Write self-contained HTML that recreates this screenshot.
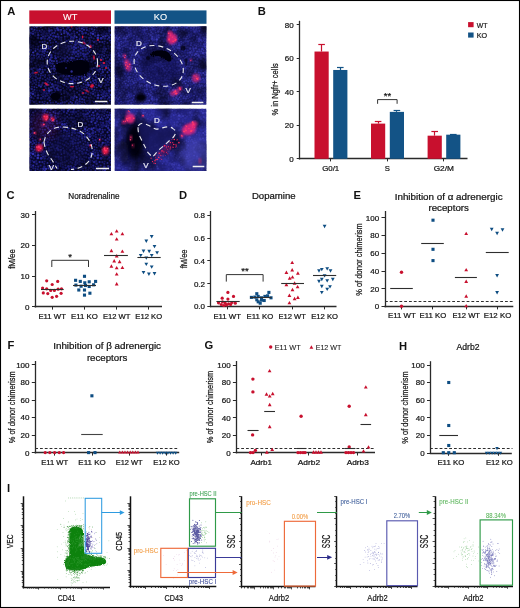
<!DOCTYPE html>
<html><head><meta charset="utf-8"><style>
html,body{margin:0;padding:0;background:#fff;}
body{width:520px;height:608px;overflow:hidden;font-family:"Liberation Sans", sans-serif;}
svg{display:block;will-change:transform;}
</style></head><body>
<svg width="520" height="608" viewBox="0 0 520 608" font-family='"Liberation Sans", sans-serif'>
<defs><pattern id="pA" width="60" height="60" patternUnits="userSpaceOnUse">
<circle cx="8.1" cy="50.8" r="1.23" fill="#3232b6" opacity="0.66"/>
<circle cx="45.7" cy="28.3" r="1.04" fill="#2a2aa6" opacity="0.66"/>
<circle cx="1.7" cy="50.1" r="1.07" fill="#222296" opacity="0.88"/>
<circle cx="16.0" cy="48.1" r="1.15" fill="#222296" opacity="0.96"/>
<circle cx="1.8" cy="1.5" r="1.12" fill="#1e1e86" opacity="0.88"/>
<circle cx="58.1" cy="43.6" r="1.11" fill="#1e1e86" opacity="0.98"/>
<circle cx="33.2" cy="20.7" r="1.19" fill="#1e1e86" opacity="0.98"/>
<circle cx="55.6" cy="25.0" r="1.31" fill="#222296" opacity="0.69"/>
<circle cx="-0.4" cy="51.6" r="0.91" fill="#3232b6" opacity="0.96"/>
<circle cx="59.6" cy="51.6" r="0.91" fill="#3232b6" opacity="0.96"/>
<circle cx="58.4" cy="30.0" r="1.33" fill="#2828a0" opacity="0.94"/>
<circle cx="40.2" cy="18.2" r="1.14" fill="#1e1e86" opacity="0.94"/>
<circle cx="30.3" cy="35.3" r="0.87" fill="#2a2aa6" opacity="0.90"/>
<circle cx="24.3" cy="39.9" r="1.03" fill="#3232b6" opacity="0.65"/>
<circle cx="39.8" cy="6.5" r="0.93" fill="#1e1e86" opacity="0.76"/>
<circle cx="18.5" cy="50.9" r="1.16" fill="#2828a0" opacity="0.77"/>
<circle cx="10.2" cy="30.1" r="1.34" fill="#2a2aa6" opacity="0.83"/>
<circle cx="51.6" cy="13.9" r="1.11" fill="#2828a0" opacity="0.75"/>
<circle cx="54.6" cy="39.6" r="1.15" fill="#222296" opacity="0.77"/>
<circle cx="51.4" cy="57.3" r="1.32" fill="#2828a0" opacity="0.93"/>
<circle cx="25.6" cy="3.4" r="1.29" fill="#2828a0" opacity="0.83"/>
<circle cx="48.8" cy="24.9" r="0.85" fill="#2828a0" opacity="0.86"/>
<circle cx="36.7" cy="27.5" r="0.86" fill="#2a2aa6" opacity="0.86"/>
<circle cx="33.0" cy="10.8" r="0.90" fill="#2828a0" opacity="0.92"/>
<circle cx="49.0" cy="15.3" r="1.27" fill="#222296" opacity="0.65"/>
<circle cx="45.3" cy="15.0" r="0.90" fill="#2828a0" opacity="0.69"/>
<circle cx="17.4" cy="10.0" r="0.98" fill="#2a2aa6" opacity="0.87"/>
<circle cx="42.2" cy="29.8" r="0.91" fill="#3232b6" opacity="0.77"/>
<circle cx="25.3" cy="11.3" r="0.90" fill="#2828a0" opacity="0.99"/>
<circle cx="57.9" cy="25.9" r="1.34" fill="#2a2aa6" opacity="0.63"/>
<circle cx="8.8" cy="43.1" r="0.93" fill="#2828a0" opacity="0.88"/>
<circle cx="32.7" cy="13.2" r="1.34" fill="#2828a0" opacity="0.79"/>
<circle cx="31.4" cy="1.8" r="1.19" fill="#3232b6" opacity="0.87"/>
<circle cx="25.6" cy="44.2" r="0.91" fill="#2a2aa6" opacity="0.95"/>
<circle cx="18.6" cy="56.4" r="1.22" fill="#1e1e86" opacity="0.83"/>
<circle cx="7.8" cy="33.6" r="1.28" fill="#2828a0" opacity="0.93"/>
<circle cx="57.7" cy="34.2" r="0.94" fill="#2828a0" opacity="0.81"/>
<circle cx="22.7" cy="20.8" r="0.95" fill="#1e1e86" opacity="0.84"/>
<circle cx="29.5" cy="56.3" r="1.05" fill="#2828a0" opacity="0.81"/>
<circle cx="54.0" cy="1.1" r="0.95" fill="#3232b6" opacity="0.93"/>
<circle cx="33.8" cy="8.1" r="1.06" fill="#3232b6" opacity="0.88"/>
<circle cx="20.6" cy="52.9" r="1.19" fill="#1e1e86" opacity="0.91"/>
<circle cx="2.4" cy="8.0" r="0.93" fill="#2828a0" opacity="0.70"/>
<circle cx="45.5" cy="36.0" r="1.27" fill="#3232b6" opacity="0.75"/>
<circle cx="6.8" cy="14.1" r="1.32" fill="#1e1e86" opacity="0.67"/>
<circle cx="2.3" cy="4.4" r="1.28" fill="#2a2aa6" opacity="0.93"/>
<circle cx="20.5" cy="36.9" r="1.24" fill="#1e1e86" opacity="0.65"/>
<circle cx="33.0" cy="34.0" r="1.33" fill="#3232b6" opacity="0.96"/>
<circle cx="33.9" cy="55.5" r="1.08" fill="#3232b6" opacity="0.66"/>
<circle cx="2.7" cy="17.7" r="1.16" fill="#222296" opacity="0.65"/>
<circle cx="6.9" cy="53.1" r="0.87" fill="#2a2aa6" opacity="0.92"/>
<circle cx="27.1" cy="40.9" r="0.93" fill="#222296" opacity="0.79"/>
<circle cx="57.9" cy="48.4" r="1.12" fill="#3232b6" opacity="0.83"/>
<circle cx="42.7" cy="18.9" r="0.95" fill="#3232b6" opacity="0.64"/>
<circle cx="0.6" cy="59.0" r="1.00" fill="#2828a0" opacity="0.74"/>
<circle cx="60.6" cy="59.0" r="1.00" fill="#2828a0" opacity="0.74"/>
<circle cx="23.5" cy="23.9" r="0.88" fill="#3232b6" opacity="0.99"/>
<circle cx="58.2" cy="6.7" r="0.96" fill="#2828a0" opacity="0.92"/>
<circle cx="53.5" cy="52.1" r="1.08" fill="#3232b6" opacity="0.72"/>
<circle cx="32.5" cy="18.4" r="0.97" fill="#222296" opacity="0.93"/>
<circle cx="5.4" cy="45.2" r="0.90" fill="#2828a0" opacity="0.86"/>
<circle cx="18.4" cy="19.6" r="1.01" fill="#2828a0" opacity="0.96"/>
<circle cx="35.8" cy="14.7" r="0.86" fill="#2a2aa6" opacity="0.77"/>
<circle cx="16.1" cy="52.1" r="1.21" fill="#222296" opacity="0.86"/>
<circle cx="29.6" cy="51.8" r="0.93" fill="#2828a0" opacity="0.92"/>
<circle cx="19.7" cy="30.6" r="1.18" fill="#2a2aa6" opacity="0.91"/>
<circle cx="19.2" cy="6.4" r="1.11" fill="#2828a0" opacity="0.73"/>
<circle cx="53.6" cy="8.5" r="1.31" fill="#222296" opacity="0.92"/>
<circle cx="49.3" cy="37.4" r="1.19" fill="#2828a0" opacity="0.94"/>
<circle cx="44.8" cy="41.4" r="0.94" fill="#1e1e86" opacity="0.82"/>
<circle cx="40.9" cy="26.8" r="1.07" fill="#3232b6" opacity="0.83"/>
<circle cx="51.1" cy="27.2" r="1.05" fill="#3232b6" opacity="0.69"/>
<circle cx="29.1" cy="47.6" r="1.32" fill="#2828a0" opacity="0.63"/>
<circle cx="41.5" cy="34.8" r="1.15" fill="#2a2aa6" opacity="0.72"/>
<circle cx="24.1" cy="36.7" r="0.97" fill="#222296" opacity="0.69"/>
<circle cx="55.2" cy="55.8" r="1.17" fill="#2a2aa6" opacity="0.71"/>
<circle cx="29.7" cy="28.7" r="0.96" fill="#1e1e86" opacity="0.75"/>
<circle cx="36.7" cy="43.7" r="1.18" fill="#2a2aa6" opacity="0.64"/>
<circle cx="4.3" cy="30.7" r="1.29" fill="#2a2aa6" opacity="0.81"/>
<circle cx="47.5" cy="12.2" r="1.00" fill="#3232b6" opacity="0.94"/>
<circle cx="22.3" cy="42.1" r="1.22" fill="#2828a0" opacity="0.65"/>
<circle cx="7.4" cy="36.4" r="1.11" fill="#1e1e86" opacity="0.69"/>
<circle cx="15.0" cy="13.1" r="1.13" fill="#222296" opacity="0.81"/>
<circle cx="23.0" cy="50.7" r="1.12" fill="#222296" opacity="0.82"/>
<circle cx="5.0" cy="58.5" r="1.33" fill="#2828a0" opacity="0.94"/>
<circle cx="39.6" cy="42.0" r="1.07" fill="#2a2aa6" opacity="0.99"/>
<circle cx="22.9" cy="48.2" r="1.07" fill="#2a2aa6" opacity="0.97"/>
<circle cx="26.3" cy="37.3" r="1.09" fill="#2a2aa6" opacity="0.67"/>
<circle cx="36.0" cy="24.5" r="0.91" fill="#3232b6" opacity="0.73"/>
<circle cx="22.7" cy="33.6" r="1.33" fill="#2828a0" opacity="0.79"/>
<circle cx="1.3" cy="37.7" r="1.15" fill="#3232b6" opacity="0.70"/>
<circle cx="17.1" cy="32.5" r="0.99" fill="#2828a0" opacity="0.91"/>
<circle cx="10.1" cy="21.4" r="1.06" fill="#222296" opacity="0.91"/>
<circle cx="34.2" cy="23.0" r="0.99" fill="#222296" opacity="0.96"/>
<circle cx="1.4" cy="34.2" r="0.86" fill="#3232b6" opacity="0.99"/>
<circle cx="45.7" cy="58.4" r="0.92" fill="#2828a0" opacity="0.76"/>
<circle cx="40.6" cy="45.5" r="1.01" fill="#222296" opacity="0.79"/>
<circle cx="27.0" cy="18.3" r="1.05" fill="#2828a0" opacity="0.81"/>
<circle cx="38.9" cy="22.7" r="0.95" fill="#222296" opacity="1.00"/>
<circle cx="44.3" cy="43.7" r="0.95" fill="#1e1e86" opacity="0.85"/>
<circle cx="42.7" cy="-0.7" r="1.20" fill="#1e1e86" opacity="0.86"/>
<circle cx="42.7" cy="59.3" r="1.20" fill="#1e1e86" opacity="0.86"/>
<circle cx="0.2" cy="23.3" r="1.06" fill="#1e1e86" opacity="0.75"/>
<circle cx="60.2" cy="23.3" r="1.06" fill="#1e1e86" opacity="0.75"/>
<circle cx="37.3" cy="58.5" r="1.20" fill="#222296" opacity="0.81"/>
<circle cx="44.7" cy="38.4" r="1.17" fill="#222296" opacity="0.77"/>
<circle cx="37.8" cy="38.0" r="1.32" fill="#3232b6" opacity="0.94"/>
<circle cx="46.0" cy="48.9" r="1.15" fill="#3232b6" opacity="0.97"/>
<circle cx="27.7" cy="15.6" r="0.93" fill="#2828a0" opacity="0.64"/>
<circle cx="30.6" cy="44.7" r="1.06" fill="#3232b6" opacity="0.65"/>
<circle cx="42.6" cy="9.7" r="0.90" fill="#3232b6" opacity="0.85"/>
<circle cx="12.5" cy="12.5" r="1.29" fill="#3232b6" opacity="0.65"/>
<circle cx="42.0" cy="54.6" r="1.18" fill="#1e1e86" opacity="0.81"/>
<circle cx="47.4" cy="52.0" r="1.01" fill="#2a2aa6" opacity="0.72"/>
<circle cx="39.7" cy="51.1" r="1.28" fill="#1e1e86" opacity="0.74"/>
<circle cx="37.6" cy="9.9" r="1.34" fill="#1e1e86" opacity="0.84"/>
<circle cx="56.0" cy="8.9" r="1.32" fill="#1e1e86" opacity="0.82"/>
<circle cx="8.3" cy="8.3" r="1.21" fill="#3232b6" opacity="0.74"/>
<circle cx="24.0" cy="7.0" r="0.95" fill="#3232b6" opacity="0.65"/>
<circle cx="13.7" cy="19.3" r="1.31" fill="#2a2aa6" opacity="0.64"/>
<circle cx="48.6" cy="1.4" r="1.23" fill="#222296" opacity="0.81"/>
<circle cx="53.2" cy="26.5" r="1.18" fill="#3232b6" opacity="0.66"/>
<circle cx="24.0" cy="29.7" r="1.04" fill="#2a2aa6" opacity="0.99"/>
<circle cx="14.1" cy="17.0" r="1.12" fill="#1e1e86" opacity="0.70"/>
<circle cx="-0.3" cy="2.8" r="1.25" fill="#1e1e86" opacity="0.74"/>
<circle cx="59.7" cy="2.8" r="1.25" fill="#1e1e86" opacity="0.74"/>
<circle cx="52.8" cy="45.5" r="0.93" fill="#222296" opacity="0.63"/>
<circle cx="8.7" cy="39.9" r="0.88" fill="#1e1e86" opacity="0.72"/>
<circle cx="4.8" cy="39.1" r="1.00" fill="#222296" opacity="0.63"/>
<circle cx="7.0" cy="5.5" r="0.86" fill="#2a2aa6" opacity="0.90"/>
<circle cx="38.5" cy="14.6" r="0.88" fill="#2828a0" opacity="0.69"/>
<circle cx="54.3" cy="32.8" r="1.12" fill="#2828a0" opacity="0.78"/>
<circle cx="58.6" cy="9.1" r="1.31" fill="#1e1e86" opacity="0.94"/>
<circle cx="48.8" cy="28.2" r="1.04" fill="#3232b6" opacity="0.64"/>
<circle cx="31.9" cy="26.6" r="0.91" fill="#1e1e86" opacity="0.91"/>
<circle cx="3.5" cy="15.7" r="1.22" fill="#3232b6" opacity="0.92"/>
<circle cx="18.2" cy="25.5" r="0.97" fill="#2828a0" opacity="0.70"/>
<circle cx="55.4" cy="30.6" r="1.05" fill="#2828a0" opacity="0.80"/>
<circle cx="50.6" cy="34.9" r="1.11" fill="#222296" opacity="0.96"/>
<circle cx="49.9" cy="17.5" r="0.93" fill="#3232b6" opacity="0.77"/>
<circle cx="19.1" cy="16.4" r="1.22" fill="#2828a0" opacity="0.81"/>
<circle cx="31.6" cy="8.9" r="1.31" fill="#3232b6" opacity="0.92"/>
<circle cx="34.4" cy="27.1" r="0.99" fill="#1e1e86" opacity="0.97"/>
<circle cx="55.7" cy="58.2" r="1.26" fill="#222296" opacity="0.97"/>
<circle cx="48.1" cy="8.1" r="1.11" fill="#2828a0" opacity="0.94"/>
<circle cx="22.2" cy="18.4" r="1.15" fill="#3232b6" opacity="0.82"/>
<circle cx="54.4" cy="11.1" r="1.06" fill="#2828a0" opacity="0.64"/>
<circle cx="15.9" cy="6.4" r="0.98" fill="#2828a0" opacity="0.82"/>
<circle cx="4.7" cy="4.4" r="1.28" fill="#2a2aa6" opacity="0.81"/>
<circle cx="53.9" cy="14.1" r="1.08" fill="#3232b6" opacity="0.83"/>
<circle cx="43.5" cy="48.8" r="1.35" fill="#3232b6" opacity="0.77"/>
<circle cx="0.5" cy="31.9" r="1.04" fill="#1e1e86" opacity="0.65"/>
<circle cx="60.5" cy="31.9" r="1.04" fill="#1e1e86" opacity="0.65"/>
<circle cx="37.0" cy="30.6" r="1.14" fill="#1e1e86" opacity="0.64"/>
<circle cx="11.4" cy="18.0" r="1.20" fill="#222296" opacity="0.83"/>
<circle cx="49.3" cy="30.7" r="1.35" fill="#3232b6" opacity="0.99"/>
<circle cx="33.1" cy="31.5" r="1.12" fill="#2828a0" opacity="0.78"/>
<circle cx="37.8" cy="18.5" r="1.00" fill="#2828a0" opacity="0.79"/>
<circle cx="8.4" cy="46.4" r="1.34" fill="#3232b6" opacity="0.86"/>
<circle cx="24.1" cy="56.2" r="1.30" fill="#222296" opacity="0.96"/>
<circle cx="55.5" cy="50.8" r="1.04" fill="#1e1e86" opacity="0.72"/>
<circle cx="29.0" cy="8.7" r="0.92" fill="#2a2aa6" opacity="0.93"/>
<circle cx="3.9" cy="12.4" r="0.92" fill="#222296" opacity="0.66"/>
<circle cx="11.2" cy="0.2" r="1.06" fill="#222296" opacity="0.83"/>
<circle cx="11.2" cy="60.2" r="1.06" fill="#222296" opacity="0.83"/>
<circle cx="16.7" cy="28.8" r="1.25" fill="#222296" opacity="0.92"/>
<circle cx="51.2" cy="6.3" r="1.04" fill="#2a2aa6" opacity="0.68"/>
<circle cx="15.5" cy="44.6" r="1.32" fill="#2828a0" opacity="0.73"/>
<circle cx="45.6" cy="20.2" r="1.09" fill="#222296" opacity="0.91"/>
<circle cx="53.1" cy="42.5" r="0.88" fill="#1e1e86" opacity="0.73"/>
<circle cx="54.3" cy="6.0" r="1.10" fill="#3232b6" opacity="0.89"/>
<circle cx="11.7" cy="33.7" r="1.15" fill="#222296" opacity="0.82"/>
<circle cx="24.8" cy="16.8" r="1.20" fill="#3232b6" opacity="0.81"/>
<circle cx="14.5" cy="10.6" r="1.23" fill="#2828a0" opacity="0.88"/>
<circle cx="19.6" cy="41.4" r="1.17" fill="#2a2aa6" opacity="0.74"/>
<circle cx="29.6" cy="19.8" r="0.91" fill="#2a2aa6" opacity="0.89"/>
<circle cx="13.5" cy="38.1" r="1.26" fill="#222296" opacity="0.83"/>
<circle cx="41.1" cy="13.6" r="0.95" fill="#2828a0" opacity="0.87"/>
<circle cx="4.7" cy="55.5" r="1.04" fill="#2a2aa6" opacity="0.66"/>
<circle cx="19.7" cy="0.5" r="1.29" fill="#222296" opacity="0.75"/>
<circle cx="19.7" cy="60.5" r="1.29" fill="#222296" opacity="0.75"/>
<circle cx="52.2" cy="24.3" r="1.19" fill="#2828a0" opacity="0.90"/>
<circle cx="28.5" cy="25.1" r="1.32" fill="#3232b6" opacity="0.96"/>
<circle cx="38.0" cy="32.9" r="0.88" fill="#2828a0" opacity="0.66"/>
<circle cx="14.4" cy="53.8" r="0.99" fill="#222296" opacity="0.72"/>
<circle cx="6.2" cy="22.4" r="1.18" fill="#2828a0" opacity="0.76"/>
<circle cx="33.3" cy="48.3" r="1.10" fill="#2828a0" opacity="0.63"/>
<circle cx="9.3" cy="54.8" r="0.92" fill="#2a2aa6" opacity="0.80"/>
<circle cx="48.1" cy="46.0" r="1.03" fill="#3232b6" opacity="0.68"/>
<circle cx="26.4" cy="7.1" r="1.15" fill="#3232b6" opacity="0.73"/>
<circle cx="41.2" cy="38.3" r="1.33" fill="#2828a0" opacity="0.98"/>
<circle cx="3.2" cy="28.2" r="0.87" fill="#222296" opacity="0.93"/>
<circle cx="34.1" cy="58.1" r="1.03" fill="#1e1e86" opacity="0.93"/>
<circle cx="14.4" cy="33.7" r="1.03" fill="#2a2aa6" opacity="0.66"/>
<circle cx="2.4" cy="42.2" r="1.06" fill="#3232b6" opacity="0.72"/>
<circle cx="37.5" cy="53.9" r="1.31" fill="#2828a0" opacity="0.79"/>
<circle cx="1.3" cy="53.8" r="1.04" fill="#2a2aa6" opacity="0.77"/>
<circle cx="58.5" cy="19.7" r="0.97" fill="#1e1e86" opacity="0.90"/>
<circle cx="22.2" cy="39.1" r="1.18" fill="#2a2aa6" opacity="0.78"/>
<circle cx="7.5" cy="0.7" r="1.06" fill="#222296" opacity="0.87"/>
<circle cx="7.5" cy="60.7" r="1.06" fill="#222296" opacity="0.87"/>
<circle cx="48.9" cy="55.1" r="0.93" fill="#2828a0" opacity="0.93"/>
<circle cx="56.8" cy="1.1" r="1.05" fill="#2a2aa6" opacity="0.82"/>
<circle cx="23.4" cy="0.3" r="1.25" fill="#1e1e86" opacity="0.96"/>
<circle cx="23.4" cy="60.3" r="1.25" fill="#1e1e86" opacity="0.96"/>
<circle cx="39.7" cy="20.5" r="0.97" fill="#2828a0" opacity="0.98"/>
<circle cx="25.6" cy="47.7" r="1.32" fill="#2a2aa6" opacity="0.89"/>
<circle cx="33.6" cy="38.5" r="1.09" fill="#2828a0" opacity="0.71"/>
<circle cx="26.9" cy="30.1" r="1.06" fill="#2a2aa6" opacity="0.89"/>
<circle cx="29.7" cy="16.7" r="1.31" fill="#3232b6" opacity="0.84"/>
<circle cx="50.7" cy="46.8" r="1.16" fill="#3232b6" opacity="0.75"/>
<circle cx="11.8" cy="48.1" r="1.12" fill="#2a2aa6" opacity="0.83"/>
<circle cx="8.4" cy="27.6" r="1.21" fill="#222296" opacity="0.86"/>
<circle cx="32.3" cy="4.5" r="0.97" fill="#1e1e86" opacity="0.67"/>
<circle cx="12.1" cy="43.1" r="1.05" fill="#2a2aa6" opacity="0.71"/>
<circle cx="15.3" cy="3.5" r="1.26" fill="#3232b6" opacity="0.68"/>
<circle cx="-0.9" cy="12.7" r="1.32" fill="#2828a0" opacity="0.67"/>
<circle cx="59.1" cy="12.7" r="1.32" fill="#2828a0" opacity="0.67"/>
<circle cx="43.0" cy="15.3" r="0.85" fill="#222296" opacity="0.93"/>
<circle cx="29.6" cy="40.2" r="1.27" fill="#2a2aa6" opacity="0.83"/>
<circle cx="40.7" cy="2.6" r="1.06" fill="#1e1e86" opacity="0.69"/>
<circle cx="21.6" cy="14.0" r="1.18" fill="#2828a0" opacity="0.99"/>
<circle cx="46.6" cy="3.9" r="1.30" fill="#1e1e86" opacity="0.64"/>
<circle cx="3.9" cy="52.0" r="1.13" fill="#222296" opacity="1.00"/>
<circle cx="35.4" cy="51.1" r="0.99" fill="#2828a0" opacity="0.92"/>
<circle cx="46.5" cy="24.9" r="1.35" fill="#222296" opacity="0.84"/>
<circle cx="20.2" cy="22.1" r="1.13" fill="#3232b6" opacity="0.84"/>
<circle cx="19.5" cy="12.8" r="1.30" fill="#2a2aa6" opacity="0.84"/>
<circle cx="25.3" cy="21.6" r="1.02" fill="#3232b6" opacity="0.85"/>
<circle cx="37.8" cy="49.2" r="0.98" fill="#1e1e86" opacity="0.83"/>
<circle cx="4.5" cy="10.2" r="1.32" fill="#3232b6" opacity="0.78"/>
<circle cx="42.4" cy="42.1" r="1.16" fill="#2828a0" opacity="0.78"/>
<circle cx="0.6" cy="45.9" r="0.89" fill="#2a2aa6" opacity="0.63"/>
<circle cx="60.6" cy="45.9" r="0.89" fill="#2a2aa6" opacity="0.63"/>
<circle cx="39.2" cy="11.7" r="0.94" fill="#2828a0" opacity="0.73"/>
<circle cx="28.4" cy="1.4" r="0.86" fill="#222296" opacity="0.87"/>
<circle cx="50.8" cy="49.6" r="1.14" fill="#3232b6" opacity="0.65"/>
<circle cx="49.9" cy="40.5" r="1.11" fill="#2828a0" opacity="0.91"/>
<circle cx="15.3" cy="0.9" r="1.23" fill="#1e1e86" opacity="0.79"/>
<circle cx="15.3" cy="60.9" r="1.23" fill="#1e1e86" opacity="0.79"/>
<circle cx="12.5" cy="28.6" r="1.02" fill="#2a2aa6" opacity="0.77"/>
<circle cx="0.9" cy="20.3" r="1.14" fill="#222296" opacity="0.70"/>
<circle cx="60.9" cy="20.3" r="1.14" fill="#222296" opacity="0.70"/>
<circle cx="4.9" cy="7.2" r="1.34" fill="#222296" opacity="0.67"/>
<circle cx="11.0" cy="46.0" r="1.10" fill="#2828a0" opacity="0.86"/>
<circle cx="42.8" cy="22.8" r="1.16" fill="#3232b6" opacity="0.90"/>
<circle cx="33.2" cy="52.5" r="1.11" fill="#3232b6" opacity="0.98"/>
<circle cx="25.8" cy="50.5" r="1.23" fill="#1e1e86" opacity="0.66"/>
<circle cx="13.1" cy="40.3" r="1.06" fill="#222296" opacity="0.65"/>
<circle cx="1.0" cy="11.1" r="1.17" fill="#2a2aa6" opacity="0.70"/>
<circle cx="61.0" cy="11.1" r="1.17" fill="#2a2aa6" opacity="0.70"/>
<circle cx="5.9" cy="47.7" r="1.29" fill="#2a2aa6" opacity="0.64"/>
<circle cx="11.1" cy="3.4" r="0.88" fill="#222296" opacity="0.65"/>
<circle cx="21.4" cy="45.9" r="1.31" fill="#2828a0" opacity="0.77"/>
<circle cx="10.7" cy="38.9" r="0.97" fill="#1e1e86" opacity="0.96"/>
<circle cx="55.8" cy="45.3" r="1.04" fill="#1e1e86" opacity="0.76"/>
<circle cx="30.7" cy="22.2" r="1.00" fill="#3232b6" opacity="0.84"/>
<circle cx="4.8" cy="36.7" r="0.97" fill="#3232b6" opacity="0.69"/>
<circle cx="25.7" cy="33.0" r="1.29" fill="#222296" opacity="0.94"/>
<circle cx="7.2" cy="56.9" r="0.87" fill="#3232b6" opacity="0.96"/>
<circle cx="53.4" cy="36.0" r="1.28" fill="#1e1e86" opacity="0.95"/>
<circle cx="11.0" cy="51.9" r="0.95" fill="#222296" opacity="0.73"/>
<circle cx="46.4" cy="1.3" r="1.09" fill="#2a2aa6" opacity="0.64"/>
<circle cx="40.2" cy="59.1" r="0.86" fill="#3232b6" opacity="0.96"/>
<circle cx="16.9" cy="15.4" r="0.94" fill="#2a2aa6" opacity="0.75"/>
<circle cx="23.8" cy="27.0" r="1.27" fill="#2a2aa6" opacity="0.63"/>
<circle cx="38.4" cy="4.7" r="0.89" fill="#2828a0" opacity="0.81"/>
<circle cx="34.2" cy="42.0" r="1.31" fill="#2a2aa6" opacity="0.83"/>
<circle cx="35.3" cy="3.1" r="1.21" fill="#3232b6" opacity="0.79"/>
<circle cx="52.6" cy="3.6" r="1.18" fill="#2828a0" opacity="0.70"/>
<circle cx="40.9" cy="48.8" r="1.02" fill="#1e1e86" opacity="0.76"/>
<circle cx="50.1" cy="3.2" r="1.21" fill="#222296" opacity="0.82"/>
<circle cx="8.2" cy="23.8" r="1.09" fill="#2828a0" opacity="0.94"/>
<circle cx="46.5" cy="33.4" r="1.25" fill="#222296" opacity="0.99"/>
<circle cx="21.0" cy="8.2" r="0.95" fill="#2a2aa6" opacity="0.96"/>
<circle cx="27.2" cy="-0.6" r="1.13" fill="#3232b6" opacity="0.77"/>
<circle cx="27.2" cy="59.4" r="1.13" fill="#3232b6" opacity="0.77"/>
<circle cx="7.4" cy="19.1" r="1.35" fill="#1e1e86" opacity="0.98"/>
<circle cx="23.3" cy="54.1" r="1.33" fill="#2828a0" opacity="0.92"/>
<circle cx="14.0" cy="49.4" r="1.01" fill="#2a2aa6" opacity="0.89"/>
<circle cx="48.5" cy="5.6" r="1.05" fill="#2a2aa6" opacity="0.66"/>
<circle cx="52.0" cy="19.9" r="1.07" fill="#2828a0" opacity="0.82"/>
<circle cx="1.3" cy="40.2" r="1.08" fill="#2828a0" opacity="0.79"/>
<circle cx="55.2" cy="21.8" r="0.88" fill="#222296" opacity="0.94"/>
<circle cx="36.2" cy="5.8" r="1.12" fill="#1e1e86" opacity="0.86"/>
<circle cx="22.2" cy="5.8" r="0.90" fill="#2a2aa6" opacity="0.66"/>
<circle cx="16.6" cy="37.2" r="1.07" fill="#3232b6" opacity="0.97"/>
<circle cx="44.7" cy="26.3" r="1.00" fill="#2828a0" opacity="0.69"/>
<circle cx="58.4" cy="53.6" r="1.26" fill="#3232b6" opacity="0.94"/>
<circle cx="28.2" cy="34.2" r="1.01" fill="#3232b6" opacity="0.67"/>
<circle cx="0.7" cy="16.0" r="1.33" fill="#222296" opacity="0.83"/>
<circle cx="60.7" cy="16.0" r="1.33" fill="#222296" opacity="0.83"/>
<circle cx="6.7" cy="41.1" r="1.15" fill="#2828a0" opacity="0.97"/>
<circle cx="18.3" cy="47.1" r="0.93" fill="#2a2aa6" opacity="0.71"/>
<circle cx="55.8" cy="36.7" r="1.09" fill="#3232b6" opacity="0.92"/>
<circle cx="53.9" cy="47.9" r="1.19" fill="#1e1e86" opacity="0.87"/>
<circle cx="29.8" cy="42.4" r="1.32" fill="#2828a0" opacity="0.78"/>
<circle cx="20.9" cy="2.5" r="0.89" fill="#222296" opacity="0.84"/>
<circle cx="13.8" cy="58.3" r="1.28" fill="#222296" opacity="0.72"/>
<circle cx="12.2" cy="9.9" r="1.13" fill="#2828a0" opacity="0.65"/>
<circle cx="-1.0" cy="39.1" r="1.02" fill="#222296" opacity="0.65"/>
<circle cx="59.0" cy="39.1" r="1.02" fill="#222296" opacity="0.65"/>
<circle cx="13.9" cy="31.4" r="1.21" fill="#2828a0" opacity="0.79"/>
<circle cx="19.2" cy="34.6" r="1.11" fill="#3232b6" opacity="0.69"/>
<circle cx="13.1" cy="23.8" r="1.29" fill="#2828a0" opacity="0.80"/>
<circle cx="44.4" cy="53.2" r="0.96" fill="#2a2aa6" opacity="0.80"/>
<circle cx="4.5" cy="25.2" r="1.14" fill="#222296" opacity="0.99"/>
<circle cx="38.9" cy="56.9" r="0.97" fill="#3232b6" opacity="0.81"/>
<circle cx="38.2" cy="46.6" r="1.08" fill="#1e1e86" opacity="0.87"/>
<circle cx="29.3" cy="5.0" r="1.19" fill="#222296" opacity="0.63"/>
<circle cx="50.7" cy="42.8" r="0.86" fill="#2828a0" opacity="0.70"/>
<circle cx="9.2" cy="10.8" r="0.89" fill="#222296" opacity="0.69"/>
<circle cx="45.0" cy="9.7" r="1.07" fill="#2828a0" opacity="0.81"/>
<circle cx="44.9" cy="17.1" r="1.02" fill="#1e1e86" opacity="0.95"/>
<circle cx="10.4" cy="5.7" r="1.12" fill="#1e1e86" opacity="0.92"/>
<circle cx="28.3" cy="44.5" r="0.95" fill="#2828a0" opacity="0.79"/>
<circle cx="43.5" cy="33.7" r="1.34" fill="#1e1e86" opacity="0.89"/>
<circle cx="46.6" cy="55.1" r="1.13" fill="#1e1e86" opacity="0.98"/>
<circle cx="3.4" cy="20.7" r="1.18" fill="#222296" opacity="0.88"/>
<circle cx="39.0" cy="25.4" r="1.22" fill="#2828a0" opacity="1.00"/>
<circle cx="49.4" cy="10.0" r="1.14" fill="#3232b6" opacity="0.84"/>
<circle cx="58.5" cy="36.8" r="1.26" fill="#2a2aa6" opacity="0.82"/>
<circle cx="15.3" cy="23.0" r="1.26" fill="#2a2aa6" opacity="0.74"/>
<circle cx="49.3" cy="19.7" r="1.16" fill="#2828a0" opacity="0.70"/>
<circle cx="6.7" cy="3.2" r="1.00" fill="#2828a0" opacity="0.74"/>
<circle cx="31.0" cy="50.0" r="0.90" fill="#222296" opacity="0.78"/>
<circle cx="11.4" cy="57.7" r="1.32" fill="#3232b6" opacity="0.84"/>
<circle cx="6.4" cy="31.9" r="0.88" fill="#2828a0" opacity="0.91"/>
<circle cx="34.5" cy="29.8" r="0.98" fill="#3232b6" opacity="0.72"/>
<circle cx="47.7" cy="57.3" r="1.16" fill="#3232b6" opacity="0.67"/>
<circle cx="21.3" cy="26.1" r="1.21" fill="#2828a0" opacity="0.65"/>
<circle cx="52.8" cy="16.9" r="1.19" fill="#2a2aa6" opacity="0.94"/>
<circle cx="17.3" cy="-0.7" r="0.87" fill="#2a2aa6" opacity="0.75"/>
<circle cx="17.3" cy="59.3" r="0.87" fill="#2a2aa6" opacity="0.75"/>
<circle cx="2.5" cy="24.0" r="0.85" fill="#2828a0" opacity="0.73"/>
<circle cx="6.3" cy="16.5" r="1.22" fill="#2a2aa6" opacity="0.68"/>
<circle cx="29.2" cy="11.6" r="1.07" fill="#1e1e86" opacity="0.73"/>
<circle cx="11.9" cy="15.0" r="0.92" fill="#3232b6" opacity="0.99"/>
<circle cx="33.4" cy="0.3" r="0.99" fill="#2a2aa6" opacity="0.64"/>
<circle cx="33.4" cy="60.3" r="0.99" fill="#2a2aa6" opacity="0.64"/>
<circle cx="11.4" cy="36.8" r="1.33" fill="#2828a0" opacity="0.72"/>
<circle cx="51.3" cy="55.0" r="1.34" fill="#3232b6" opacity="0.82"/>
<circle cx="1.0" cy="29.8" r="1.09" fill="#2828a0" opacity="0.95"/>
<circle cx="61.0" cy="29.8" r="1.09" fill="#2828a0" opacity="0.95"/>
<circle cx="47.6" cy="39.0" r="1.08" fill="#222296" opacity="0.78"/>
<circle cx="47.5" cy="42.9" r="0.92" fill="#3232b6" opacity="0.79"/>
<circle cx="0.4" cy="26.7" r="1.27" fill="#1e1e86" opacity="0.74"/>
<circle cx="60.4" cy="26.7" r="1.27" fill="#1e1e86" opacity="0.74"/>
<circle cx="56.3" cy="13.2" r="1.01" fill="#3232b6" opacity="0.70"/>
<circle cx="2.5" cy="57.6" r="1.20" fill="#2828a0" opacity="0.80"/>
<circle cx="55.6" cy="53.2" r="1.03" fill="#2828a0" opacity="0.99"/>
<circle cx="43.9" cy="5.6" r="1.29" fill="#1e1e86" opacity="0.76"/>
<circle cx="42.7" cy="51.4" r="1.23" fill="#3232b6" opacity="0.70"/>
<circle cx="27.7" cy="53.5" r="1.26" fill="#2828a0" opacity="0.78"/>
<circle cx="54.3" cy="19.2" r="0.93" fill="#3232b6" opacity="0.89"/>
<circle cx="16.9" cy="40.2" r="1.19" fill="#2828a0" opacity="0.64"/>
<circle cx="36.8" cy="1.4" r="1.12" fill="#1e1e86" opacity="0.93"/>
<circle cx="35.5" cy="19.9" r="1.18" fill="#2a2aa6" opacity="0.85"/>
<circle cx="42.8" cy="12.1" r="1.28" fill="#2a2aa6" opacity="0.79"/>
<circle cx="14.0" cy="47.1" r="1.33" fill="#2828a0" opacity="0.81"/>
<circle cx="26.5" cy="27.6" r="1.18" fill="#2828a0" opacity="0.87"/>
<circle cx="15.5" cy="42.1" r="0.99" fill="#2a2aa6" opacity="0.79"/>
<circle cx="41.7" cy="57.3" r="0.93" fill="#2a2aa6" opacity="0.75"/>
<circle cx="4.2" cy="33.2" r="1.14" fill="#3232b6" opacity="0.68"/>
<circle cx="19.3" cy="28.1" r="1.11" fill="#1e1e86" opacity="0.95"/>
<circle cx="33.2" cy="45.6" r="1.14" fill="#2a2aa6" opacity="0.97"/>
<circle cx="31.9" cy="58.6" r="1.30" fill="#1e1e86" opacity="0.93"/>
<circle cx="16.0" cy="56.2" r="0.86" fill="#2828a0" opacity="0.94"/>
<circle cx="58.3" cy="56.7" r="1.30" fill="#2828a0" opacity="0.64"/>
<circle cx="17.5" cy="43.2" r="1.15" fill="#1e1e86" opacity="0.75"/>
<circle cx="35.2" cy="35.8" r="1.31" fill="#2828a0" opacity="0.73"/>
<circle cx="9.0" cy="16.1" r="1.33" fill="#2a2aa6" opacity="0.96"/>
<circle cx="46.8" cy="30.7" r="1.12" fill="#1e1e86" opacity="0.63"/>
<circle cx="20.9" cy="48.9" r="1.13" fill="#2828a0" opacity="0.78"/>
<circle cx="45.1" cy="22.9" r="0.92" fill="#1e1e86" opacity="0.83"/>
<circle cx="50.1" cy="-0.5" r="1.15" fill="#3232b6" opacity="0.89"/>
<circle cx="50.1" cy="59.5" r="1.15" fill="#3232b6" opacity="0.89"/>
<circle cx="23.8" cy="46.1" r="1.19" fill="#2828a0" opacity="0.65"/>
<circle cx="38.2" cy="35.2" r="1.20" fill="#3232b6" opacity="0.95"/>
<circle cx="22.9" cy="10.9" r="0.98" fill="#2a2aa6" opacity="0.77"/>
<circle cx="16.0" cy="26.6" r="1.14" fill="#222296" opacity="0.90"/>
<circle cx="47.7" cy="22.1" r="1.28" fill="#1e1e86" opacity="0.87"/>
<circle cx="20.7" cy="55.3" r="1.06" fill="#222296" opacity="0.73"/>
<circle cx="31.7" cy="54.9" r="0.93" fill="#222296" opacity="0.94"/>
<circle cx="57.2" cy="3.5" r="1.11" fill="#3232b6" opacity="0.68"/>
<circle cx="39.6" cy="30.8" r="0.96" fill="#222296" opacity="0.85"/>
<circle cx="18.0" cy="54.1" r="1.16" fill="#2828a0" opacity="0.74"/>
<circle cx="31.3" cy="46.9" r="1.14" fill="#2828a0" opacity="0.66"/>
<circle cx="36.3" cy="40.9" r="1.04" fill="#1e1e86" opacity="0.68"/>
<circle cx="50.3" cy="22.7" r="0.87" fill="#2828a0" opacity="0.75"/>
<circle cx="44.4" cy="46.7" r="1.23" fill="#1e1e86" opacity="0.97"/>
<circle cx="46.2" cy="6.3" r="1.13" fill="#2a2aa6" opacity="0.98"/>
<circle cx="51.7" cy="38.4" r="0.97" fill="#222296" opacity="0.89"/>
<circle cx="8.9" cy="2.5" r="1.11" fill="#1e1e86" opacity="0.64"/>
<circle cx="32.4" cy="24.3" r="1.01" fill="#2a2aa6" opacity="0.72"/>
<circle cx="25.6" cy="54.5" r="1.07" fill="#2828a0" opacity="1.00"/>
<circle cx="13.3" cy="26.3" r="0.85" fill="#2a2aa6" opacity="0.83"/>
<circle cx="44.1" cy="55.9" r="0.92" fill="#3232b6" opacity="0.77"/>
<circle cx="27.5" cy="13.3" r="1.24" fill="#222296" opacity="0.90"/>
<circle cx="56.0" cy="41.9" r="0.93" fill="#2a2aa6" opacity="0.93"/>
<circle cx="51.0" cy="11.6" r="1.16" fill="#2a2aa6" opacity="0.64"/>
<circle cx="58.5" cy="17.5" r="1.15" fill="#3232b6" opacity="0.73"/>
<circle cx="9.1" cy="13.3" r="1.00" fill="#1e1e86" opacity="0.97"/>
<circle cx="56.7" cy="16.0" r="0.88" fill="#2828a0" opacity="0.63"/>
<circle cx="52.1" cy="33.1" r="0.87" fill="#2a2aa6" opacity="0.91"/>
<circle cx="17.6" cy="3.8" r="1.02" fill="#2828a0" opacity="0.77"/>
<circle cx="51.5" cy="30.2" r="1.22" fill="#3232b6" opacity="0.68"/>
<circle cx="51.8" cy="0.9" r="1.06" fill="#3232b6" opacity="0.74"/>
<circle cx="51.8" cy="60.9" r="1.06" fill="#3232b6" opacity="0.74"/>
<circle cx="40.8" cy="15.8" r="0.93" fill="#1e1e86" opacity="0.91"/>
<circle cx="6.7" cy="29.3" r="0.94" fill="#222296" opacity="0.82"/>
<circle cx="58.1" cy="22.5" r="1.30" fill="#2828a0" opacity="0.62"/>
<circle cx="43.1" cy="2.9" r="1.08" fill="#222296" opacity="0.80"/>
<circle cx="12.9" cy="4.8" r="1.22" fill="#1e1e86" opacity="0.65"/>
<circle cx="10.0" cy="25.7" r="1.20" fill="#1e1e86" opacity="0.77"/>
<circle cx="27.8" cy="22.7" r="1.02" fill="#3232b6" opacity="0.96"/>
<circle cx="35.7" cy="46.5" r="0.86" fill="#1e1e86" opacity="0.79"/>
<circle cx="6.9" cy="11.3" r="1.14" fill="#222296" opacity="0.92"/>
<circle cx="58.1" cy="46.0" r="1.04" fill="#2828a0" opacity="0.88"/>
<circle cx="15.7" cy="20.2" r="0.88" fill="#2828a0" opacity="0.88"/>
<circle cx="33.9" cy="16.0" r="1.04" fill="#222296" opacity="0.63"/>
<circle cx="22.0" cy="31.5" r="1.03" fill="#222296" opacity="0.93"/>
<circle cx="4.0" cy="49.7" r="1.10" fill="#222296" opacity="0.66"/>
<circle cx="31.7" cy="15.7" r="0.97" fill="#1e1e86" opacity="0.70"/>
<circle cx="0.5" cy="6.9" r="1.04" fill="#3232b6" opacity="0.80"/>
<circle cx="60.5" cy="6.9" r="1.04" fill="#3232b6" opacity="0.80"/>
<circle cx="24.8" cy="19.2" r="1.02" fill="#2828a0" opacity="0.73"/>
<circle cx="12.7" cy="7.3" r="0.91" fill="#2828a0" opacity="0.74"/>
<circle cx="2.6" cy="44.5" r="0.98" fill="#2828a0" opacity="0.74"/>
<circle cx="3.0" cy="47.2" r="1.34" fill="#1e1e86" opacity="0.71"/>
<circle cx="39.9" cy="9.2" r="1.24" fill="#2a2aa6" opacity="0.99"/>
<circle cx="29.1" cy="37.9" r="1.17" fill="#2828a0" opacity="0.89"/>
<circle cx="4.3" cy="0.8" r="1.25" fill="#2a2aa6" opacity="0.62"/>
<circle cx="4.3" cy="60.8" r="1.25" fill="#2a2aa6" opacity="0.62"/>
<circle cx="0.6" cy="43.5" r="1.14" fill="#222296" opacity="0.98"/>
<circle cx="60.6" cy="43.5" r="1.14" fill="#222296" opacity="0.98"/>
<circle cx="24.7" cy="14.3" r="0.96" fill="#3232b6" opacity="0.68"/>
<circle cx="19.8" cy="10.1" r="0.90" fill="#1e1e86" opacity="0.67"/>
<circle cx="48.6" cy="48.3" r="1.15" fill="#2a2aa6" opacity="0.93"/>
<circle cx="26.5" cy="57.0" r="1.15" fill="#222296" opacity="0.79"/>
<circle cx="19.8" cy="44.4" r="1.26" fill="#222296" opacity="0.77"/>
<circle cx="9.3" cy="48.9" r="1.18" fill="#2828a0" opacity="0.89"/>
<circle cx="23.1" cy="3.3" r="0.96" fill="#1e1e86" opacity="0.89"/>
<circle cx="25.9" cy="25.0" r="1.14" fill="#2a2aa6" opacity="0.62"/>
<circle cx="54.4" cy="28.6" r="1.09" fill="#2828a0" opacity="0.66"/>
<circle cx="21.6" cy="58.9" r="1.03" fill="#2a2aa6" opacity="0.88"/>
<circle cx="45.0" cy="50.9" r="1.04" fill="#2828a0" opacity="0.94"/>
<circle cx="21.9" cy="28.6" r="1.14" fill="#3232b6" opacity="0.83"/>
<circle cx="12.2" cy="54.4" r="0.92" fill="#2828a0" opacity="0.82"/>
<circle cx="13.4" cy="51.9" r="1.31" fill="#2a2aa6" opacity="0.81"/>
<circle cx="39.7" cy="54.8" r="1.14" fill="#1e1e86" opacity="0.73"/>
<circle cx="31.3" cy="37.4" r="1.16" fill="#2a2aa6" opacity="0.88"/>
<circle cx="4.8" cy="42.3" r="1.20" fill="#2828a0" opacity="0.75"/>
<circle cx="49.0" cy="33.1" r="0.99" fill="#1e1e86" opacity="0.81"/>
<circle cx="19.7" cy="39.0" r="0.96" fill="#2a2aa6" opacity="0.84"/>
<circle cx="31.9" cy="28.9" r="0.98" fill="#2a2aa6" opacity="0.82"/>
<circle cx="12.4" cy="21.5" r="1.33" fill="#2a2aa6" opacity="0.98"/>
<circle cx="1.5" cy="13.5" r="0.87" fill="#1e1e86" opacity="0.75"/>
<circle cx="36.4" cy="55.9" r="0.85" fill="#222296" opacity="0.63"/>
<circle cx="30.8" cy="33.0" r="1.17" fill="#2828a0" opacity="0.81"/>
<circle cx="6.6" cy="26.3" r="0.89" fill="#3232b6" opacity="0.83"/>
<circle cx="56.5" cy="18.6" r="1.21" fill="#222296" opacity="0.69"/>
<circle cx="47.7" cy="35.6" r="1.01" fill="#2a2aa6" opacity="0.72"/>
<circle cx="18.1" cy="23.1" r="1.24" fill="#2a2aa6" opacity="0.81"/>
<circle cx="29.3" cy="58.6" r="0.97" fill="#1e1e86" opacity="0.63"/>
<circle cx="35.3" cy="12.0" r="0.95" fill="#2828a0" opacity="0.88"/>
<circle cx="21.9" cy="16.3" r="1.20" fill="#222296" opacity="0.65"/>
<circle cx="41.4" cy="32.1" r="1.21" fill="#222296" opacity="0.63"/>
<circle cx="35.3" cy="32.6" r="1.14" fill="#1e1e86" opacity="0.75"/>
<circle cx="43.1" cy="36.6" r="1.07" fill="#3232b6" opacity="0.85"/>
<circle cx="35.9" cy="17.0" r="1.09" fill="#222296" opacity="0.85"/>
<circle cx="29.6" cy="14.2" r="1.18" fill="#3232b6" opacity="0.76"/>
<circle cx="36.4" cy="22.0" r="1.07" fill="#222296" opacity="0.86"/>
<circle cx="5.0" cy="18.9" r="1.34" fill="#222296" opacity="0.91"/>
<circle cx="50.0" cy="52.8" r="1.07" fill="#222296" opacity="0.77"/>
<circle cx="9.7" cy="34.9" r="1.12" fill="#1e1e86" opacity="0.94"/>
<circle cx="17.3" cy="12.7" r="0.87" fill="#2828a0" opacity="0.63"/>
<circle cx="41.7" cy="24.7" r="1.29" fill="#3232b6" opacity="0.62"/>
<circle cx="27.3" cy="10.3" r="0.93" fill="#3232b6" opacity="0.88"/>
<circle cx="9.0" cy="58.5" r="1.14" fill="#2828a0" opacity="0.75"/>
<circle cx="28.2" cy="49.9" r="0.85" fill="#1e1e86" opacity="0.82"/>
<circle cx="57.1" cy="28.2" r="1.31" fill="#3232b6" opacity="0.80"/>
<circle cx="16.3" cy="18.0" r="0.99" fill="#2828a0" opacity="0.66"/>
<circle cx="13.1" cy="1.8" r="1.24" fill="#2828a0" opacity="0.95"/>
<circle cx="24.9" cy="9.0" r="1.29" fill="#3232b6" opacity="0.94"/>
<circle cx="51.4" cy="8.9" r="0.85" fill="#2828a0" opacity="0.74"/>
<circle cx="47.5" cy="18.5" r="0.93" fill="#2a2aa6" opacity="0.75"/>
<circle cx="24.6" cy="42.2" r="0.93" fill="#2a2aa6" opacity="0.95"/>
<circle cx="36.0" cy="8.2" r="1.31" fill="#1e1e86" opacity="0.63"/>
<circle cx="35.5" cy="48.8" r="0.93" fill="#222296" opacity="0.73"/>
<circle cx="10.7" cy="23.7" r="0.99" fill="#3232b6" opacity="0.71"/>
<circle cx="0.6" cy="56.2" r="0.93" fill="#1e1e86" opacity="0.85"/>
<circle cx="60.6" cy="56.2" r="0.93" fill="#1e1e86" opacity="0.85"/>
<circle cx="29.0" cy="30.9" r="0.94" fill="#1e1e86" opacity="0.70"/>
<circle cx="32.2" cy="40.8" r="0.85" fill="#222296" opacity="0.81"/>
<circle cx="42.2" cy="7.2" r="1.23" fill="#222296" opacity="0.71"/>
<circle cx="10.5" cy="41.7" r="0.98" fill="#3232b6" opacity="0.81"/>
<circle cx="44.4" cy="31.6" r="1.30" fill="#222296" opacity="0.95"/>
<circle cx="14.6" cy="36.0" r="1.15" fill="#3232b6" opacity="0.70"/>
<circle cx="24.7" cy="58.4" r="0.95" fill="#2a2aa6" opacity="0.68"/>
<circle cx="41.6" cy="5.0" r="1.31" fill="#222296" opacity="0.67"/>
</pattern><pattern id="pB" width="60" height="60" patternUnits="userSpaceOnUse">
<circle cx="57.4" cy="56.9" r="0.83" fill="#2e2ea2" opacity="0.74"/>
<circle cx="10.1" cy="48.5" r="1.23" fill="#3e3eba" opacity="0.84"/>
<circle cx="36.4" cy="34.9" r="0.88" fill="#28289a" opacity="0.86"/>
<circle cx="48.2" cy="51.6" r="1.05" fill="#3e3eba" opacity="0.82"/>
<circle cx="26.7" cy="16.1" r="0.82" fill="#2e2ea2" opacity="0.75"/>
<circle cx="55.9" cy="54.5" r="1.01" fill="#3232a8" opacity="0.67"/>
<circle cx="10.6" cy="13.8" r="0.89" fill="#3636b0" opacity="0.65"/>
<circle cx="30.6" cy="-0.1" r="1.14" fill="#3636b0" opacity="1.00"/>
<circle cx="30.6" cy="59.9" r="1.14" fill="#3636b0" opacity="1.00"/>
<circle cx="26.7" cy="24.9" r="1.06" fill="#3e3eba" opacity="0.92"/>
<circle cx="21.2" cy="-1.1" r="1.28" fill="#3636b0" opacity="0.98"/>
<circle cx="21.2" cy="58.9" r="1.28" fill="#3636b0" opacity="0.98"/>
<circle cx="24.0" cy="44.3" r="1.13" fill="#3636b0" opacity="0.80"/>
<circle cx="55.5" cy="30.1" r="1.22" fill="#3e3eba" opacity="0.86"/>
<circle cx="27.3" cy="54.2" r="0.98" fill="#3232a8" opacity="0.89"/>
<circle cx="29.2" cy="13.3" r="0.96" fill="#3636b0" opacity="0.95"/>
<circle cx="37.0" cy="46.4" r="1.04" fill="#3e3eba" opacity="0.98"/>
<circle cx="42.4" cy="30.3" r="1.06" fill="#3232a8" opacity="0.84"/>
<circle cx="18.7" cy="12.5" r="1.06" fill="#3232a8" opacity="0.95"/>
<circle cx="47.1" cy="20.5" r="0.80" fill="#3636b0" opacity="1.00"/>
<circle cx="6.4" cy="34.5" r="0.82" fill="#3232a8" opacity="0.69"/>
<circle cx="52.5" cy="6.4" r="1.06" fill="#3e3eba" opacity="0.70"/>
<circle cx="12.6" cy="52.8" r="1.01" fill="#2e2ea2" opacity="0.62"/>
<circle cx="21.6" cy="15.0" r="0.81" fill="#2e2ea2" opacity="0.98"/>
<circle cx="1.5" cy="43.8" r="0.81" fill="#3e3eba" opacity="0.65"/>
<circle cx="56.2" cy="44.1" r="1.06" fill="#2e2ea2" opacity="0.75"/>
<circle cx="2.6" cy="-0.6" r="0.88" fill="#2e2ea2" opacity="0.60"/>
<circle cx="2.6" cy="59.4" r="0.88" fill="#2e2ea2" opacity="0.60"/>
<circle cx="56.3" cy="37.7" r="1.17" fill="#3e3eba" opacity="0.73"/>
<circle cx="1.8" cy="26.9" r="1.18" fill="#2e2ea2" opacity="0.96"/>
<circle cx="45.3" cy="51.7" r="1.15" fill="#28289a" opacity="0.98"/>
<circle cx="5.6" cy="41.2" r="1.22" fill="#2e2ea2" opacity="0.78"/>
<circle cx="35.1" cy="23.6" r="1.06" fill="#3636b0" opacity="0.95"/>
<circle cx="58.2" cy="39.2" r="1.15" fill="#3636b0" opacity="0.87"/>
<circle cx="15.2" cy="7.9" r="0.89" fill="#28289a" opacity="0.85"/>
<circle cx="56.0" cy="-0.3" r="0.92" fill="#28289a" opacity="0.63"/>
<circle cx="56.0" cy="59.7" r="0.92" fill="#28289a" opacity="0.63"/>
<circle cx="4.8" cy="13.7" r="1.20" fill="#3232a8" opacity="0.88"/>
<circle cx="15.4" cy="25.4" r="1.06" fill="#2e2ea2" opacity="0.66"/>
<circle cx="23.1" cy="9.6" r="1.06" fill="#2e2ea2" opacity="0.70"/>
<circle cx="6.0" cy="10.9" r="0.92" fill="#3636b0" opacity="0.61"/>
<circle cx="40.2" cy="27.2" r="1.07" fill="#28289a" opacity="0.68"/>
<circle cx="54.4" cy="57.8" r="1.16" fill="#28289a" opacity="0.77"/>
<circle cx="1.3" cy="35.5" r="1.24" fill="#3232a8" opacity="0.83"/>
<circle cx="55.2" cy="39.8" r="1.04" fill="#2e2ea2" opacity="0.81"/>
<circle cx="17.4" cy="59.0" r="0.99" fill="#2e2ea2" opacity="0.95"/>
<circle cx="24.7" cy="6.3" r="0.90" fill="#2e2ea2" opacity="0.92"/>
<circle cx="3.6" cy="38.2" r="1.03" fill="#3232a8" opacity="0.85"/>
<circle cx="0.3" cy="1.4" r="0.95" fill="#2e2ea2" opacity="0.69"/>
<circle cx="60.3" cy="1.4" r="0.95" fill="#2e2ea2" opacity="0.69"/>
<circle cx="29.4" cy="6.9" r="0.99" fill="#28289a" opacity="0.66"/>
<circle cx="20.7" cy="53.3" r="0.93" fill="#2e2ea2" opacity="0.63"/>
<circle cx="51.0" cy="38.5" r="1.28" fill="#2e2ea2" opacity="0.61"/>
<circle cx="39.5" cy="46.6" r="1.16" fill="#28289a" opacity="0.72"/>
<circle cx="57.6" cy="8.5" r="0.99" fill="#28289a" opacity="0.81"/>
<circle cx="28.7" cy="57.3" r="1.20" fill="#28289a" opacity="0.93"/>
<circle cx="29.3" cy="15.6" r="1.01" fill="#2e2ea2" opacity="0.83"/>
<circle cx="49.1" cy="5.8" r="0.98" fill="#3232a8" opacity="0.66"/>
<circle cx="25.0" cy="4.0" r="0.84" fill="#2e2ea2" opacity="0.65"/>
<circle cx="40.2" cy="40.9" r="1.02" fill="#3232a8" opacity="0.71"/>
<circle cx="9.4" cy="-0.8" r="1.28" fill="#28289a" opacity="0.64"/>
<circle cx="9.4" cy="59.2" r="1.28" fill="#28289a" opacity="0.64"/>
<circle cx="31.0" cy="42.9" r="0.93" fill="#3636b0" opacity="0.78"/>
<circle cx="42.2" cy="24.2" r="1.30" fill="#3232a8" opacity="0.89"/>
<circle cx="28.0" cy="43.1" r="1.20" fill="#28289a" opacity="0.95"/>
<circle cx="10.8" cy="30.6" r="1.04" fill="#28289a" opacity="0.70"/>
<circle cx="38.9" cy="21.6" r="1.07" fill="#2e2ea2" opacity="0.90"/>
<circle cx="51.1" cy="13.5" r="1.11" fill="#28289a" opacity="0.93"/>
<circle cx="23.0" cy="52.9" r="1.26" fill="#3e3eba" opacity="0.79"/>
<circle cx="42.7" cy="53.0" r="1.13" fill="#2e2ea2" opacity="0.61"/>
<circle cx="36.4" cy="54.3" r="1.24" fill="#2e2ea2" opacity="0.76"/>
<circle cx="33.5" cy="48.1" r="0.94" fill="#3232a8" opacity="0.83"/>
<circle cx="29.4" cy="36.7" r="0.80" fill="#28289a" opacity="0.79"/>
<circle cx="30.8" cy="10.4" r="1.16" fill="#2e2ea2" opacity="0.74"/>
<circle cx="54.3" cy="32.0" r="1.13" fill="#2e2ea2" opacity="0.90"/>
<circle cx="29.1" cy="40.5" r="0.97" fill="#3e3eba" opacity="0.95"/>
<circle cx="27.6" cy="-0.8" r="1.11" fill="#3e3eba" opacity="0.67"/>
<circle cx="27.6" cy="59.2" r="1.11" fill="#3e3eba" opacity="0.67"/>
<circle cx="45.0" cy="47.1" r="1.00" fill="#3636b0" opacity="0.62"/>
<circle cx="40.5" cy="9.4" r="0.94" fill="#28289a" opacity="0.99"/>
<circle cx="22.0" cy="32.3" r="0.99" fill="#28289a" opacity="0.68"/>
<circle cx="8.0" cy="41.4" r="1.16" fill="#3e3eba" opacity="0.63"/>
<circle cx="49.5" cy="18.3" r="1.12" fill="#3e3eba" opacity="0.86"/>
<circle cx="23.6" cy="50.4" r="0.85" fill="#3636b0" opacity="0.76"/>
<circle cx="31.8" cy="51.1" r="1.20" fill="#2e2ea2" opacity="0.72"/>
<circle cx="14.0" cy="27.5" r="0.92" fill="#3e3eba" opacity="0.62"/>
<circle cx="12.8" cy="21.4" r="0.97" fill="#3e3eba" opacity="0.67"/>
<circle cx="53.7" cy="55.3" r="1.02" fill="#3636b0" opacity="0.97"/>
<circle cx="19.6" cy="6.0" r="0.92" fill="#3636b0" opacity="0.90"/>
<circle cx="50.8" cy="11.1" r="0.87" fill="#3636b0" opacity="0.69"/>
<circle cx="48.5" cy="38.0" r="1.00" fill="#3e3eba" opacity="0.71"/>
<circle cx="43.2" cy="35.7" r="1.09" fill="#3e3eba" opacity="0.90"/>
<circle cx="58.7" cy="17.5" r="1.11" fill="#2e2ea2" opacity="0.75"/>
<circle cx="57.5" cy="21.2" r="1.04" fill="#3636b0" opacity="0.73"/>
<circle cx="4.6" cy="52.7" r="1.17" fill="#28289a" opacity="0.60"/>
<circle cx="19.2" cy="49.5" r="1.10" fill="#3232a8" opacity="0.71"/>
<circle cx="38.3" cy="9.0" r="0.96" fill="#28289a" opacity="0.64"/>
<circle cx="8.5" cy="12.3" r="0.93" fill="#28289a" opacity="0.74"/>
<circle cx="42.4" cy="43.7" r="0.82" fill="#3e3eba" opacity="0.86"/>
<circle cx="36.7" cy="51.7" r="0.89" fill="#2e2ea2" opacity="0.77"/>
<circle cx="46.7" cy="8.0" r="1.06" fill="#2e2ea2" opacity="0.74"/>
<circle cx="46.1" cy="36.6" r="1.00" fill="#2e2ea2" opacity="0.76"/>
<circle cx="-0.7" cy="50.4" r="1.03" fill="#28289a" opacity="0.75"/>
<circle cx="59.3" cy="50.4" r="1.03" fill="#28289a" opacity="0.75"/>
<circle cx="27.1" cy="35.5" r="0.86" fill="#3232a8" opacity="0.97"/>
<circle cx="4.6" cy="18.3" r="1.20" fill="#2e2ea2" opacity="0.70"/>
<circle cx="40.1" cy="13.2" r="0.81" fill="#28289a" opacity="0.87"/>
<circle cx="5.5" cy="58.3" r="1.12" fill="#2e2ea2" opacity="0.94"/>
<circle cx="28.5" cy="3.9" r="0.87" fill="#2e2ea2" opacity="0.66"/>
<circle cx="12.0" cy="55.1" r="1.21" fill="#3232a8" opacity="0.74"/>
<circle cx="31.7" cy="14.3" r="0.99" fill="#2e2ea2" opacity="0.65"/>
<circle cx="7.0" cy="6.5" r="0.91" fill="#2e2ea2" opacity="0.85"/>
<circle cx="38.9" cy="23.6" r="1.27" fill="#3232a8" opacity="0.80"/>
<circle cx="55.0" cy="9.8" r="0.85" fill="#3636b0" opacity="0.85"/>
<circle cx="17.8" cy="25.9" r="1.01" fill="#28289a" opacity="0.73"/>
<circle cx="6.0" cy="16.3" r="1.06" fill="#28289a" opacity="0.99"/>
<circle cx="13.7" cy="42.2" r="1.15" fill="#2e2ea2" opacity="0.61"/>
<circle cx="33.1" cy="12.1" r="0.90" fill="#3232a8" opacity="0.62"/>
<circle cx="8.3" cy="1.4" r="0.93" fill="#28289a" opacity="0.82"/>
<circle cx="18.8" cy="41.3" r="1.30" fill="#3636b0" opacity="0.85"/>
<circle cx="54.0" cy="27.8" r="0.95" fill="#3636b0" opacity="0.66"/>
<circle cx="51.0" cy="31.1" r="0.83" fill="#28289a" opacity="0.87"/>
<circle cx="2.0" cy="17.8" r="1.23" fill="#3e3eba" opacity="0.98"/>
<circle cx="0.9" cy="25.1" r="0.93" fill="#28289a" opacity="0.84"/>
<circle cx="10.2" cy="52.5" r="1.24" fill="#3e3eba" opacity="0.75"/>
<circle cx="36.8" cy="36.9" r="1.09" fill="#28289a" opacity="0.68"/>
<circle cx="18.6" cy="10.2" r="1.10" fill="#28289a" opacity="0.69"/>
<circle cx="36.9" cy="39.5" r="1.24" fill="#3e3eba" opacity="0.95"/>
<circle cx="5.9" cy="47.3" r="0.81" fill="#3e3eba" opacity="0.62"/>
<circle cx="39.9" cy="49.4" r="0.84" fill="#28289a" opacity="0.93"/>
<circle cx="7.9" cy="9.0" r="1.10" fill="#28289a" opacity="0.89"/>
<circle cx="38.0" cy="26.8" r="0.94" fill="#2e2ea2" opacity="0.80"/>
<circle cx="48.0" cy="55.0" r="0.88" fill="#3e3eba" opacity="0.94"/>
<circle cx="20.1" cy="36.9" r="1.00" fill="#28289a" opacity="0.69"/>
<circle cx="12.8" cy="3.7" r="1.13" fill="#3636b0" opacity="0.98"/>
<circle cx="43.9" cy="49.5" r="0.86" fill="#28289a" opacity="0.76"/>
<circle cx="28.5" cy="22.8" r="0.91" fill="#3636b0" opacity="0.62"/>
<circle cx="31.5" cy="53.2" r="1.10" fill="#3232a8" opacity="0.87"/>
<circle cx="3.2" cy="42.4" r="1.00" fill="#3232a8" opacity="0.71"/>
<circle cx="21.9" cy="21.7" r="1.27" fill="#28289a" opacity="0.83"/>
<circle cx="13.3" cy="1.5" r="1.04" fill="#3636b0" opacity="0.86"/>
<circle cx="2.9" cy="8.7" r="0.95" fill="#2e2ea2" opacity="0.86"/>
<circle cx="32.5" cy="40.7" r="0.87" fill="#3636b0" opacity="0.61"/>
<circle cx="2.8" cy="33.4" r="1.18" fill="#2e2ea2" opacity="0.84"/>
<circle cx="21.8" cy="56.8" r="1.12" fill="#28289a" opacity="0.96"/>
<circle cx="1.5" cy="20.4" r="1.22" fill="#2e2ea2" opacity="0.74"/>
<circle cx="58.5" cy="32.1" r="0.83" fill="#2e2ea2" opacity="0.88"/>
<circle cx="30.4" cy="46.2" r="1.01" fill="#3636b0" opacity="0.92"/>
<circle cx="35.6" cy="58.0" r="1.21" fill="#3636b0" opacity="0.72"/>
<circle cx="54.3" cy="2.4" r="0.92" fill="#3636b0" opacity="0.76"/>
<circle cx="54.6" cy="6.7" r="1.10" fill="#2e2ea2" opacity="0.70"/>
<circle cx="33.0" cy="6.2" r="1.15" fill="#2e2ea2" opacity="0.80"/>
<circle cx="16.9" cy="39.1" r="0.83" fill="#3232a8" opacity="1.00"/>
<circle cx="55.3" cy="25.6" r="1.19" fill="#3636b0" opacity="0.77"/>
<circle cx="58.4" cy="34.3" r="1.06" fill="#28289a" opacity="0.98"/>
<circle cx="36.0" cy="49.3" r="1.23" fill="#28289a" opacity="0.66"/>
<circle cx="35.7" cy="7.7" r="0.98" fill="#2e2ea2" opacity="0.70"/>
<circle cx="11.2" cy="9.1" r="1.01" fill="#3e3eba" opacity="0.99"/>
<circle cx="28.2" cy="11.3" r="1.02" fill="#3636b0" opacity="0.74"/>
<circle cx="37.9" cy="1.9" r="1.00" fill="#2e2ea2" opacity="0.77"/>
<circle cx="15.7" cy="16.2" r="1.03" fill="#28289a" opacity="0.75"/>
<circle cx="50.8" cy="27.7" r="1.13" fill="#3232a8" opacity="0.94"/>
<circle cx="9.6" cy="17.3" r="1.27" fill="#3e3eba" opacity="0.77"/>
<circle cx="44.8" cy="39.2" r="1.28" fill="#2e2ea2" opacity="0.77"/>
<circle cx="27.7" cy="31.3" r="0.85" fill="#28289a" opacity="0.78"/>
<circle cx="44.3" cy="54.8" r="1.08" fill="#3636b0" opacity="0.66"/>
<circle cx="24.5" cy="29.9" r="1.29" fill="#3636b0" opacity="0.76"/>
<circle cx="54.7" cy="34.2" r="1.00" fill="#3e3eba" opacity="0.87"/>
<circle cx="6.9" cy="56.5" r="0.98" fill="#3232a8" opacity="0.73"/>
<circle cx="55.5" cy="47.0" r="1.06" fill="#28289a" opacity="0.76"/>
<circle cx="5.7" cy="1.1" r="0.82" fill="#28289a" opacity="0.66"/>
<circle cx="42.4" cy="0.6" r="1.00" fill="#3232a8" opacity="0.99"/>
<circle cx="42.4" cy="60.6" r="1.00" fill="#3232a8" opacity="0.99"/>
<circle cx="34.1" cy="43.6" r="1.03" fill="#3e3eba" opacity="0.63"/>
<circle cx="37.5" cy="12.6" r="1.03" fill="#28289a" opacity="0.95"/>
<circle cx="35.2" cy="30.6" r="0.88" fill="#28289a" opacity="0.91"/>
<circle cx="-0.4" cy="13.0" r="1.11" fill="#28289a" opacity="0.91"/>
<circle cx="59.6" cy="13.0" r="1.11" fill="#28289a" opacity="0.91"/>
<circle cx="11.8" cy="11.1" r="1.00" fill="#2e2ea2" opacity="0.60"/>
<circle cx="52.6" cy="18.3" r="1.09" fill="#28289a" opacity="0.75"/>
<circle cx="4.6" cy="27.8" r="0.87" fill="#28289a" opacity="0.96"/>
<circle cx="38.4" cy="16.0" r="1.24" fill="#3232a8" opacity="0.63"/>
<circle cx="48.5" cy="31.6" r="1.20" fill="#3e3eba" opacity="0.97"/>
<circle cx="32.8" cy="33.6" r="0.84" fill="#3636b0" opacity="0.67"/>
<circle cx="18.5" cy="55.5" r="1.23" fill="#3e3eba" opacity="0.78"/>
<circle cx="51.2" cy="21.1" r="0.95" fill="#2e2ea2" opacity="0.94"/>
<circle cx="9.3" cy="55.3" r="0.81" fill="#2e2ea2" opacity="0.71"/>
<circle cx="22.4" cy="4.3" r="1.21" fill="#3232a8" opacity="0.65"/>
<circle cx="7.9" cy="25.4" r="1.17" fill="#3e3eba" opacity="0.82"/>
<circle cx="38.3" cy="43.2" r="1.23" fill="#2e2ea2" opacity="0.65"/>
<circle cx="44.3" cy="-1.1" r="1.14" fill="#28289a" opacity="0.87"/>
<circle cx="44.3" cy="58.9" r="1.14" fill="#28289a" opacity="0.87"/>
<circle cx="17.8" cy="53.4" r="0.88" fill="#2e2ea2" opacity="0.60"/>
<circle cx="5.4" cy="8.6" r="1.25" fill="#3636b0" opacity="0.98"/>
<circle cx="46.6" cy="40.7" r="1.26" fill="#3636b0" opacity="0.64"/>
<circle cx="46.7" cy="13.8" r="0.97" fill="#2e2ea2" opacity="0.95"/>
<circle cx="58.2" cy="25.8" r="1.05" fill="#3232a8" opacity="0.74"/>
<circle cx="11.1" cy="57.4" r="1.13" fill="#2e2ea2" opacity="0.65"/>
<circle cx="46.0" cy="44.3" r="1.12" fill="#3232a8" opacity="0.82"/>
<circle cx="50.0" cy="43.2" r="0.89" fill="#3232a8" opacity="0.87"/>
<circle cx="7.8" cy="14.2" r="1.14" fill="#28289a" opacity="0.78"/>
<circle cx="18.8" cy="2.9" r="0.85" fill="#2e2ea2" opacity="0.83"/>
<circle cx="44.8" cy="15.5" r="1.08" fill="#3e3eba" opacity="0.77"/>
<circle cx="7.8" cy="43.7" r="1.27" fill="#28289a" opacity="0.66"/>
<circle cx="25.6" cy="0.4" r="1.01" fill="#2e2ea2" opacity="0.93"/>
<circle cx="25.6" cy="60.4" r="1.01" fill="#2e2ea2" opacity="0.93"/>
<circle cx="11.4" cy="0.1" r="1.20" fill="#28289a" opacity="0.93"/>
<circle cx="11.4" cy="60.1" r="1.20" fill="#28289a" opacity="0.93"/>
<circle cx="51.2" cy="48.6" r="1.08" fill="#3232a8" opacity="0.98"/>
<circle cx="18.6" cy="33.8" r="1.05" fill="#28289a" opacity="0.91"/>
<circle cx="-0.9" cy="10.4" r="1.20" fill="#3e3eba" opacity="0.92"/>
<circle cx="59.1" cy="10.4" r="1.20" fill="#3e3eba" opacity="0.92"/>
<circle cx="41.3" cy="32.4" r="1.08" fill="#3e3eba" opacity="0.97"/>
<circle cx="5.4" cy="50.3" r="1.05" fill="#28289a" opacity="0.81"/>
<circle cx="22.2" cy="6.4" r="0.91" fill="#3636b0" opacity="0.77"/>
<circle cx="58.3" cy="53.3" r="1.05" fill="#3636b0" opacity="0.95"/>
<circle cx="45.2" cy="5.5" r="0.99" fill="#3636b0" opacity="0.69"/>
<circle cx="47.2" cy="2.6" r="1.08" fill="#28289a" opacity="0.82"/>
<circle cx="24.0" cy="54.6" r="0.83" fill="#28289a" opacity="0.68"/>
<circle cx="19.4" cy="17.6" r="1.28" fill="#2e2ea2" opacity="0.79"/>
<circle cx="26.7" cy="40.5" r="1.24" fill="#2e2ea2" opacity="0.89"/>
<circle cx="0.7" cy="39.2" r="0.89" fill="#28289a" opacity="0.65"/>
<circle cx="60.7" cy="39.2" r="0.89" fill="#28289a" opacity="0.65"/>
<circle cx="41.7" cy="17.8" r="1.13" fill="#3636b0" opacity="0.91"/>
<circle cx="31.8" cy="57.5" r="1.21" fill="#3232a8" opacity="0.61"/>
<circle cx="1.7" cy="15.3" r="0.81" fill="#3232a8" opacity="0.61"/>
<circle cx="9.8" cy="37.1" r="1.02" fill="#2e2ea2" opacity="0.83"/>
<circle cx="2.8" cy="49.1" r="0.92" fill="#3636b0" opacity="0.85"/>
<circle cx="48.8" cy="10.2" r="0.86" fill="#3636b0" opacity="0.86"/>
<circle cx="7.9" cy="47.3" r="0.92" fill="#2e2ea2" opacity="0.74"/>
<circle cx="23.2" cy="0.2" r="0.91" fill="#3232a8" opacity="0.72"/>
<circle cx="23.2" cy="60.2" r="0.91" fill="#3232a8" opacity="0.72"/>
<circle cx="56.8" cy="18.7" r="1.13" fill="#3e3eba" opacity="0.99"/>
<circle cx="-0.3" cy="30.1" r="0.87" fill="#3232a8" opacity="0.74"/>
<circle cx="59.7" cy="30.1" r="0.87" fill="#3232a8" opacity="0.74"/>
<circle cx="38.7" cy="6.0" r="1.07" fill="#3232a8" opacity="0.69"/>
<circle cx="28.8" cy="9.1" r="0.90" fill="#3e3eba" opacity="0.81"/>
<circle cx="6.3" cy="20.5" r="1.02" fill="#3636b0" opacity="0.84"/>
<circle cx="28.3" cy="19.5" r="0.80" fill="#2e2ea2" opacity="0.60"/>
<circle cx="13.4" cy="14.5" r="0.84" fill="#2e2ea2" opacity="0.64"/>
<circle cx="44.6" cy="10.4" r="1.26" fill="#3636b0" opacity="0.93"/>
<circle cx="31.2" cy="32.2" r="0.93" fill="#3636b0" opacity="0.91"/>
<circle cx="18.1" cy="44.2" r="0.84" fill="#2e2ea2" opacity="0.97"/>
<circle cx="40.1" cy="54.3" r="1.20" fill="#28289a" opacity="0.79"/>
<circle cx="38.7" cy="35.2" r="1.22" fill="#3636b0" opacity="0.93"/>
<circle cx="51.1" cy="-0.4" r="0.94" fill="#3232a8" opacity="0.66"/>
<circle cx="51.1" cy="59.6" r="0.94" fill="#3232a8" opacity="0.66"/>
<circle cx="42.9" cy="3.6" r="0.82" fill="#28289a" opacity="0.89"/>
<circle cx="24.5" cy="38.6" r="1.23" fill="#2e2ea2" opacity="0.91"/>
<circle cx="48.7" cy="58.0" r="0.93" fill="#28289a" opacity="0.72"/>
<circle cx="-0.8" cy="45.3" r="1.24" fill="#3636b0" opacity="0.95"/>
<circle cx="59.2" cy="45.3" r="1.24" fill="#3636b0" opacity="0.95"/>
<circle cx="7.7" cy="52.8" r="1.09" fill="#2e2ea2" opacity="0.87"/>
<circle cx="8.2" cy="38.4" r="0.83" fill="#3636b0" opacity="0.61"/>
<circle cx="54.4" cy="42.8" r="1.07" fill="#3636b0" opacity="0.66"/>
<circle cx="25.1" cy="14.7" r="1.12" fill="#3e3eba" opacity="0.62"/>
<circle cx="13.5" cy="48.8" r="1.14" fill="#3232a8" opacity="0.90"/>
<circle cx="27.1" cy="45.6" r="0.81" fill="#3e3eba" opacity="0.76"/>
<circle cx="8.7" cy="32.7" r="0.86" fill="#3636b0" opacity="0.61"/>
<circle cx="20.4" cy="19.3" r="1.25" fill="#3636b0" opacity="0.95"/>
<circle cx="29.9" cy="54.7" r="0.94" fill="#3636b0" opacity="0.73"/>
<circle cx="15.3" cy="1.0" r="0.88" fill="#3e3eba" opacity="0.69"/>
<circle cx="56.9" cy="5.5" r="1.25" fill="#3e3eba" opacity="0.72"/>
<circle cx="20.6" cy="43.4" r="0.89" fill="#3636b0" opacity="0.70"/>
<circle cx="40.9" cy="4.8" r="1.01" fill="#28289a" opacity="0.85"/>
<circle cx="21.6" cy="25.3" r="1.17" fill="#3232a8" opacity="0.93"/>
<circle cx="16.1" cy="22.5" r="0.94" fill="#3e3eba" opacity="0.67"/>
<circle cx="11.9" cy="19.6" r="0.94" fill="#3636b0" opacity="0.90"/>
<circle cx="35.2" cy="1.3" r="0.85" fill="#28289a" opacity="0.86"/>
<circle cx="12.1" cy="24.4" r="0.82" fill="#28289a" opacity="0.93"/>
<circle cx="56.9" cy="41.4" r="1.12" fill="#28289a" opacity="0.76"/>
<circle cx="41.0" cy="51.8" r="1.29" fill="#28289a" opacity="0.61"/>
<circle cx="17.2" cy="31.9" r="1.13" fill="#2e2ea2" opacity="0.64"/>
<circle cx="53.0" cy="47.0" r="1.00" fill="#3636b0" opacity="0.84"/>
<circle cx="31.2" cy="17.1" r="0.87" fill="#3e3eba" opacity="0.75"/>
<circle cx="22.2" cy="48.9" r="1.22" fill="#3232a8" opacity="0.98"/>
<circle cx="35.0" cy="25.9" r="1.07" fill="#3e3eba" opacity="0.87"/>
<circle cx="46.6" cy="18.5" r="1.10" fill="#3636b0" opacity="0.85"/>
<circle cx="46.1" cy="0.4" r="1.07" fill="#2e2ea2" opacity="0.63"/>
<circle cx="46.1" cy="60.4" r="1.07" fill="#2e2ea2" opacity="0.63"/>
<circle cx="54.3" cy="22.8" r="1.17" fill="#3636b0" opacity="0.70"/>
<circle cx="5.7" cy="26.0" r="1.28" fill="#2e2ea2" opacity="0.68"/>
<circle cx="10.8" cy="45.3" r="1.05" fill="#3232a8" opacity="0.84"/>
<circle cx="5.4" cy="31.5" r="0.87" fill="#3232a8" opacity="0.70"/>
<circle cx="24.6" cy="26.0" r="0.87" fill="#3e3eba" opacity="0.86"/>
<circle cx="24.3" cy="22.4" r="1.15" fill="#28289a" opacity="0.97"/>
<circle cx="19.2" cy="15.1" r="1.13" fill="#3232a8" opacity="0.78"/>
<circle cx="47.2" cy="25.3" r="1.17" fill="#3232a8" opacity="0.85"/>
<circle cx="2.9" cy="4.5" r="1.07" fill="#28289a" opacity="0.67"/>
<circle cx="22.6" cy="46.2" r="0.81" fill="#28289a" opacity="0.84"/>
<circle cx="11.2" cy="33.7" r="1.19" fill="#2e2ea2" opacity="0.64"/>
<circle cx="32.0" cy="20.0" r="0.82" fill="#3e3eba" opacity="0.70"/>
<circle cx="32.9" cy="-0.7" r="0.92" fill="#28289a" opacity="0.62"/>
<circle cx="32.9" cy="59.3" r="0.92" fill="#28289a" opacity="0.62"/>
<circle cx="4.3" cy="36.2" r="1.06" fill="#3636b0" opacity="0.66"/>
<circle cx="37.0" cy="17.8" r="1.26" fill="#28289a" opacity="0.72"/>
<circle cx="29.7" cy="27.5" r="0.88" fill="#3232a8" opacity="0.62"/>
<circle cx="50.0" cy="24.0" r="0.93" fill="#3e3eba" opacity="0.67"/>
<circle cx="57.0" cy="27.4" r="0.84" fill="#3e3eba" opacity="0.97"/>
<circle cx="20.6" cy="28.6" r="0.81" fill="#3636b0" opacity="0.86"/>
<circle cx="35.0" cy="21.1" r="1.07" fill="#3636b0" opacity="0.71"/>
<circle cx="46.6" cy="49.4" r="0.86" fill="#28289a" opacity="0.95"/>
<circle cx="7.4" cy="30.9" r="1.21" fill="#28289a" opacity="0.73"/>
<circle cx="54.3" cy="49.2" r="1.16" fill="#3636b0" opacity="0.67"/>
<circle cx="33.4" cy="15.8" r="1.06" fill="#28289a" opacity="0.93"/>
<circle cx="38.3" cy="31.5" r="1.18" fill="#3e3eba" opacity="0.84"/>
<circle cx="57.6" cy="13.2" r="0.81" fill="#3e3eba" opacity="0.76"/>
<circle cx="20.0" cy="26.5" r="1.18" fill="#3e3eba" opacity="0.88"/>
<circle cx="35.7" cy="16.2" r="1.16" fill="#3232a8" opacity="0.76"/>
<circle cx="33.4" cy="53.9" r="1.20" fill="#3636b0" opacity="0.63"/>
<circle cx="46.6" cy="58.0" r="1.22" fill="#3e3eba" opacity="0.64"/>
<circle cx="53.3" cy="36.3" r="1.25" fill="#3232a8" opacity="0.76"/>
<circle cx="2.7" cy="1.6" r="1.09" fill="#3636b0" opacity="0.73"/>
<circle cx="17.1" cy="51.4" r="0.97" fill="#3e3eba" opacity="0.76"/>
<circle cx="43.4" cy="12.3" r="1.24" fill="#3232a8" opacity="0.66"/>
<circle cx="34.8" cy="9.6" r="1.24" fill="#28289a" opacity="0.96"/>
<circle cx="46.1" cy="23.3" r="1.12" fill="#2e2ea2" opacity="0.72"/>
<circle cx="15.9" cy="48.1" r="1.17" fill="#3e3eba" opacity="0.61"/>
<circle cx="25.6" cy="8.9" r="1.30" fill="#2e2ea2" opacity="0.86"/>
<circle cx="32.4" cy="3.7" r="1.19" fill="#2e2ea2" opacity="0.77"/>
<circle cx="46.2" cy="27.1" r="1.00" fill="#3636b0" opacity="0.87"/>
<circle cx="35.1" cy="4.3" r="1.27" fill="#3e3eba" opacity="0.77"/>
<circle cx="28.6" cy="33.8" r="0.94" fill="#3636b0" opacity="0.96"/>
<circle cx="12.2" cy="17.2" r="1.01" fill="#28289a" opacity="0.93"/>
<circle cx="47.4" cy="42.5" r="1.09" fill="#3232a8" opacity="0.62"/>
<circle cx="19.9" cy="22.2" r="1.01" fill="#28289a" opacity="0.93"/>
<circle cx="37.6" cy="59.0" r="0.88" fill="#28289a" opacity="0.85"/>
<circle cx="43.9" cy="33.8" r="1.25" fill="#2e2ea2" opacity="0.87"/>
<circle cx="42.2" cy="14.2" r="1.02" fill="#28289a" opacity="0.91"/>
<circle cx="-0.8" cy="23.4" r="0.90" fill="#2e2ea2" opacity="0.81"/>
<circle cx="59.2" cy="23.4" r="0.90" fill="#2e2ea2" opacity="0.81"/>
<circle cx="51.9" cy="53.7" r="0.93" fill="#3232a8" opacity="0.81"/>
<circle cx="10.5" cy="25.7" r="0.88" fill="#2e2ea2" opacity="0.69"/>
<circle cx="20.2" cy="8.4" r="1.20" fill="#2e2ea2" opacity="0.84"/>
<circle cx="18.5" cy="46.2" r="0.87" fill="#3232a8" opacity="0.64"/>
<circle cx="1.7" cy="53.8" r="0.93" fill="#3232a8" opacity="0.79"/>
<circle cx="-1.1" cy="42.9" r="1.27" fill="#28289a" opacity="0.92"/>
<circle cx="58.9" cy="42.9" r="1.27" fill="#28289a" opacity="0.92"/>
<circle cx="17.6" cy="8.3" r="1.10" fill="#3232a8" opacity="0.97"/>
<circle cx="31.8" cy="38.7" r="1.19" fill="#3636b0" opacity="0.96"/>
<circle cx="20.8" cy="39.9" r="1.18" fill="#2e2ea2" opacity="0.93"/>
<circle cx="25.4" cy="58.2" r="1.16" fill="#3636b0" opacity="0.66"/>
<circle cx="54.6" cy="16.1" r="1.22" fill="#3636b0" opacity="0.91"/>
<circle cx="31.9" cy="27.1" r="1.03" fill="#3636b0" opacity="0.90"/>
<circle cx="11.0" cy="28.1" r="1.25" fill="#28289a" opacity="0.90"/>
<circle cx="42.8" cy="46.9" r="1.16" fill="#3232a8" opacity="0.65"/>
<circle cx="15.2" cy="12.2" r="1.12" fill="#3232a8" opacity="0.79"/>
<circle cx="26.4" cy="51.1" r="1.03" fill="#28289a" opacity="0.96"/>
<circle cx="46.2" cy="31.1" r="0.92" fill="#28289a" opacity="0.71"/>
<circle cx="56.8" cy="11.2" r="1.18" fill="#2e2ea2" opacity="1.00"/>
<circle cx="34.8" cy="28.6" r="1.15" fill="#28289a" opacity="0.87"/>
<circle cx="2.5" cy="23.1" r="1.04" fill="#3e3eba" opacity="0.69"/>
<circle cx="-0.6" cy="37.2" r="0.80" fill="#3e3eba" opacity="0.99"/>
<circle cx="59.4" cy="37.2" r="0.80" fill="#3e3eba" opacity="0.99"/>
<circle cx="15.4" cy="4.7" r="1.13" fill="#2e2ea2" opacity="0.67"/>
<circle cx="1.3" cy="7.1" r="1.13" fill="#3636b0" opacity="0.78"/>
<circle cx="51.1" cy="35.6" r="1.14" fill="#2e2ea2" opacity="0.98"/>
<circle cx="52.5" cy="40.2" r="1.00" fill="#3636b0" opacity="0.79"/>
<circle cx="26.0" cy="48.3" r="0.92" fill="#3e3eba" opacity="0.87"/>
<circle cx="48.9" cy="44.9" r="1.12" fill="#2e2ea2" opacity="0.67"/>
<circle cx="40.0" cy="-0.8" r="0.80" fill="#3232a8" opacity="1.00"/>
<circle cx="40.0" cy="59.2" r="0.80" fill="#3232a8" opacity="1.00"/>
<circle cx="9.5" cy="6.6" r="1.22" fill="#3636b0" opacity="0.79"/>
<circle cx="29.1" cy="52.0" r="0.89" fill="#28289a" opacity="0.92"/>
<circle cx="14.6" cy="31.9" r="1.30" fill="#3232a8" opacity="0.91"/>
<circle cx="52.8" cy="11.6" r="0.82" fill="#3232a8" opacity="0.85"/>
<circle cx="52.2" cy="50.6" r="0.86" fill="#3e3eba" opacity="0.89"/>
<circle cx="1.0" cy="56.8" r="1.18" fill="#3232a8" opacity="0.63"/>
<circle cx="61.0" cy="56.8" r="1.18" fill="#3232a8" opacity="0.63"/>
<circle cx="54.9" cy="13.1" r="1.05" fill="#28289a" opacity="0.91"/>
<circle cx="37.1" cy="14.5" r="1.24" fill="#3e3eba" opacity="1.00"/>
<circle cx="11.5" cy="35.9" r="1.09" fill="#28289a" opacity="0.82"/>
<circle cx="24.9" cy="41.8" r="0.83" fill="#3232a8" opacity="0.92"/>
<circle cx="52.2" cy="25.0" r="1.03" fill="#2e2ea2" opacity="0.65"/>
<circle cx="29.3" cy="49.3" r="1.19" fill="#3232a8" opacity="0.65"/>
<circle cx="30.7" cy="23.4" r="1.07" fill="#28289a" opacity="0.83"/>
<circle cx="4.2" cy="21.6" r="1.02" fill="#3e3eba" opacity="0.89"/>
<circle cx="47.1" cy="11.5" r="0.93" fill="#3e3eba" opacity="0.61"/>
<circle cx="15.8" cy="41.1" r="0.81" fill="#3636b0" opacity="0.99"/>
<circle cx="41.5" cy="57.0" r="1.23" fill="#3636b0" opacity="0.62"/>
<circle cx="23.0" cy="18.4" r="0.87" fill="#3e3eba" opacity="0.85"/>
<circle cx="57.8" cy="47.9" r="1.27" fill="#3e3eba" opacity="0.60"/>
<circle cx="13.7" cy="38.2" r="0.85" fill="#28289a" opacity="0.93"/>
<circle cx="14.6" cy="18.7" r="0.80" fill="#3232a8" opacity="0.80"/>
<circle cx="22.7" cy="27.2" r="1.00" fill="#2e2ea2" opacity="0.79"/>
<circle cx="30.3" cy="30.3" r="1.08" fill="#3636b0" opacity="0.81"/>
<circle cx="51.4" cy="4.0" r="1.18" fill="#28289a" opacity="0.72"/>
<circle cx="7.8" cy="50.3" r="0.99" fill="#28289a" opacity="0.92"/>
<circle cx="16.6" cy="28.0" r="0.84" fill="#3636b0" opacity="0.70"/>
<circle cx="37.1" cy="20.2" r="0.91" fill="#28289a" opacity="0.84"/>
<circle cx="48.8" cy="26.6" r="0.99" fill="#3232a8" opacity="0.91"/>
<circle cx="34.4" cy="37.4" r="0.96" fill="#28289a" opacity="0.62"/>
<circle cx="56.8" cy="15.7" r="1.30" fill="#28289a" opacity="0.99"/>
<circle cx="34.3" cy="18.5" r="0.97" fill="#28289a" opacity="0.86"/>
<circle cx="22.9" cy="37.2" r="0.84" fill="#28289a" opacity="0.75"/>
<circle cx="32.5" cy="1.3" r="0.89" fill="#28289a" opacity="0.93"/>
<circle cx="42.2" cy="39.2" r="1.01" fill="#28289a" opacity="0.71"/>
<circle cx="46.6" cy="33.7" r="1.16" fill="#3232a8" opacity="0.74"/>
<circle cx="40.8" cy="2.3" r="1.22" fill="#3e3eba" opacity="0.98"/>
<circle cx="43.7" cy="41.3" r="1.10" fill="#3232a8" opacity="0.92"/>
<circle cx="-0.2" cy="28.0" r="0.86" fill="#28289a" opacity="0.81"/>
<circle cx="59.8" cy="28.0" r="0.86" fill="#28289a" opacity="0.81"/>
<circle cx="25.6" cy="18.3" r="0.99" fill="#2e2ea2" opacity="0.94"/>
<circle cx="45.2" cy="29.1" r="1.27" fill="#2e2ea2" opacity="0.63"/>
<circle cx="8.3" cy="21.6" r="0.83" fill="#3e3eba" opacity="0.84"/>
<circle cx="8.8" cy="19.4" r="1.13" fill="#3636b0" opacity="0.81"/>
<circle cx="27.0" cy="29.2" r="0.94" fill="#3636b0" opacity="0.96"/>
<circle cx="2.8" cy="12.5" r="0.86" fill="#28289a" opacity="0.78"/>
<circle cx="11.6" cy="51.0" r="0.80" fill="#3636b0" opacity="0.71"/>
<circle cx="34.6" cy="46.1" r="0.84" fill="#2e2ea2" opacity="0.72"/>
<circle cx="39.2" cy="18.3" r="1.19" fill="#2e2ea2" opacity="0.96"/>
<circle cx="42.5" cy="6.3" r="1.23" fill="#3232a8" opacity="0.98"/>
<circle cx="25.8" cy="33.6" r="1.20" fill="#3232a8" opacity="0.77"/>
<circle cx="58.8" cy="-1.1" r="1.16" fill="#3e3eba" opacity="0.60"/>
<circle cx="58.8" cy="58.9" r="1.16" fill="#3e3eba" opacity="0.60"/>
<circle cx="14.3" cy="55.3" r="0.81" fill="#3e3eba" opacity="1.00"/>
<circle cx="11.3" cy="42.9" r="1.06" fill="#3232a8" opacity="0.74"/>
<circle cx="-0.9" cy="19.5" r="1.15" fill="#3636b0" opacity="0.89"/>
<circle cx="59.1" cy="19.5" r="1.15" fill="#3636b0" opacity="0.89"/>
<circle cx="52.1" cy="44.4" r="1.30" fill="#3e3eba" opacity="0.64"/>
<circle cx="49.2" cy="29.7" r="1.12" fill="#3e3eba" opacity="0.71"/>
<circle cx="13.6" cy="9.6" r="0.96" fill="#3232a8" opacity="0.65"/>
<circle cx="3.9" cy="45.9" r="1.01" fill="#3232a8" opacity="0.65"/>
<circle cx="12.1" cy="7.2" r="1.11" fill="#3e3eba" opacity="0.73"/>
<circle cx="7.3" cy="3.4" r="0.95" fill="#3232a8" opacity="0.73"/>
<circle cx="21.8" cy="41.6" r="1.02" fill="#3636b0" opacity="0.61"/>
<circle cx="50.0" cy="8.2" r="1.26" fill="#3636b0" opacity="0.86"/>
<circle cx="34.1" cy="51.3" r="1.30" fill="#2e2ea2" opacity="0.89"/>
<circle cx="14.1" cy="35.5" r="0.84" fill="#3e3eba" opacity="0.97"/>
<circle cx="22.2" cy="29.8" r="0.91" fill="#28289a" opacity="0.98"/>
<circle cx="27.1" cy="37.9" r="1.30" fill="#28289a" opacity="0.90"/>
<circle cx="13.3" cy="29.4" r="1.04" fill="#2e2ea2" opacity="0.74"/>
<circle cx="14.6" cy="44.8" r="1.18" fill="#2e2ea2" opacity="0.86"/>
<circle cx="28.4" cy="1.8" r="1.14" fill="#2e2ea2" opacity="0.93"/>
<circle cx="43.2" cy="21.1" r="1.15" fill="#3232a8" opacity="0.69"/>
<circle cx="39.6" cy="29.2" r="0.93" fill="#3636b0" opacity="0.67"/>
<circle cx="49.1" cy="14.7" r="1.10" fill="#2e2ea2" opacity="0.92"/>
<circle cx="15.9" cy="56.6" r="0.84" fill="#3232a8" opacity="0.72"/>
<circle cx="50.9" cy="56.6" r="1.23" fill="#2e2ea2" opacity="0.80"/>
<circle cx="2.1" cy="29.2" r="1.05" fill="#28289a" opacity="0.80"/>
<circle cx="42.6" cy="28.1" r="1.03" fill="#2e2ea2" opacity="0.92"/>
<circle cx="57.4" cy="2.3" r="1.28" fill="#3232a8" opacity="0.86"/>
<circle cx="13.9" cy="50.9" r="0.94" fill="#2e2ea2" opacity="0.84"/>
<circle cx="12.3" cy="40.0" r="1.03" fill="#28289a" opacity="0.96"/>
<circle cx="48.8" cy="48.9" r="1.29" fill="#3636b0" opacity="0.72"/>
<circle cx="49.1" cy="20.8" r="1.13" fill="#2e2ea2" opacity="0.71"/>
<circle cx="6.7" cy="27.8" r="1.22" fill="#3636b0" opacity="0.94"/>
<circle cx="48.3" cy="35.9" r="0.98" fill="#3636b0" opacity="0.65"/>
<circle cx="23.3" cy="13.0" r="1.07" fill="#3e3eba" opacity="0.94"/>
<circle cx="5.8" cy="45.1" r="0.89" fill="#3232a8" opacity="0.63"/>
<circle cx="17.0" cy="36.6" r="1.15" fill="#3232a8" opacity="0.94"/>
<circle cx="32.5" cy="45.9" r="0.91" fill="#28289a" opacity="0.84"/>
<circle cx="35.2" cy="12.5" r="1.18" fill="#2e2ea2" opacity="0.63"/>
<circle cx="16.8" cy="14.5" r="0.87" fill="#3e3eba" opacity="0.63"/>
<circle cx="8.8" cy="35.1" r="1.27" fill="#3636b0" opacity="0.67"/>
<circle cx="13.9" cy="23.1" r="1.10" fill="#3636b0" opacity="0.97"/>
<circle cx="28.7" cy="47.3" r="1.19" fill="#2e2ea2" opacity="0.62"/>
<circle cx="38.9" cy="37.5" r="1.03" fill="#3e3eba" opacity="0.82"/>
<circle cx="40.9" cy="35.8" r="1.16" fill="#2e2ea2" opacity="0.82"/>
<circle cx="33.0" cy="23.6" r="1.00" fill="#28289a" opacity="0.73"/>
<circle cx="52.5" cy="1.4" r="1.29" fill="#28289a" opacity="0.70"/>
<circle cx="56.2" cy="50.8" r="0.87" fill="#3232a8" opacity="0.79"/>
<circle cx="48.9" cy="0.4" r="0.84" fill="#3232a8" opacity="0.73"/>
<circle cx="48.9" cy="60.4" r="0.84" fill="#3232a8" opacity="0.73"/>
<circle cx="50.4" cy="33.4" r="1.08" fill="#3636b0" opacity="0.78"/>
<circle cx="15.8" cy="54.0" r="1.28" fill="#3e3eba" opacity="0.78"/>
<circle cx="48.8" cy="40.0" r="1.06" fill="#2e2ea2" opacity="0.86"/>
<circle cx="10.7" cy="4.3" r="1.03" fill="#3e3eba" opacity="0.72"/>
<circle cx="39.1" cy="52.6" r="1.27" fill="#28289a" opacity="0.82"/>
<circle cx="25.6" cy="11.5" r="1.26" fill="#3e3eba" opacity="0.79"/>
<circle cx="12.9" cy="46.9" r="0.86" fill="#2e2ea2" opacity="0.75"/>
<circle cx="44.8" cy="2.7" r="1.21" fill="#2e2ea2" opacity="0.64"/>
<circle cx="5.5" cy="23.6" r="0.95" fill="#3e3eba" opacity="0.94"/>
<circle cx="50.1" cy="50.5" r="0.88" fill="#3232a8" opacity="0.66"/>
<circle cx="14.0" cy="58.2" r="0.97" fill="#2e2ea2" opacity="0.86"/>
<circle cx="50.6" cy="16.2" r="1.25" fill="#3636b0" opacity="0.81"/>
<circle cx="47.2" cy="46.8" r="1.26" fill="#2e2ea2" opacity="0.78"/>
<circle cx="19.6" cy="30.8" r="1.15" fill="#3232a8" opacity="0.85"/>
<circle cx="53.2" cy="8.6" r="1.27" fill="#28289a" opacity="0.63"/>
<circle cx="37.9" cy="48.5" r="1.03" fill="#3e3eba" opacity="0.93"/>
<circle cx="7.4" cy="17.9" r="0.95" fill="#2e2ea2" opacity="0.84"/>
<circle cx="26.0" cy="43.8" r="1.16" fill="#3636b0" opacity="0.71"/>
<circle cx="-0.2" cy="48.2" r="0.99" fill="#3636b0" opacity="0.87"/>
<circle cx="59.8" cy="48.2" r="0.99" fill="#3636b0" opacity="0.87"/>
<circle cx="20.6" cy="34.8" r="1.28" fill="#3636b0" opacity="0.61"/>
<circle cx="31.2" cy="48.8" r="1.05" fill="#3e3eba" opacity="0.92"/>
<circle cx="3.7" cy="6.7" r="1.11" fill="#2e2ea2" opacity="0.60"/>
<circle cx="31.4" cy="7.7" r="1.16" fill="#3232a8" opacity="0.69"/>
<circle cx="32.9" cy="29.3" r="1.30" fill="#2e2ea2" opacity="0.98"/>
<circle cx="32.2" cy="36.7" r="1.07" fill="#3636b0" opacity="0.83"/>
<circle cx="53.8" cy="20.5" r="0.97" fill="#28289a" opacity="0.69"/>
<circle cx="17.9" cy="20.3" r="1.21" fill="#28289a" opacity="0.80"/>
<circle cx="19.3" cy="24.4" r="0.98" fill="#3636b0" opacity="0.94"/>
<circle cx="29.1" cy="25.6" r="1.09" fill="#3636b0" opacity="0.67"/>
<circle cx="5.9" cy="38.6" r="1.17" fill="#3e3eba" opacity="0.79"/>
<circle cx="53.0" cy="30.0" r="1.27" fill="#3e3eba" opacity="0.83"/>
<circle cx="3.5" cy="16.2" r="0.89" fill="#28289a" opacity="0.95"/>
<circle cx="16.5" cy="45.7" r="1.03" fill="#3e3eba" opacity="0.77"/>
<circle cx="27.4" cy="6.7" r="1.06" fill="#3232a8" opacity="0.84"/>
<circle cx="20.4" cy="45.5" r="1.21" fill="#2e2ea2" opacity="0.72"/>
<circle cx="26.6" cy="21.5" r="1.23" fill="#2e2ea2" opacity="0.60"/>
<circle cx="50.0" cy="46.8" r="0.88" fill="#28289a" opacity="0.87"/>
<circle cx="2.0" cy="46.7" r="0.82" fill="#3636b0" opacity="0.85"/>
<circle cx="44.1" cy="17.9" r="0.91" fill="#2e2ea2" opacity="0.86"/>
<circle cx="20.8" cy="2.0" r="0.89" fill="#2e2ea2" opacity="0.62"/>
<circle cx="19.2" cy="51.5" r="0.96" fill="#2e2ea2" opacity="0.81"/>
<circle cx="34.1" cy="39.4" r="1.24" fill="#3232a8" opacity="0.62"/>
<circle cx="10.4" cy="21.0" r="1.13" fill="#3232a8" opacity="0.76"/>
<circle cx="41.2" cy="20.4" r="1.20" fill="#2e2ea2" opacity="0.87"/>
<circle cx="1.1" cy="41.6" r="0.84" fill="#3636b0" opacity="0.95"/>
<circle cx="44.2" cy="24.5" r="1.06" fill="#2e2ea2" opacity="0.75"/>
<circle cx="9.8" cy="40.4" r="0.86" fill="#3232a8" opacity="0.70"/>
<circle cx="-0.9" cy="15.4" r="0.96" fill="#3232a8" opacity="0.64"/>
<circle cx="59.1" cy="15.4" r="0.96" fill="#3232a8" opacity="0.64"/>
<circle cx="17.2" cy="1.7" r="1.26" fill="#3232a8" opacity="0.73"/>
<circle cx="-0.8" cy="55.5" r="1.27" fill="#3e3eba" opacity="0.99"/>
<circle cx="59.2" cy="55.5" r="1.27" fill="#3e3eba" opacity="0.99"/>
<circle cx="39.3" cy="57.1" r="1.25" fill="#3e3eba" opacity="0.79"/>
<circle cx="43.8" cy="26.5" r="1.03" fill="#3636b0" opacity="0.87"/>
<circle cx="4.9" cy="3.1" r="1.29" fill="#3232a8" opacity="0.90"/>
<circle cx="36.7" cy="41.8" r="0.83" fill="#3232a8" opacity="0.74"/>
<circle cx="43.2" cy="8.8" r="0.85" fill="#3e3eba" opacity="0.99"/>
<circle cx="50.7" cy="41.1" r="0.94" fill="#28289a" opacity="0.63"/>
<circle cx="-1.1" cy="6.1" r="1.16" fill="#3232a8" opacity="0.80"/>
<circle cx="58.9" cy="6.1" r="1.16" fill="#3232a8" opacity="0.80"/>
<circle cx="35.8" cy="32.6" r="0.83" fill="#3636b0" opacity="0.76"/>
<circle cx="18.6" cy="28.1" r="0.90" fill="#3232a8" opacity="0.61"/>
<circle cx="3.6" cy="25.7" r="1.03" fill="#28289a" opacity="0.80"/>
<circle cx="0.4" cy="4.6" r="1.06" fill="#3e3eba" opacity="0.72"/>
<circle cx="60.4" cy="4.6" r="1.06" fill="#3e3eba" opacity="0.72"/>
<circle cx="36.1" cy="44.3" r="1.24" fill="#3636b0" opacity="0.98"/>
<circle cx="21.2" cy="10.4" r="1.13" fill="#2e2ea2" opacity="0.90"/>
<circle cx="0.2" cy="52.3" r="1.00" fill="#28289a" opacity="0.62"/>
<circle cx="60.2" cy="52.3" r="1.00" fill="#28289a" opacity="0.62"/>
<circle cx="7.1" cy="36.5" r="0.96" fill="#3e3eba" opacity="0.92"/>
<circle cx="54.2" cy="44.8" r="1.02" fill="#3e3eba" opacity="0.69"/>
<circle cx="38.9" cy="3.7" r="0.94" fill="#3232a8" opacity="0.86"/>
<circle cx="15.6" cy="10.2" r="1.20" fill="#3232a8" opacity="0.91"/>
<circle cx="8.6" cy="29.3" r="0.88" fill="#28289a" opacity="0.84"/>
<circle cx="40.4" cy="7.2" r="0.93" fill="#2e2ea2" opacity="0.79"/>
<circle cx="10.4" cy="2.0" r="0.96" fill="#2e2ea2" opacity="0.80"/>
<circle cx="50.4" cy="2.3" r="0.93" fill="#2e2ea2" opacity="0.68"/>
<circle cx="25.0" cy="36.3" r="0.99" fill="#2e2ea2" opacity="0.65"/>
<circle cx="5.2" cy="55.3" r="0.81" fill="#3636b0" opacity="0.82"/>
<circle cx="57.7" cy="29.4" r="0.96" fill="#3636b0" opacity="0.72"/>
<circle cx="40.4" cy="15.6" r="1.23" fill="#3e3eba" opacity="0.74"/>
<circle cx="54.8" cy="52.5" r="1.19" fill="#2e2ea2" opacity="0.71"/>
<circle cx="40.4" cy="44.2" r="1.26" fill="#28289a" opacity="0.75"/>
<circle cx="23.4" cy="34.2" r="0.91" fill="#2e2ea2" opacity="0.83"/>
<circle cx="15.8" cy="33.9" r="0.89" fill="#28289a" opacity="0.83"/>
<circle cx="17.4" cy="4.7" r="0.90" fill="#3636b0" opacity="0.94"/>
<circle cx="2.3" cy="51.2" r="0.90" fill="#28289a" opacity="0.94"/>
<circle cx="10.2" cy="23.6" r="1.19" fill="#28289a" opacity="0.71"/>
<circle cx="50.1" cy="54.7" r="0.82" fill="#2e2ea2" opacity="0.76"/>
<circle cx="26.4" cy="56.1" r="1.24" fill="#2e2ea2" opacity="0.69"/>
<circle cx="57.0" cy="35.8" r="0.96" fill="#2e2ea2" opacity="0.88"/>
<circle cx="1.7" cy="31.4" r="0.91" fill="#3e3eba" opacity="0.77"/>
<circle cx="25.1" cy="52.7" r="0.87" fill="#3e3eba" opacity="0.72"/>
<circle cx="15.0" cy="20.6" r="0.87" fill="#3636b0" opacity="0.69"/>
<circle cx="47.8" cy="17.0" r="0.81" fill="#2e2ea2" opacity="0.95"/>
<circle cx="52.7" cy="33.7" r="0.81" fill="#28289a" opacity="0.91"/>
<circle cx="37.3" cy="56.5" r="1.19" fill="#3232a8" opacity="0.91"/>
<circle cx="19.6" cy="57.3" r="1.22" fill="#3636b0" opacity="0.90"/>
<circle cx="30.1" cy="2.7" r="0.92" fill="#3232a8" opacity="0.85"/>
<circle cx="24.2" cy="2.0" r="0.94" fill="#3636b0" opacity="0.76"/>
<circle cx="16.0" cy="30.0" r="0.92" fill="#2e2ea2" opacity="0.70"/>
<circle cx="20.6" cy="13.1" r="1.20" fill="#2e2ea2" opacity="0.90"/>
<circle cx="33.7" cy="56.3" r="0.85" fill="#3636b0" opacity="0.85"/>
<circle cx="5.6" cy="5.0" r="0.98" fill="#3636b0" opacity="0.69"/>
<circle cx="0.2" cy="33.2" r="1.12" fill="#3e3eba" opacity="0.77"/>
<circle cx="60.2" cy="33.2" r="1.12" fill="#3e3eba" opacity="0.77"/>
<circle cx="30.5" cy="35.0" r="1.21" fill="#3e3eba" opacity="0.69"/>
<circle cx="32.7" cy="9.6" r="0.97" fill="#3232a8" opacity="1.00"/>
<circle cx="26.7" cy="26.9" r="1.09" fill="#3232a8" opacity="0.74"/>
<circle cx="37.1" cy="25.0" r="1.19" fill="#3e3eba" opacity="0.86"/>
<circle cx="40.8" cy="11.3" r="1.19" fill="#3636b0" opacity="0.94"/>
<circle cx="21.3" cy="51.3" r="1.02" fill="#3636b0" opacity="0.86"/>
<circle cx="24.0" cy="20.3" r="1.26" fill="#2e2ea2" opacity="0.84"/>
<circle cx="57.2" cy="45.9" r="1.03" fill="#28289a" opacity="0.64"/>
<circle cx="46.7" cy="53.3" r="1.00" fill="#28289a" opacity="0.74"/>
<circle cx="23.9" cy="56.9" r="0.97" fill="#3e3eba" opacity="0.82"/>
<circle cx="30.8" cy="5.4" r="0.85" fill="#3e3eba" opacity="0.63"/>
<circle cx="3.1" cy="56.0" r="1.10" fill="#3e3eba" opacity="0.71"/>
<circle cx="29.8" cy="21.3" r="1.12" fill="#28289a" opacity="0.79"/>
<circle cx="44.7" cy="56.9" r="1.04" fill="#28289a" opacity="0.97"/>
<circle cx="54.4" cy="4.4" r="0.87" fill="#3e3eba" opacity="0.65"/>
<circle cx="24.4" cy="32.1" r="0.87" fill="#28289a" opacity="0.96"/>
<circle cx="57.0" cy="23.8" r="0.96" fill="#3e3eba" opacity="0.79"/>
<circle cx="26.8" cy="13.4" r="0.88" fill="#3636b0" opacity="0.64"/>
<circle cx="37.0" cy="28.6" r="0.95" fill="#2e2ea2" opacity="0.71"/>
<circle cx="24.8" cy="46.4" r="1.20" fill="#3636b0" opacity="0.98"/>
<circle cx="9.6" cy="10.5" r="1.24" fill="#3232a8" opacity="0.88"/>
<circle cx="4.0" cy="30.0" r="1.22" fill="#3636b0" opacity="0.87"/>
<circle cx="16.9" cy="18.5" r="0.92" fill="#28289a" opacity="0.86"/>
<circle cx="53.5" cy="38.5" r="1.08" fill="#2e2ea2" opacity="0.94"/>
<circle cx="0.7" cy="9.2" r="1.05" fill="#3232a8" opacity="0.95"/>
<circle cx="60.7" cy="9.2" r="1.05" fill="#3232a8" opacity="0.95"/>
<circle cx="40.7" cy="22.5" r="0.83" fill="#2e2ea2" opacity="0.72"/>
<circle cx="16.2" cy="43.5" r="1.11" fill="#28289a" opacity="0.74"/>
<circle cx="56.4" cy="32.3" r="1.02" fill="#2e2ea2" opacity="0.90"/>
<circle cx="23.5" cy="40.4" r="0.95" fill="#3232a8" opacity="0.65"/>
<circle cx="19.0" cy="38.7" r="1.25" fill="#3e3eba" opacity="0.75"/>
<circle cx="37.1" cy="4.7" r="1.22" fill="#2e2ea2" opacity="0.95"/>
<circle cx="45.1" cy="20.0" r="1.21" fill="#3232a8" opacity="0.90"/>
<circle cx="42.4" cy="55.0" r="0.93" fill="#3232a8" opacity="0.91"/>
<circle cx="36.8" cy="10.4" r="0.88" fill="#28289a" opacity="0.79"/>
</pattern>

<filter id="texA" x="0" y="0" width="100%" height="100%" color-interpolation-filters="sRGB">
 <feTurbulence type="fractalNoise" baseFrequency="0.40" numOctaves="2" seed="3" result="n"/>
 <feColorMatrix in="n" type="matrix" values="0 0 0 0 0  0 0 0 0 0  0 0 0 0 0  4 0 0 0 -1.65" result="a"/>
 <feFlood flood-color="#2c2ca6"/>
 <feComposite in2="a" operator="in"/>
</filter>
<filter id="texB" x="0" y="0" width="100%" height="100%" color-interpolation-filters="sRGB">
 <feTurbulence type="fractalNoise" baseFrequency="0.36" numOctaves="2" seed="11" result="n"/>
 <feColorMatrix in="n" type="matrix" values="0 0 0 0 0  0 0 0 0 0  0 0 0 0 0  3 0 0 0 -1.1" result="a"/>
 <feFlood flood-color="#3c3cbc"/>
 <feComposite in2="a" operator="in"/>
</filter>
<filter id="lf" x="0" y="0" width="100%" height="100%" color-interpolation-filters="sRGB">
 <feTurbulence type="fractalNoise" baseFrequency="0.07" numOctaves="2" seed="4" result="n"/>
 <feColorMatrix in="n" type="matrix" values="0 0 0 0 0.02  0 0 0 0 0.02  0 0 0 0 0.1  2.2 0 0 0 -0.9"/>
</filter>
<filter id="rough" x="-10%" y="-10%" width="120%" height="120%">
 <feTurbulence type="fractalNoise" baseFrequency="0.9" numOctaves="2" seed="2" result="t"/>
 <feDisplacementMap in="SourceGraphic" in2="t" scale="2.6" xChannelSelector="R" yChannelSelector="G"/>
</filter>
<filter id="pb"><feGaussianBlur stdDeviation="0.42"/></filter>
<filter id="bl03"><feGaussianBlur stdDeviation="0.35"/></filter>
<filter id="bl1"><feGaussianBlur stdDeviation="1.2"/></filter>
<filter id="bl2"><feGaussianBlur stdDeviation="2.2"/></filter>
<filter id="bl3"><feGaussianBlur stdDeviation="4"/></filter>
<filter id="bl05"><feGaussianBlur stdDeviation="0.6"/></filter>
<clipPath id="c1"><rect x="29.3" y="26.2" width="81.7" height="78.6"/></clipPath>
<clipPath id="c2"><rect x="114.5" y="26.2" width="92" height="78.6"/></clipPath>
<clipPath id="c3"><rect x="29.3" y="108.6" width="81.7" height="62.4"/></clipPath>
<clipPath id="c4"><rect x="114.5" y="108.6" width="92" height="62.4"/></clipPath>
</defs>
<rect x="0" y="0" width="520" height="608" fill="#fff"/>
<text x="7.20" y="15.40" font-size="11.2" fill="#111" font-weight="bold" >A</text>
<text x="257.80" y="14.80" font-size="11.2" fill="#111" font-weight="bold" >B</text>
<text x="6.60" y="198.70" font-size="11.2" fill="#111" font-weight="bold" >C</text>
<text x="179.00" y="198.70" font-size="11.2" fill="#111" font-weight="bold" >D</text>
<text x="353.40" y="198.70" font-size="11.2" fill="#111" font-weight="bold" >E</text>
<text x="7.60" y="349.00" font-size="11.2" fill="#111" font-weight="bold" >F</text>
<text x="204.60" y="349.20" font-size="11.2" fill="#111" font-weight="bold" >G</text>
<text x="399.00" y="349.50" font-size="11.2" fill="#111" font-weight="bold" >H</text>
<text x="7.00" y="492.20" font-size="11.2" fill="#111" font-weight="bold" >I</text>
<rect x="29.3" y="10.4" width="81.7" height="13.4" fill="#c8102e"/>
<rect x="114.5" y="10.4" width="92" height="13.4" fill="#135386"/>
<text x="70.20" y="20.40" font-size="9.2" fill="#fff" stroke="#fff" stroke-width="0.1" text-anchor="middle" >WT</text>
<text x="160.50" y="20.40" font-size="9.2" fill="#fff" stroke="#fff" stroke-width="0.1" text-anchor="middle" >KO</text>
<g clip-path="url(#c1)">
<rect x="29.3" y="26.2" width="81.7" height="78.6" fill="#07071f"/>
<rect x="29.3" y="26.2" width="81.7" height="78.6" fill="url(#pA)" filter="url(#pb)"/>
<rect x="29.3" y="26.2" width="81.7" height="78.6" filter="url(#lf)" opacity="0.8"/>
<ellipse cx="33.5" cy="40" rx="6" ry="7" fill="#03030f" opacity="0.6" filter="url(#bl2)"/>
<ellipse cx="104" cy="30" rx="7" ry="4" fill="#03030f" opacity="0.5" filter="url(#bl2)"/>
<ellipse cx="40" cy="95" rx="8" ry="6" fill="#03030f" opacity="0.3" filter="url(#bl2)"/>
<g filter="url(#rough)"><path d="M55.5 66 C55.5 62.5 59 62.5 63 63 C67 63.5 69 61 73 60.5 C78 59.8 85 59.5 88.5 62 C90.5 64.5 90 70 88 73 C85 76 79 76 74 75.5 C69 75 64 74.5 60 73.5 C57 72.5 55.5 69.5 55.5 66 Z" fill="#03030f"/></g>
<ellipse cx="71.6" cy="71.5" rx="1.2" ry="1.2" fill="#3030a0" opacity="0.9" filter="url(#bl03)"/>
<ellipse cx="66" cy="68" rx="1" ry="1" fill="#2a2a90" opacity="0.7" filter="url(#bl03)"/>
<ellipse cx="72" cy="48" rx="16" ry="7" fill="#3a3ab8" opacity="0.18" filter="url(#bl3)"/>
<ellipse cx="55.4" cy="96.5" rx="4.8" ry="3.8" fill="#03030f" opacity="1" filter="url(#bl05)"/>
<ellipse cx="55.4" cy="96.5" rx="6" ry="5" fill="#03030f" opacity="0.5" filter="url(#bl1)"/>
<ellipse cx="82.6" cy="37" rx="0.8" ry="1.4" fill="#ff1a3c" opacity="0.85" filter="url(#bl03)"/>
<ellipse cx="90.5" cy="46.5" rx="1.0" ry="1.8" fill="#ff1a3c" opacity="0.85" filter="url(#bl03)" transform="rotate(-30 90.5 46.5)"/>
<ellipse cx="84" cy="43" rx="2.2" ry="0.7" fill="#ff1a3c" opacity="0.85" filter="url(#bl03)" transform="rotate(35 84 43)"/>
<ellipse cx="94" cy="57.5" rx="0.8" ry="2.6" fill="#ff1a3c" opacity="0.85" filter="url(#bl03)" transform="rotate(-10 94 57.5)"/>
<ellipse cx="101" cy="60" rx="1.1" ry="1.1" fill="#ff1a3c" opacity="0.85" filter="url(#bl03)"/>
<ellipse cx="104" cy="63" rx="1.3" ry="0.9" fill="#ff1a3c" opacity="0.85" filter="url(#bl03)"/>
<ellipse cx="99" cy="66" rx="0.9" ry="0.9" fill="#ff1a3c" opacity="0.85" filter="url(#bl03)"/>
<ellipse cx="106" cy="68" rx="0.9" ry="0.9" fill="#ff1a3c" opacity="0.85" filter="url(#bl03)"/>
<ellipse cx="36" cy="72.8" rx="2.4" ry="0.8" fill="#ff1a3c" opacity="0.85" filter="url(#bl03)" transform="rotate(-15 36 72.8)"/>
<ellipse cx="46.4" cy="84" rx="2.6" ry="0.9" fill="#ff1a3c" opacity="0.85" filter="url(#bl03)" transform="rotate(35 46.4 84)"/>
<ellipse cx="72" cy="86.8" rx="2.3" ry="0.8" fill="#ff1a3c" opacity="0.85" filter="url(#bl03)"/>
<ellipse cx="92" cy="86" rx="2.2" ry="1.8" fill="#ff1a3c" opacity="0.85" filter="url(#bl03)" transform="rotate(-40 92 86)"/>
<ellipse cx="87" cy="91" rx="2.8" ry="0.7" fill="#ff1a3c" opacity="0.85" filter="url(#bl03)" transform="rotate(30 87 91)"/>
<ellipse cx="83" cy="93" rx="1.4" ry="0.7" fill="#ff1a3c" opacity="0.85" filter="url(#bl03)"/>
<ellipse cx="71.6" cy="26.5" rx="0.9" ry="0.9" fill="#ff1a3c" opacity="0.85" filter="url(#bl03)"/>
<ellipse cx="98" cy="40" rx="0.9" ry="0.9" fill="#ff1a3c" opacity="0.85" filter="url(#bl03)"/>
<ellipse cx="44" cy="90" rx="0.9" ry="0.9" fill="#ff1a3c" opacity="0.85" filter="url(#bl03)"/>
<ellipse cx="72.4" cy="62.4" rx="25.2" ry="21.2" fill="none" stroke="#e8e8ec" stroke-width="1.12" stroke-dasharray="5.0 3.8"/>
<text x="44.30" y="48.50" font-size="8.0" fill="#ececf4" stroke="#ececf4" stroke-width="0.22" text-anchor="middle" >D</text>
<text x="100.80" y="82.60" font-size="8.0" fill="#ececf4" stroke="#ececf4" stroke-width="0.22" text-anchor="middle" >V</text>
<line x1="94.90" y1="101.50" x2="107.40" y2="101.50" stroke="#f0f0f0" stroke-width="1.4" />
</g>
<g clip-path="url(#c2)">
<rect x="114.5" y="26.2" width="92" height="78.6" fill="#1a1a66"/>
<rect x="114.5" y="26.2" width="92" height="78.6" fill="url(#pB)" filter="url(#pb)"/>
<rect x="114.5" y="26.2" width="92" height="78.6" filter="url(#lf)" opacity="0.8"/>
<ellipse cx="159" cy="66" rx="22" ry="18" fill="#101048" opacity="0.45" filter="url(#bl2)" transform="rotate(25 159 66)"/>
<g filter="url(#bl05)"><g filter="url(#rough)"><path d="M150 54 C153 50.5 159 50 164 50.5 C168.5 51.5 171.5 55 171.5 59.5 C171 62.5 168 62 165.5 59.5 C163 57 159 55.5 155 56 C152 56.5 149.5 56.5 150 54 Z" fill="#03030f"/></g></g>
<ellipse cx="148" cy="58" rx="2" ry="2" fill="#03030f" opacity="0.7" filter="url(#bl05)"/>
<ellipse cx="162" cy="57" rx="7" ry="5" fill="#03030f" opacity="0.4" filter="url(#bl2)"/>
<ellipse cx="141" cy="97.5" rx="5.5" ry="4" fill="#03030f" opacity="1" filter="url(#bl1)"/>
<ellipse cx="122" cy="32" rx="6" ry="4" fill="#03030f" opacity="0.5" filter="url(#bl2)"/>
<ellipse cx="183" cy="48" rx="2.5" ry="2.5" fill="#03030f" opacity="0.7" filter="url(#bl05)"/>
<ellipse cx="205" cy="30" rx="4" ry="6" fill="#03030f" opacity="0.6" filter="url(#bl2)"/>
<ellipse cx="186" cy="62" rx="1.5" ry="4" fill="#03030f" opacity="0.6" filter="url(#bl05)"/>
<ellipse cx="118" cy="70" rx="4" ry="8" fill="#03030f" opacity="0.35" filter="url(#bl2)"/>
<g filter="url(#bl1)" opacity="0.85"><ellipse cx="172" cy="38.5" rx="5" ry="5.5" fill="#f0287a" filter="url(#rough)"/></g>
<circle cx="169.14" cy="39.47" r="0.92" fill="#ff3a6a"/>
<circle cx="169.22" cy="39.17" r="0.76" fill="#ff3a6a"/>
<circle cx="173.14" cy="41.39" r="0.78" fill="#ff3a6a"/>
<circle cx="172.33" cy="37.20" r="0.64" fill="#ff3a6a"/>
<circle cx="175.03" cy="40.64" r="0.81" fill="#ff3a6a"/>
<circle cx="175.83" cy="39.63" r="0.93" fill="#ff3a6a"/>
<circle cx="170.22" cy="35.66" r="0.57" fill="#ff3a6a"/>
<circle cx="174.89" cy="38.80" r="0.53" fill="#ff3a6a"/>
<g filter="url(#bl1)" opacity="0.70"><ellipse cx="170" cy="33" rx="2.5" ry="2.5" fill="#f0287a" filter="url(#rough)"/></g>
<circle cx="170.36" cy="33.92" r="0.51" fill="#ff3a6a"/>
<circle cx="168.71" cy="33.30" r="0.88" fill="#ff3a6a"/>
<g filter="url(#bl1)" opacity="0.70"><ellipse cx="127.5" cy="65" rx="2.8" ry="6.5" fill="#f0287a" filter="url(#rough)" transform="rotate(-15 127.5 65)"/></g>
<circle cx="125.65" cy="64.98" r="0.72" fill="#ff3a6a"/>
<circle cx="125.96" cy="62.31" r="0.63" fill="#ff3a6a"/>
<circle cx="129.64" cy="64.35" r="0.88" fill="#ff3a6a"/>
<circle cx="126.45" cy="62.36" r="0.6" fill="#ff3a6a"/>
<circle cx="127.71" cy="66.33" r="0.84" fill="#ff3a6a"/>
<circle cx="126.61" cy="68.14" r="0.67" fill="#ff3a6a"/>
<g filter="url(#bl1)" opacity="0.70"><ellipse cx="124.5" cy="56" rx="1.5" ry="2" fill="#f0287a" filter="url(#rough)"/></g>
<circle cx="125.57" cy="55.62" r="0.5" fill="#ff3a6a"/>
<circle cx="124.79" cy="57.48" r="0.71" fill="#ff3a6a"/>
<g filter="url(#bl1)" opacity="0.65"><ellipse cx="196" cy="78" rx="4" ry="4.2" fill="#f0287a" filter="url(#rough)"/></g>
<circle cx="198.00" cy="77.74" r="0.53" fill="#ff3a6a"/>
<circle cx="194.06" cy="75.85" r="0.62" fill="#ff3a6a"/>
<circle cx="197.58" cy="79.01" r="0.93" fill="#ff3a6a"/>
<circle cx="196.06" cy="76.85" r="0.61" fill="#ff3a6a"/>
<circle cx="196.63" cy="78.49" r="0.86" fill="#ff3a6a"/>
<g filter="url(#bl1)" opacity="0.70"><ellipse cx="175" cy="92.5" rx="5" ry="2.8" fill="#f0287a" filter="url(#rough)" transform="rotate(-20 175 92.5)"/></g>
<circle cx="176.75" cy="93.47" r="0.7" fill="#ff3a6a"/>
<circle cx="176.78" cy="93.75" r="0.56" fill="#ff3a6a"/>
<circle cx="174.00" cy="92.23" r="0.69" fill="#ff3a6a"/>
<circle cx="175.84" cy="93.40" r="0.94" fill="#ff3a6a"/>
<circle cx="175.28" cy="91.16" r="0.9" fill="#ff3a6a"/>
<circle cx="176.04" cy="93.57" r="0.88" fill="#ff3a6a"/>
<g filter="url(#bl1)" opacity="0.80"><ellipse cx="180" cy="88.5" rx="2" ry="2" fill="#f0287a" filter="url(#rough)"/></g>
<circle cx="179.68" cy="88.11" r="0.95" fill="#ff3a6a"/>
<circle cx="180.19" cy="89.29" r="0.85" fill="#ff3a6a"/>
<g filter="url(#bl1)" opacity="0.70"><ellipse cx="191" cy="60" rx="1" ry="1.6" fill="#f0287a" filter="url(#rough)"/></g>
<circle cx="190.79" cy="60.61" r="0.53" fill="#ff3a6a"/>
<ellipse cx="158.7" cy="65.9" rx="25.6" ry="19.2" transform="rotate(24 158.7 65.9)" fill="none" stroke="#e8e8ec" stroke-width="1.12" stroke-dasharray="5.0 3.8"/>
<text x="139.00" y="46.40" font-size="8.0" fill="#ececf4" stroke="#ececf4" stroke-width="0.22" text-anchor="middle" >D</text>
<text x="188.20" y="92.60" font-size="8.0" fill="#ececf4" stroke="#ececf4" stroke-width="0.22" text-anchor="middle" >V</text>
<line x1="191.80" y1="102.50" x2="203.40" y2="102.50" stroke="#f0f0f0" stroke-width="1.4" />
</g>
<g clip-path="url(#c3)">
<rect x="29.3" y="108.6" width="81.7" height="62.4" fill="#08082a"/>
<rect x="29.3" y="108.6" width="81.7" height="62.4" fill="url(#pA)" filter="url(#pb)"/>
<rect x="29.3" y="108.6" width="81.7" height="62.4" filter="url(#lf)" opacity="0.8"/>
<ellipse cx="68" cy="149" rx="20" ry="17" fill="#0c0c3a" opacity="0.45" filter="url(#bl2)"/>
<ellipse cx="45" cy="125" rx="14" ry="14" fill="#801850" opacity="0.22" filter="url(#bl3)"/>
<g filter="url(#bl1)" opacity="0.90"><ellipse cx="45.5" cy="117.5" rx="3.0" ry="3.3" fill="#ff1e46" filter="url(#rough)"/></g>
<circle cx="47.05" cy="118.58" r="0.61" fill="#ff3a6a"/>
<circle cx="44.32" cy="116.54" r="0.7" fill="#ff3a6a"/>
<circle cx="47.11" cy="117.03" r="0.76" fill="#ff3a6a"/>
<circle cx="46.19" cy="116.66" r="0.57" fill="#ff3a6a"/>
<circle cx="47.32" cy="116.20" r="0.61" fill="#ff3a6a"/>
<circle cx="46.26" cy="119.61" r="0.92" fill="#ff3a6a"/>
<g filter="url(#bl1)" opacity="0.85"><ellipse cx="52.5" cy="119" rx="1.8" ry="2.0" fill="#ff1e46" filter="url(#rough)"/></g>
<circle cx="52.96" cy="120.47" r="0.9" fill="#ff3a6a"/>
<circle cx="51.76" cy="118.37" r="0.55" fill="#ff3a6a"/>
<circle cx="53.87" cy="119.38" r="0.61" fill="#ff3a6a"/>
<g filter="url(#bl1)" opacity="0.85"><ellipse cx="39.3" cy="148" rx="3.6" ry="3.4" fill="#ff1e46" filter="url(#rough)"/></g>
<circle cx="38.89" cy="146.68" r="0.87" fill="#ff3a6a"/>
<circle cx="38.02" cy="147.16" r="0.58" fill="#ff3a6a"/>
<circle cx="39.16" cy="147.30" r="0.6" fill="#ff3a6a"/>
<circle cx="36.82" cy="147.08" r="0.78" fill="#ff3a6a"/>
<circle cx="38.78" cy="150.56" r="0.59" fill="#ff3a6a"/>
<circle cx="40.79" cy="148.15" r="0.7" fill="#ff3a6a"/>
<circle cx="40.42" cy="148.42" r="0.67" fill="#ff3a6a"/>
<g filter="url(#bl1)" opacity="0.90"><ellipse cx="105.5" cy="150.5" rx="3.3" ry="4.0" fill="#ff1e46" filter="url(#rough)"/></g>
<circle cx="104.64" cy="149.99" r="0.66" fill="#ff3a6a"/>
<circle cx="107.52" cy="148.49" r="0.8" fill="#ff3a6a"/>
<circle cx="104.77" cy="148.22" r="0.56" fill="#ff3a6a"/>
<circle cx="105.84" cy="150.59" r="0.91" fill="#ff3a6a"/>
<circle cx="104.71" cy="147.51" r="0.51" fill="#ff3a6a"/>
<circle cx="104.30" cy="148.82" r="0.83" fill="#ff3a6a"/>
<circle cx="104.39" cy="153.40" r="0.53" fill="#ff3a6a"/>
<g filter="url(#bl1)" opacity="0.70"><ellipse cx="35.3" cy="133.2" rx="1.2" ry="1.2" fill="#ff1e46" filter="url(#rough)"/></g>
<circle cx="34.51" cy="132.96" r="0.91" fill="#ff3a6a"/>
<g filter="url(#bl1)" opacity="0.80"><ellipse cx="90.5" cy="146" rx="1.0" ry="1.0" fill="#ff1e46" filter="url(#rough)"/></g>
<circle cx="90.45" cy="145.33" r="0.86" fill="#ff3a6a"/>
<g filter="url(#bl1)" opacity="0.45"><ellipse cx="43" cy="125" rx="1.8" ry="1.6" fill="#ff1e46" filter="url(#rough)"/></g>
<circle cx="43.74" cy="124.61" r="0.81" fill="#ff3a6a"/>
<circle cx="44.09" cy="124.30" r="0.69" fill="#ff3a6a"/>
<g filter="url(#bl1)" opacity="0.50"><ellipse cx="40" cy="140" rx="1.4" ry="1.1" fill="#ff1e46" filter="url(#rough)"/></g>
<circle cx="40.26" cy="139.21" r="0.76" fill="#ff3a6a"/>
<g filter="url(#bl1)" opacity="0.50"><ellipse cx="100" cy="140" rx="1.1" ry="1.1" fill="#ff1e46" filter="url(#rough)"/></g>
<circle cx="99.62" cy="139.62" r="0.76" fill="#ff3a6a"/>
<path d="M44 142 C45 135 50 130 55 128 C60 126.5 66 127 70 127.7 C75 129 80 130 84 134 C89 139 92 144 92.2 150 C92.3 156 90 161 86 164 C82 167.5 77 169 71 169.5 M44 142 C45 150 48.5 156 52 160 C54 163 55.5 166 57 168.5" fill="none" stroke="#e8e8ec" stroke-width="1.12" stroke-dasharray="5.0 3.8"/>
<text x="80.30" y="127.40" font-size="8.0" fill="#ececf4" stroke="#ececf4" stroke-width="0.22" text-anchor="middle" >D</text>
<text x="51.50" y="170.00" font-size="8.0" fill="#ececf4" stroke="#ececf4" stroke-width="0.22" text-anchor="middle" >V</text>
<line x1="96.00" y1="168.50" x2="109.00" y2="168.50" stroke="#f0f0f0" stroke-width="1.4" />
</g>
<g clip-path="url(#c4)">
<rect x="114.5" y="108.6" width="92" height="62.4" fill="#26268a"/>
<rect x="114.5" y="108.6" width="92" height="62.4" fill="url(#pB)" filter="url(#pb)"/>
<rect x="114.5" y="108.6" width="92" height="62.4" filter="url(#lf)" opacity="0.8"/>
<ellipse cx="196" cy="155" rx="16" ry="18" fill="#5252c0" opacity="0.45" filter="url(#bl3)"/>
<ellipse cx="135" cy="142" rx="11" ry="21" fill="#03030f" opacity="1" filter="url(#bl3)"/>
<ellipse cx="134" cy="140" rx="6" ry="14" fill="#03030f" opacity="0.7" filter="url(#bl2)"/>
<ellipse cx="146" cy="160" rx="9" ry="8" fill="#03030f" opacity="0.6" filter="url(#bl3)"/>
<ellipse cx="177" cy="143" rx="7" ry="6" fill="#03030f" opacity="0.55" filter="url(#bl3)"/>
<ellipse cx="122" cy="152" rx="7" ry="12" fill="#0a0a30" opacity="0.55" filter="url(#bl3)"/>
<ellipse cx="168" cy="148" rx="10" ry="4" fill="#03030f" opacity="0.4" filter="url(#bl2)" transform="rotate(-40 168 148)"/>
<path d="M138.2 125.9 L142.6 123.2 L149.8 125.9 L156 129.1 L167.7 126.8 L173 128.6 L175.7 133 L173 137.5 L165.9 143.8 L158.7 150 L152.5 157.2 L148 152.7 L143.5 143.8 L139 134.8 Z" fill="#16165a" opacity="0.8" filter="url(#bl1)"/>
<g filter="url(#bl1)" opacity="0.85"><ellipse cx="130" cy="118.5" rx="5" ry="4.8" fill="#f0287a" filter="url(#rough)"/></g>
<circle cx="129.12" cy="117.81" r="0.79" fill="#ff3a6a"/>
<circle cx="133.75" cy="118.35" r="0.83" fill="#ff3a6a"/>
<circle cx="127.38" cy="120.62" r="0.76" fill="#ff3a6a"/>
<circle cx="126.59" cy="119.78" r="0.54" fill="#ff3a6a"/>
<circle cx="130.00" cy="117.84" r="0.77" fill="#ff3a6a"/>
<circle cx="128.09" cy="118.72" r="0.81" fill="#ff3a6a"/>
<circle cx="126.86" cy="118.55" r="0.91" fill="#ff3a6a"/>
<circle cx="129.98" cy="118.91" r="0.64" fill="#ff3a6a"/>
<g filter="url(#bl1)" opacity="0.60"><ellipse cx="124" cy="122" rx="2.5" ry="2.2" fill="#f0287a" filter="url(#rough)"/></g>
<circle cx="123.61" cy="121.29" r="0.58" fill="#ff3a6a"/>
<circle cx="125.35" cy="121.20" r="0.7" fill="#ff3a6a"/>
<g filter="url(#bl1)" opacity="0.70"><ellipse cx="142.6" cy="116" rx="1.3" ry="1.3" fill="#f0287a" filter="url(#rough)"/></g>
<circle cx="143.06" cy="115.63" r="0.8" fill="#ff3a6a"/>
<g filter="url(#bl1)" opacity="0.85"><ellipse cx="189" cy="129" rx="7.5" ry="5.5" fill="#f0287a" filter="url(#rough)" transform="rotate(-25 189 129)"/></g>
<circle cx="191.29" cy="130.95" r="0.86" fill="#ff3a6a"/>
<circle cx="192.48" cy="125.04" r="0.67" fill="#ff3a6a"/>
<circle cx="185.83" cy="129.12" r="0.56" fill="#ff3a6a"/>
<circle cx="184.06" cy="131.40" r="0.88" fill="#ff3a6a"/>
<circle cx="185.96" cy="125.82" r="0.62" fill="#ff3a6a"/>
<circle cx="191.87" cy="130.51" r="0.62" fill="#ff3a6a"/>
<circle cx="190.95" cy="131.14" r="0.78" fill="#ff3a6a"/>
<circle cx="185.99" cy="130.51" r="0.88" fill="#ff3a6a"/>
<circle cx="192.49" cy="127.00" r="0.53" fill="#ff3a6a"/>
<circle cx="194.32" cy="127.41" r="0.52" fill="#ff3a6a"/>
<circle cx="186.59" cy="126.58" r="0.64" fill="#ff3a6a"/>
<circle cx="188.95" cy="128.38" r="0.56" fill="#ff3a6a"/>
<g filter="url(#bl1)" opacity="0.80"><ellipse cx="194" cy="124" rx="3.5" ry="3" fill="#f0287a" filter="url(#rough)"/></g>
<circle cx="193.58" cy="124.11" r="0.87" fill="#ff3a6a"/>
<circle cx="194.08" cy="124.90" r="0.52" fill="#ff3a6a"/>
<circle cx="192.71" cy="122.84" r="0.78" fill="#ff3a6a"/>
<circle cx="192.59" cy="122.22" r="0.93" fill="#ff3a6a"/>
<g filter="url(#bl1)" opacity="0.60"><ellipse cx="182" cy="136" rx="2" ry="2" fill="#f0287a" filter="url(#rough)"/></g>
<circle cx="181.71" cy="135.35" r="0.71" fill="#ff3a6a"/>
<circle cx="182.07" cy="136.15" r="0.71" fill="#ff3a6a"/>
<circle cx="172.76" cy="142.64" r="0.57" fill="#ff2a5a"/>
<circle cx="170.33" cy="142.45" r="0.71" fill="#ff2a5a"/>
<circle cx="155.74" cy="155.70" r="0.46" fill="#ff2a5a"/>
<circle cx="177.44" cy="139.79" r="0.52" fill="#ff2a5a"/>
<circle cx="165.36" cy="155.41" r="0.45" fill="#ff2a5a"/>
<circle cx="172.92" cy="146.23" r="0.37" fill="#ff2a5a"/>
<circle cx="152.50" cy="161.58" r="0.63" fill="#ff2a5a"/>
<circle cx="173.84" cy="137.27" r="0.5" fill="#ff2a5a"/>
<circle cx="167.88" cy="153.86" r="0.52" fill="#ff2a5a"/>
<circle cx="176.16" cy="145.99" r="0.72" fill="#ff2a5a"/>
<circle cx="175.96" cy="144.25" r="0.6" fill="#ff2a5a"/>
<circle cx="168.38" cy="146.63" r="0.57" fill="#ff2a5a"/>
<circle cx="175.81" cy="147.20" r="0.46" fill="#ff2a5a"/>
<circle cx="158.82" cy="157.81" r="0.44" fill="#ff2a5a"/>
<circle cx="155.34" cy="163.36" r="0.69" fill="#ff2a5a"/>
<circle cx="161.63" cy="150.94" r="0.68" fill="#ff2a5a"/>
<circle cx="171.90" cy="139.51" r="0.44" fill="#ff2a5a"/>
<circle cx="154.97" cy="160.64" r="0.75" fill="#ff2a5a"/>
<circle cx="166.36" cy="147.69" r="0.52" fill="#ff2a5a"/>
<circle cx="153.97" cy="163.12" r="0.52" fill="#ff2a5a"/>
<circle cx="178.90" cy="142.65" r="0.8" fill="#ff2a5a"/>
<circle cx="166.53" cy="152.24" r="0.57" fill="#ff2a5a"/>
<circle cx="163.88" cy="151.97" r="0.62" fill="#ff2a5a"/>
<circle cx="162.71" cy="150.95" r="0.63" fill="#ff2a5a"/>
<circle cx="173.78" cy="144.58" r="0.77" fill="#ff2a5a"/>
<circle cx="170.16" cy="148.84" r="0.62" fill="#ff2a5a"/>
<circle cx="170.41" cy="147.10" r="0.72" fill="#ff2a5a"/>
<circle cx="158.55" cy="157.34" r="0.52" fill="#ff2a5a"/>
<circle cx="159.17" cy="153.32" r="0.78" fill="#ff2a5a"/>
<circle cx="164.70" cy="145.67" r="0.8" fill="#ff2a5a"/>
<circle cx="151.08" cy="158.15" r="0.57" fill="#ff2a5a"/>
<circle cx="166.64" cy="146.30" r="0.46" fill="#ff2a5a"/>
<circle cx="156.03" cy="159.48" r="0.71" fill="#ff2a5a"/>
<circle cx="158.77" cy="157.43" r="0.57" fill="#ff2a5a"/>
<circle cx="157.79" cy="159.50" r="0.48" fill="#ff2a5a"/>
<circle cx="167.52" cy="149.52" r="0.43" fill="#ff2a5a"/>
<circle cx="174.28" cy="139.55" r="0.79" fill="#ff2a5a"/>
<circle cx="161.65" cy="159.29" r="0.57" fill="#ff2a5a"/>
<circle cx="173.06" cy="147.37" r="0.68" fill="#ff2a5a"/>
<circle cx="176.49" cy="139.98" r="0.45" fill="#ff2a5a"/>
<circle cx="157.53" cy="159.27" r="0.62" fill="#ff2a5a"/>
<circle cx="164.12" cy="145.98" r="0.61" fill="#ff2a5a"/>
<circle cx="155.78" cy="157.83" r="0.47" fill="#ff2a5a"/>
<circle cx="160.12" cy="158.68" r="0.35" fill="#ff2a5a"/>
<circle cx="160.82" cy="155.30" r="0.62" fill="#ff2a5a"/>
<ellipse cx="165" cy="150" rx="10" ry="3" fill="#c01860" opacity="0.35" filter="url(#bl2)" transform="rotate(-40 165 150)"/>
<g filter="url(#bl1)" opacity="0.50"><ellipse cx="131" cy="138" rx="1.5" ry="3" fill="#f0287a" filter="url(#rough)"/></g>
<circle cx="130.89" cy="137.01" r="0.62" fill="#ff3a6a"/>
<circle cx="130.43" cy="139.65" r="0.73" fill="#ff3a6a"/>
<g filter="url(#bl1)" opacity="0.50"><ellipse cx="133" cy="146" rx="1.2" ry="2" fill="#f0287a" filter="url(#rough)"/></g>
<circle cx="132.37" cy="145.08" r="0.68" fill="#ff3a6a"/>
<g filter="url(#bl1)" opacity="0.50"><ellipse cx="128" cy="112" rx="2" ry="1.5" fill="#f0287a" filter="url(#rough)"/></g>
<circle cx="128.40" cy="110.90" r="0.54" fill="#ff3a6a"/>
<circle cx="129.24" cy="111.58" r="0.56" fill="#ff3a6a"/>
<ellipse cx="200" cy="161" rx="1.5" ry="3" fill="#ff1a3c" opacity="0.4" filter="url(#bl1)"/>
<path d="M138.2 125.9 C139.5 124 141 123.2 142.6 123.2 C145 123.5 147.5 125 149.8 125.9 C152 127 154 129 156 129.1 C160 129.2 164 126.8 167.7 126.8 C170 127 172 127.5 173 128.6 C175 130 176 131.5 175.7 133 C175 135 174 136.5 173 137.5 L165.9 143.8 L158.7 150 L152.5 157.2 L148 152.7 L143.5 143.8 L139 134.8 C138 131 137.8 128 138.2 125.9 Z" stroke-linejoin="round" fill="none" stroke="#e8e8ec" stroke-width="1.12" stroke-dasharray="5.0 3.8"/>
<text x="157.00" y="123.20" font-size="8.0" fill="#ececf4" stroke="#ececf4" stroke-width="0.22" text-anchor="middle" >D</text>
<text x="145.80" y="168.20" font-size="8.0" fill="#ececf4" stroke="#ececf4" stroke-width="0.22" text-anchor="middle" >V</text>
<line x1="192.70" y1="166.50" x2="204.30" y2="166.50" stroke="#f0f0f0" stroke-width="1.4" />
</g>
<line x1="299.50" y1="20.80" x2="299.50" y2="159.45" stroke="#2a2a2a" stroke-width="1.3" />
<line x1="296.70" y1="158.50" x2="299.50" y2="158.50" stroke="#2a2a2a" stroke-width="1" />
<text x="293.70" y="161.65" font-size="8.0" fill="#141414" stroke="#141414" stroke-width="0.22" text-anchor="end" >0</text>
<line x1="296.70" y1="125.50" x2="299.50" y2="125.50" stroke="#2a2a2a" stroke-width="1" />
<text x="293.70" y="128.13" font-size="8.0" fill="#141414" stroke="#141414" stroke-width="0.22" text-anchor="end" >20</text>
<line x1="296.70" y1="91.50" x2="299.50" y2="91.50" stroke="#2a2a2a" stroke-width="1" />
<text x="293.70" y="94.61" font-size="8.0" fill="#141414" stroke="#141414" stroke-width="0.22" text-anchor="end" >40</text>
<line x1="296.70" y1="58.50" x2="299.50" y2="58.50" stroke="#2a2a2a" stroke-width="1" />
<text x="293.70" y="61.09" font-size="8.0" fill="#141414" stroke="#141414" stroke-width="0.22" text-anchor="end" >60</text>
<line x1="296.70" y1="24.50" x2="299.50" y2="24.50" stroke="#2a2a2a" stroke-width="1" />
<text x="293.70" y="27.57" font-size="8.0" fill="#141414" stroke="#141414" stroke-width="0.22" text-anchor="end" >80</text>
<line x1="298.85" y1="158.50" x2="467.50" y2="158.50" stroke="#2a2a2a" stroke-width="1.3" />
<line x1="330.50" y1="158.80" x2="330.50" y2="161.40" stroke="#2a2a2a" stroke-width="1" />
<text x="330.70" y="171.30" font-size="7.7" fill="#141414" stroke="#141414" stroke-width="0.22" text-anchor="middle" textLength="17.1" lengthAdjust="spacingAndGlyphs" >G0/1</text>
<line x1="387.50" y1="158.80" x2="387.50" y2="161.40" stroke="#2a2a2a" stroke-width="1" />
<text x="387.20" y="171.30" font-size="7.7" fill="#141414" stroke="#141414" stroke-width="0.22" text-anchor="middle" >S</text>
<line x1="443.50" y1="158.80" x2="443.50" y2="161.40" stroke="#2a2a2a" stroke-width="1" />
<text x="443.80" y="171.30" font-size="7.7" fill="#141414" stroke="#141414" stroke-width="0.22" text-anchor="middle" textLength="20.2" lengthAdjust="spacingAndGlyphs" >G2/M</text>
<text x="278.10" y="89.30" font-size="9.6" fill="#141414" stroke="#141414" stroke-width="0.22" text-anchor="middle" textLength="52.3" lengthAdjust="spacingAndGlyphs" transform="rotate(-90 278.10 89.30)" >% in Ngfr+ cells</text>
<line x1="321.50" y1="44.20" x2="321.50" y2="51.54" stroke="#c8102e" stroke-width="1.2" />
<line x1="318.30" y1="44.50" x2="324.90" y2="44.50" stroke="#c8102e" stroke-width="1.2" />
<rect x="314.5" y="51.54" width="14.2" height="107.26" fill="#c8102e"/>
<line x1="340.50" y1="67.60" x2="340.50" y2="69.97" stroke="#135386" stroke-width="1.2" />
<line x1="337.00" y1="67.50" x2="343.60" y2="67.50" stroke="#135386" stroke-width="1.2" />
<rect x="333.2" y="69.97" width="14.2" height="88.83" fill="#135386"/>
<line x1="378.50" y1="121.60" x2="378.50" y2="123.60" stroke="#c8102e" stroke-width="1.2" />
<line x1="374.80" y1="121.50" x2="381.40" y2="121.50" stroke="#c8102e" stroke-width="1.2" />
<rect x="371.0" y="123.60" width="14.2" height="35.20" fill="#c8102e"/>
<line x1="396.50" y1="110.50" x2="396.50" y2="111.87" stroke="#135386" stroke-width="1.2" />
<line x1="393.60" y1="110.50" x2="400.20" y2="110.50" stroke="#135386" stroke-width="1.2" />
<rect x="389.8" y="111.87" width="14.2" height="46.93" fill="#135386"/>
<line x1="434.50" y1="131.90" x2="434.50" y2="135.67" stroke="#c8102e" stroke-width="1.2" />
<line x1="431.40" y1="131.50" x2="438.00" y2="131.50" stroke="#c8102e" stroke-width="1.2" />
<rect x="427.6" y="135.67" width="14.2" height="23.13" fill="#c8102e"/>
<line x1="453.50" y1="134.70" x2="453.50" y2="134.67" stroke="#135386" stroke-width="1.2" />
<line x1="450.00" y1="134.50" x2="456.60" y2="134.50" stroke="#135386" stroke-width="1.2" />
<rect x="446.2" y="134.67" width="14.2" height="24.13" fill="#135386"/>
<path d="M377.6 103.8 V99.6 H397.1 V103.8" fill="none" stroke="#333" stroke-width="1"/>
<text x="387.40" y="99.00" font-size="9.5" fill="#141414" stroke="#141414" stroke-width="0.22" text-anchor="middle" >**</text>
<rect x="468.1" y="22.1" width="5.5" height="5.1" fill="#c8102e"/>
<rect x="468.1" y="32.5" width="5.5" height="5.1" fill="#135386"/>
<text x="476.80" y="27.60" font-size="7.2" fill="#222" stroke="#222" stroke-width="0.22" textLength="10.7" lengthAdjust="spacingAndGlyphs" >WT</text>
<text x="476.80" y="37.90" font-size="7.2" fill="#222" stroke="#222" stroke-width="0.22" textLength="10.4" lengthAdjust="spacingAndGlyphs" >KO</text>
<text x="68.30" y="199.00" font-size="9" fill="#141414" stroke="#141414" stroke-width="0.22" textLength="51.2" lengthAdjust="spacingAndGlyphs" >Noradrenaline</text>
<line x1="35.50" y1="211.00" x2="35.50" y2="307.45" stroke="#2a2a2a" stroke-width="1.3" />
<line x1="32.00" y1="306.50" x2="35.20" y2="306.50" stroke="#2a2a2a" stroke-width="1" />
<text x="29.40" y="309.65" font-size="8.0" fill="#141414" stroke="#141414" stroke-width="0.22" text-anchor="end" >0</text>
<line x1="32.00" y1="276.50" x2="35.20" y2="276.50" stroke="#2a2a2a" stroke-width="1" />
<text x="29.40" y="279.05" font-size="8.0" fill="#141414" stroke="#141414" stroke-width="0.22" text-anchor="end" >10</text>
<line x1="32.00" y1="245.50" x2="35.20" y2="245.50" stroke="#2a2a2a" stroke-width="1" />
<text x="29.40" y="248.25" font-size="8.0" fill="#141414" stroke="#141414" stroke-width="0.22" text-anchor="end" >20</text>
<line x1="32.00" y1="214.50" x2="35.20" y2="214.50" stroke="#2a2a2a" stroke-width="1" />
<text x="29.40" y="217.75" font-size="8.0" fill="#141414" stroke="#141414" stroke-width="0.22" text-anchor="end" >30</text>
<line x1="34.55" y1="306.50" x2="162.00" y2="306.50" stroke="#2a2a2a" stroke-width="1.3" />
<line x1="52.50" y1="306.80" x2="52.50" y2="309.60" stroke="#2a2a2a" stroke-width="1" />
<text x="52.20" y="318.50" font-size="7.5" fill="#141414" stroke="#141414" stroke-width="0.22" text-anchor="middle" textLength="27.5" lengthAdjust="spacingAndGlyphs" >E11 WT</text>
<line x1="84.50" y1="306.80" x2="84.50" y2="309.60" stroke="#2a2a2a" stroke-width="1" />
<text x="84.50" y="318.50" font-size="7.5" fill="#141414" stroke="#141414" stroke-width="0.22" text-anchor="middle" textLength="26.8" lengthAdjust="spacingAndGlyphs" >E11 KO</text>
<line x1="116.50" y1="306.80" x2="116.50" y2="309.60" stroke="#2a2a2a" stroke-width="1" />
<text x="116.70" y="318.50" font-size="7.5" fill="#141414" stroke="#141414" stroke-width="0.22" text-anchor="middle" textLength="27.5" lengthAdjust="spacingAndGlyphs" >E12 WT</text>
<line x1="148.50" y1="306.80" x2="148.50" y2="309.60" stroke="#2a2a2a" stroke-width="1" />
<text x="148.70" y="318.50" font-size="7.5" fill="#141414" stroke="#141414" stroke-width="0.22" text-anchor="middle" textLength="26.8" lengthAdjust="spacingAndGlyphs" >E12 KO</text>
<text x="14.60" y="259.00" font-size="9.6" fill="#141414" stroke="#141414" stroke-width="0.22" text-anchor="middle" textLength="19.7" lengthAdjust="spacingAndGlyphs" transform="rotate(-90 14.60 259.00)" >fM/ee</text>
<circle cx="46.70" cy="280.80" r="1.6" fill="#c8102e"/>
<circle cx="57.70" cy="281.40" r="1.6" fill="#c8102e"/>
<circle cx="52.20" cy="284.50" r="1.6" fill="#c8102e"/>
<circle cx="42.60" cy="288.00" r="1.6" fill="#c8102e"/>
<circle cx="46.70" cy="288.80" r="1.6" fill="#c8102e"/>
<circle cx="50.70" cy="290.40" r="1.6" fill="#c8102e"/>
<circle cx="54.40" cy="290.40" r="1.6" fill="#c8102e"/>
<circle cx="58.10" cy="289.20" r="1.6" fill="#c8102e"/>
<circle cx="61.50" cy="288.80" r="1.6" fill="#c8102e"/>
<circle cx="43.30" cy="292.90" r="1.6" fill="#c8102e"/>
<circle cx="47.80" cy="293.60" r="1.6" fill="#c8102e"/>
<circle cx="61.10" cy="293.30" r="1.6" fill="#c8102e"/>
<circle cx="52.20" cy="297.30" r="1.6" fill="#c8102e"/>
<circle cx="56.60" cy="296.30" r="1.6" fill="#c8102e"/>
<rect x="82.95" y="274.75" width="3.1" height="3.1" fill="#0e4d82"/>
<rect x="74.05" y="278.75" width="3.1" height="3.1" fill="#0e4d82"/>
<rect x="78.75" y="279.85" width="3.1" height="3.1" fill="#0e4d82"/>
<rect x="83.25" y="281.25" width="3.1" height="3.1" fill="#0e4d82"/>
<rect x="87.65" y="280.25" width="3.1" height="3.1" fill="#0e4d82"/>
<rect x="94.05" y="279.85" width="3.1" height="3.1" fill="#0e4d82"/>
<rect x="74.35" y="283.55" width="3.1" height="3.1" fill="#0e4d82"/>
<rect x="79.55" y="284.65" width="3.1" height="3.1" fill="#0e4d82"/>
<rect x="83.95" y="283.95" width="3.1" height="3.1" fill="#0e4d82"/>
<rect x="87.65" y="284.95" width="3.1" height="3.1" fill="#0e4d82"/>
<rect x="92.05" y="283.25" width="3.1" height="3.1" fill="#0e4d82"/>
<rect x="77.25" y="288.45" width="3.1" height="3.1" fill="#0e4d82"/>
<rect x="82.95" y="288.45" width="3.1" height="3.1" fill="#0e4d82"/>
<rect x="88.35" y="291.65" width="3.1" height="3.1" fill="#0e4d82"/>
<rect x="82.95" y="293.55" width="3.1" height="3.1" fill="#0e4d82"/>
<path d="M111.40 231.95L113.30 235.37L109.50 235.37Z" fill="#c8102e"/>
<path d="M116.70 229.15L118.60 232.57L114.80 232.57Z" fill="#c8102e"/>
<path d="M122.40 231.95L124.30 235.37L120.50 235.37Z" fill="#c8102e"/>
<path d="M116.70 237.15L118.60 240.57L114.80 240.57Z" fill="#c8102e"/>
<path d="M111.40 248.85L113.30 252.27L109.50 252.27Z" fill="#c8102e"/>
<path d="M122.40 249.45L124.30 252.87L120.50 252.87Z" fill="#c8102e"/>
<path d="M116.70 254.05L118.60 257.47L114.80 257.47Z" fill="#c8102e"/>
<path d="M114.20 259.05L116.10 262.47L112.30 262.47Z" fill="#c8102e"/>
<path d="M119.60 259.85L121.50 263.27L117.70 263.27Z" fill="#c8102e"/>
<path d="M111.40 264.25L113.30 267.67L109.50 267.67Z" fill="#c8102e"/>
<path d="M116.70 265.95L118.60 269.37L114.80 269.37Z" fill="#c8102e"/>
<path d="M122.40 265.65L124.30 269.07L120.50 269.07Z" fill="#c8102e"/>
<path d="M116.70 272.15L118.60 275.57L114.80 275.57Z" fill="#c8102e"/>
<path d="M116.70 282.05L118.60 285.47L114.80 285.47Z" fill="#c8102e"/>
<path d="M151.70 238.45L153.60 235.03L149.80 235.03Z" fill="#0e4d82"/>
<path d="M146.30 242.95L148.20 239.53L144.40 239.53Z" fill="#0e4d82"/>
<path d="M154.50 248.35L156.40 244.93L152.60 244.93Z" fill="#0e4d82"/>
<path d="M143.50 252.95L145.40 249.53L141.60 249.53Z" fill="#0e4d82"/>
<path d="M149.20 253.25L151.10 249.83L147.30 249.83Z" fill="#0e4d82"/>
<path d="M157.10 254.55L159.00 251.13L155.20 251.13Z" fill="#0e4d82"/>
<path d="M140.70 257.35L142.60 253.93L138.80 253.93Z" fill="#0e4d82"/>
<path d="M146.30 259.85L148.20 256.43L144.40 256.43Z" fill="#0e4d82"/>
<path d="M151.70 257.35L153.60 253.93L149.80 253.93Z" fill="#0e4d82"/>
<path d="M146.30 266.05L148.20 262.63L144.40 262.63Z" fill="#0e4d82"/>
<path d="M151.70 268.85L153.60 265.43L149.80 265.43Z" fill="#0e4d82"/>
<path d="M143.50 274.35L145.40 270.93L141.60 270.93Z" fill="#0e4d82"/>
<path d="M148.90 275.95L150.80 272.53L147.00 272.53Z" fill="#0e4d82"/>
<path d="M154.50 275.45L156.40 272.03L152.60 272.03Z" fill="#0e4d82"/>
<line x1="41.00" y1="289.50" x2="63.70" y2="289.50" stroke="#2e2e2e" stroke-width="1.1" />
<line x1="73.00" y1="285.50" x2="96.00" y2="285.50" stroke="#2e2e2e" stroke-width="1.1" />
<line x1="104.00" y1="255.50" x2="127.90" y2="255.50" stroke="#2e2e2e" stroke-width="1.1" />
<line x1="137.40" y1="257.50" x2="160.70" y2="257.50" stroke="#2e2e2e" stroke-width="1.1" />
<path d="M51.8 267 V260.3 H88.5 V267" fill="none" stroke="#333" stroke-width="1"/>
<text x="70.20" y="260.20" font-size="9.5" fill="#141414" stroke="#141414" stroke-width="0.22" text-anchor="middle" >*</text>
<text x="251.90" y="199.00" font-size="9" fill="#141414" stroke="#141414" stroke-width="0.22" textLength="43.7" lengthAdjust="spacingAndGlyphs" >Dopamine</text>
<line x1="210.50" y1="211.00" x2="210.50" y2="307.25" stroke="#2a2a2a" stroke-width="1.3" />
<line x1="207.30" y1="306.50" x2="210.80" y2="306.50" stroke="#2a2a2a" stroke-width="1" />
<text x="205.00" y="309.45" font-size="8.0" fill="#141414" stroke="#141414" stroke-width="0.22" text-anchor="end" >0.0</text>
<line x1="207.30" y1="283.50" x2="210.80" y2="283.50" stroke="#2a2a2a" stroke-width="1" />
<text x="205.00" y="286.55" font-size="8.0" fill="#141414" stroke="#141414" stroke-width="0.22" text-anchor="end" >0.2</text>
<line x1="207.30" y1="260.50" x2="210.80" y2="260.50" stroke="#2a2a2a" stroke-width="1" />
<text x="205.00" y="263.65" font-size="8.0" fill="#141414" stroke="#141414" stroke-width="0.22" text-anchor="end" >0.4</text>
<line x1="207.30" y1="238.50" x2="210.80" y2="238.50" stroke="#2a2a2a" stroke-width="1" />
<text x="205.00" y="240.85" font-size="8.0" fill="#141414" stroke="#141414" stroke-width="0.22" text-anchor="end" >0.6</text>
<line x1="207.30" y1="215.50" x2="210.80" y2="215.50" stroke="#2a2a2a" stroke-width="1" />
<text x="205.00" y="218.05" font-size="8.0" fill="#141414" stroke="#141414" stroke-width="0.22" text-anchor="end" >0.8</text>
<line x1="210.15" y1="306.50" x2="336.50" y2="306.50" stroke="#2a2a2a" stroke-width="1.3" />
<line x1="227.50" y1="306.60" x2="227.50" y2="309.40" stroke="#2a2a2a" stroke-width="1" />
<text x="227.20" y="318.50" font-size="7.5" fill="#141414" stroke="#141414" stroke-width="0.22" text-anchor="middle" textLength="27.5" lengthAdjust="spacingAndGlyphs" >E11 WT</text>
<line x1="259.50" y1="306.60" x2="259.50" y2="309.40" stroke="#2a2a2a" stroke-width="1" />
<text x="259.90" y="318.50" font-size="7.5" fill="#141414" stroke="#141414" stroke-width="0.22" text-anchor="middle" textLength="26.8" lengthAdjust="spacingAndGlyphs" >E11 KO</text>
<line x1="292.50" y1="306.60" x2="292.50" y2="309.40" stroke="#2a2a2a" stroke-width="1" />
<text x="292.20" y="318.50" font-size="7.5" fill="#141414" stroke="#141414" stroke-width="0.22" text-anchor="middle" textLength="27.5" lengthAdjust="spacingAndGlyphs" >E12 WT</text>
<line x1="324.50" y1="306.60" x2="324.50" y2="309.40" stroke="#2a2a2a" stroke-width="1" />
<text x="324.60" y="318.50" font-size="7.5" fill="#141414" stroke="#141414" stroke-width="0.22" text-anchor="middle" textLength="26.8" lengthAdjust="spacingAndGlyphs" >E12 KO</text>
<text x="186.60" y="258.90" font-size="9.6" fill="#141414" stroke="#141414" stroke-width="0.22" text-anchor="middle" textLength="18.8" lengthAdjust="spacingAndGlyphs" transform="rotate(-90 186.60 258.90)" >fM/ee</text>
<circle cx="227.90" cy="292.40" r="1.6" fill="#c8102e"/>
<circle cx="222.20" cy="298.20" r="1.6" fill="#c8102e"/>
<circle cx="227.90" cy="299.10" r="1.6" fill="#c8102e"/>
<circle cx="233.50" cy="296.40" r="1.6" fill="#c8102e"/>
<circle cx="218.50" cy="302.80" r="1.6" fill="#c8102e"/>
<circle cx="222.50" cy="301.80" r="1.6" fill="#c8102e"/>
<circle cx="225.20" cy="303.20" r="1.6" fill="#c8102e"/>
<circle cx="228.60" cy="303.80" r="1.6" fill="#c8102e"/>
<circle cx="231.90" cy="302.50" r="1.6" fill="#c8102e"/>
<circle cx="235.30" cy="303.20" r="1.6" fill="#c8102e"/>
<circle cx="221.20" cy="304.50" r="1.6" fill="#c8102e"/>
<circle cx="226.50" cy="304.90" r="1.6" fill="#c8102e"/>
<circle cx="230.60" cy="304.50" r="1.6" fill="#c8102e"/>
<circle cx="223.80" cy="305.50" r="1.6" fill="#c8102e"/>
<rect x="255.25" y="292.15" width="3.1" height="3.1" fill="#0e4d82"/>
<rect x="267.35" y="290.85" width="3.1" height="3.1" fill="#0e4d82"/>
<rect x="249.85" y="295.85" width="3.1" height="3.1" fill="#0e4d82"/>
<rect x="253.25" y="295.55" width="3.1" height="3.1" fill="#0e4d82"/>
<rect x="256.65" y="294.85" width="3.1" height="3.1" fill="#0e4d82"/>
<rect x="259.95" y="296.25" width="3.1" height="3.1" fill="#0e4d82"/>
<rect x="263.35" y="294.85" width="3.1" height="3.1" fill="#0e4d82"/>
<rect x="266.05" y="294.25" width="3.1" height="3.1" fill="#0e4d82"/>
<rect x="269.45" y="296.25" width="3.1" height="3.1" fill="#0e4d82"/>
<rect x="255.25" y="298.25" width="3.1" height="3.1" fill="#0e4d82"/>
<rect x="259.95" y="298.55" width="3.1" height="3.1" fill="#0e4d82"/>
<rect x="258.65" y="301.65" width="3.1" height="3.1" fill="#0e4d82"/>
<rect x="256.65" y="300.25" width="3.1" height="3.1" fill="#0e4d82"/>
<rect x="262.65" y="298.95" width="3.1" height="3.1" fill="#0e4d82"/>
<path d="M292.20 260.65L294.10 264.07L290.30 264.07Z" fill="#c8102e"/>
<path d="M292.20 268.05L294.10 271.47L290.30 271.47Z" fill="#c8102e"/>
<path d="M286.40 270.55L288.30 273.97L284.50 273.97Z" fill="#c8102e"/>
<path d="M297.90 271.35L299.80 274.77L296.00 274.77Z" fill="#c8102e"/>
<path d="M289.70 276.25L291.60 279.67L287.80 279.67Z" fill="#c8102e"/>
<path d="M292.50 275.15L294.40 278.57L290.60 278.57Z" fill="#c8102e"/>
<path d="M286.40 282.85L288.30 286.27L284.50 286.27Z" fill="#c8102e"/>
<path d="M294.60 281.25L296.50 284.67L292.70 284.67Z" fill="#c8102e"/>
<path d="M297.60 284.95L299.50 288.37L295.70 288.37Z" fill="#c8102e"/>
<path d="M292.50 287.75L294.40 291.17L290.60 291.17Z" fill="#c8102e"/>
<path d="M289.40 293.55L291.30 296.97L287.50 296.97Z" fill="#c8102e"/>
<path d="M294.60 296.85L296.50 300.27L292.70 300.27Z" fill="#c8102e"/>
<path d="M297.90 295.55L299.80 298.97L296.00 298.97Z" fill="#c8102e"/>
<path d="M289.40 300.95L291.30 304.37L287.50 304.37Z" fill="#c8102e"/>
<path d="M324.60 228.25L326.50 224.83L322.70 224.83Z" fill="#0e4d82"/>
<path d="M319.00 272.65L320.90 269.23L317.10 269.23Z" fill="#0e4d82"/>
<path d="M321.80 271.35L323.70 267.93L319.90 267.93Z" fill="#0e4d82"/>
<path d="M327.20 270.55L329.10 267.13L325.30 267.13Z" fill="#0e4d82"/>
<path d="M330.50 272.65L332.40 269.23L328.60 269.23Z" fill="#0e4d82"/>
<path d="M324.60 277.55L326.50 274.13L322.70 274.13Z" fill="#0e4d82"/>
<path d="M319.00 283.15L320.90 279.73L317.10 279.73Z" fill="#0e4d82"/>
<path d="M321.80 281.25L323.70 277.83L319.90 277.83Z" fill="#0e4d82"/>
<path d="M327.20 282.55L329.10 279.13L325.30 279.13Z" fill="#0e4d82"/>
<path d="M332.80 281.25L334.70 277.83L330.90 277.83Z" fill="#0e4d82"/>
<path d="M321.80 288.15L323.70 284.73L319.90 284.73Z" fill="#0e4d82"/>
<path d="M330.00 288.55L331.90 285.13L328.10 285.13Z" fill="#0e4d82"/>
<path d="M327.20 291.05L329.10 287.63L325.30 287.63Z" fill="#0e4d82"/>
<path d="M321.80 294.35L323.70 290.93L319.90 290.93Z" fill="#0e4d82"/>
<line x1="216.40" y1="301.50" x2="239.70" y2="301.50" stroke="#2e2e2e" stroke-width="1.1" />
<line x1="250.00" y1="297.50" x2="271.60" y2="297.50" stroke="#2e2e2e" stroke-width="1.1" />
<line x1="281.20" y1="283.50" x2="304.00" y2="283.50" stroke="#2e2e2e" stroke-width="1.1" />
<line x1="313.00" y1="275.50" x2="336.20" y2="275.50" stroke="#2e2e2e" stroke-width="1.1" />
<path d="M226.3 281.6 V274.6 H263.1 V281.6" fill="none" stroke="#333" stroke-width="1"/>
<text x="245.00" y="274.40" font-size="9.5" fill="#141414" stroke="#141414" stroke-width="0.22" text-anchor="middle" >**</text>
<text x="448.65" y="199.50" font-size="9" fill="#141414" stroke="#141414" stroke-width="0.22" text-anchor="middle" textLength="107.9" lengthAdjust="spacingAndGlyphs" >Inhibition of α adrenergic</text>
<text x="448.70" y="210.80" font-size="9" fill="#141414" stroke="#141414" stroke-width="0.22" text-anchor="middle" textLength="40.4" lengthAdjust="spacingAndGlyphs" >receptors</text>
<line x1="385.50" y1="211.00" x2="385.50" y2="307.25" stroke="#2a2a2a" stroke-width="1.3" />
<line x1="381.50" y1="306.50" x2="385.00" y2="306.50" stroke="#2a2a2a" stroke-width="1" />
<text x="379.20" y="309.45" font-size="8.0" fill="#141414" stroke="#141414" stroke-width="0.22" text-anchor="end" >0</text>
<line x1="381.50" y1="288.50" x2="385.00" y2="288.50" stroke="#2a2a2a" stroke-width="1" />
<text x="379.20" y="291.75" font-size="8.0" fill="#141414" stroke="#141414" stroke-width="0.22" text-anchor="end" >20</text>
<line x1="381.50" y1="271.50" x2="385.00" y2="271.50" stroke="#2a2a2a" stroke-width="1" />
<text x="379.20" y="274.05" font-size="8.0" fill="#141414" stroke="#141414" stroke-width="0.22" text-anchor="end" >40</text>
<line x1="381.50" y1="253.50" x2="385.00" y2="253.50" stroke="#2a2a2a" stroke-width="1" />
<text x="379.20" y="256.25" font-size="8.0" fill="#141414" stroke="#141414" stroke-width="0.22" text-anchor="end" >60</text>
<line x1="381.50" y1="235.50" x2="385.00" y2="235.50" stroke="#2a2a2a" stroke-width="1" />
<text x="379.20" y="238.45" font-size="8.0" fill="#141414" stroke="#141414" stroke-width="0.22" text-anchor="end" >80</text>
<line x1="381.50" y1="217.50" x2="385.00" y2="217.50" stroke="#2a2a2a" stroke-width="1" />
<text x="379.20" y="220.75" font-size="8.0" fill="#141414" stroke="#141414" stroke-width="0.22" text-anchor="end" >100</text>
<line x1="384.35" y1="306.50" x2="513.30" y2="306.50" stroke="#2a2a2a" stroke-width="1.3" />
<line x1="401.50" y1="306.60" x2="401.50" y2="309.40" stroke="#2a2a2a" stroke-width="1" />
<text x="401.90" y="318.30" font-size="7.5" fill="#141414" stroke="#141414" stroke-width="0.22" text-anchor="middle" textLength="27.75" lengthAdjust="spacingAndGlyphs" >E11 WT</text>
<line x1="432.50" y1="306.60" x2="432.50" y2="309.40" stroke="#2a2a2a" stroke-width="1" />
<text x="432.90" y="318.30" font-size="7.5" fill="#141414" stroke="#141414" stroke-width="0.22" text-anchor="middle" textLength="26.75" lengthAdjust="spacingAndGlyphs" >E11 KO</text>
<line x1="466.50" y1="306.60" x2="466.50" y2="309.40" stroke="#2a2a2a" stroke-width="1" />
<text x="466.25" y="318.30" font-size="7.5" fill="#141414" stroke="#141414" stroke-width="0.22" text-anchor="middle" textLength="27.5" lengthAdjust="spacingAndGlyphs" >E12 WT</text>
<line x1="497.50" y1="306.60" x2="497.50" y2="309.40" stroke="#2a2a2a" stroke-width="1" />
<text x="497.50" y="318.30" font-size="7.5" fill="#141414" stroke="#141414" stroke-width="0.22" text-anchor="middle" textLength="27.5" lengthAdjust="spacingAndGlyphs" >E12 KO</text>
<text x="362.00" y="259.40" font-size="9.6" fill="#141414" stroke="#141414" stroke-width="0.22" text-anchor="middle" textLength="72.5" lengthAdjust="spacingAndGlyphs" transform="rotate(-90 362.00 259.40)" >% of donor chimerism</text>
<line x1="385.00" y1="301.50" x2="513.30" y2="301.50" stroke="#2e2e2e" stroke-width="1.1" stroke-dasharray="2.8 2"/>
<circle cx="401.50" cy="272.20" r="1.7" fill="#c8102e"/>
<circle cx="401.50" cy="306.20" r="1.7" fill="#c8102e"/>
<rect x="431.45" y="218.65" width="3.1" height="3.1" fill="#0e4d82"/>
<rect x="431.45" y="247.75" width="3.1" height="3.1" fill="#0e4d82"/>
<rect x="431.45" y="259.05" width="3.1" height="3.1" fill="#0e4d82"/>
<path d="M466.20 231.65L468.10 235.07L464.30 235.07Z" fill="#c8102e"/>
<path d="M466.20 267.95L468.10 271.37L464.30 271.37Z" fill="#c8102e"/>
<path d="M466.20 279.55L468.10 282.97L464.30 282.97Z" fill="#c8102e"/>
<path d="M466.20 294.35L468.10 297.77L464.30 297.77Z" fill="#c8102e"/>
<path d="M466.20 303.95L468.10 307.37L464.30 307.37Z" fill="#c8102e"/>
<path d="M491.70 231.15L493.60 227.73L489.80 227.73Z" fill="#0e4d82"/>
<path d="M497.10 235.15L499.00 231.73L495.20 231.73Z" fill="#0e4d82"/>
<path d="M502.50 231.65L504.40 228.23L500.60 228.23Z" fill="#0e4d82"/>
<path d="M497.10 277.45L499.00 274.03L495.20 274.03Z" fill="#0e4d82"/>
<path d="M497.10 294.45L499.00 291.03L495.20 291.03Z" fill="#0e4d82"/>
<line x1="390.20" y1="288.50" x2="412.80" y2="288.50" stroke="#2e2e2e" stroke-width="1.1" />
<line x1="421.20" y1="243.50" x2="443.80" y2="243.50" stroke="#2e2e2e" stroke-width="1.1" />
<line x1="454.90" y1="277.50" x2="476.90" y2="277.50" stroke="#2e2e2e" stroke-width="1.1" />
<line x1="485.80" y1="252.50" x2="508.70" y2="252.50" stroke="#2e2e2e" stroke-width="1.1" />
<text x="107.10" y="349.00" font-size="9" fill="#141414" stroke="#141414" stroke-width="0.22" text-anchor="middle" textLength="107.8" lengthAdjust="spacingAndGlyphs" >Inhibition of β adrenergic</text>
<text x="107.10" y="360.80" font-size="9" fill="#141414" stroke="#141414" stroke-width="0.22" text-anchor="middle" textLength="40.4" lengthAdjust="spacingAndGlyphs" >receptors</text>
<line x1="35.50" y1="361.00" x2="35.50" y2="453.45" stroke="#2a2a2a" stroke-width="1.3" />
<line x1="31.80" y1="452.50" x2="35.20" y2="452.50" stroke="#2a2a2a" stroke-width="1" />
<text x="29.50" y="455.65" font-size="8.0" fill="#141414" stroke="#141414" stroke-width="0.22" text-anchor="end" >0</text>
<line x1="31.80" y1="435.50" x2="35.20" y2="435.50" stroke="#2a2a2a" stroke-width="1" />
<text x="29.50" y="438.05" font-size="8.0" fill="#141414" stroke="#141414" stroke-width="0.22" text-anchor="end" >20</text>
<line x1="31.80" y1="417.50" x2="35.20" y2="417.50" stroke="#2a2a2a" stroke-width="1" />
<text x="29.50" y="420.45" font-size="8.0" fill="#141414" stroke="#141414" stroke-width="0.22" text-anchor="end" >40</text>
<line x1="31.80" y1="400.50" x2="35.20" y2="400.50" stroke="#2a2a2a" stroke-width="1" />
<text x="29.50" y="402.85" font-size="8.0" fill="#141414" stroke="#141414" stroke-width="0.22" text-anchor="end" >60</text>
<line x1="31.80" y1="382.50" x2="35.20" y2="382.50" stroke="#2a2a2a" stroke-width="1" />
<text x="29.50" y="385.25" font-size="8.0" fill="#141414" stroke="#141414" stroke-width="0.22" text-anchor="end" >80</text>
<line x1="31.80" y1="364.50" x2="35.20" y2="364.50" stroke="#2a2a2a" stroke-width="1" />
<text x="29.50" y="367.55" font-size="8.0" fill="#141414" stroke="#141414" stroke-width="0.22" text-anchor="end" >100</text>
<line x1="34.55" y1="452.50" x2="179.20" y2="452.50" stroke="#2a2a2a" stroke-width="1.3" />
<line x1="54.50" y1="452.80" x2="54.50" y2="455.60" stroke="#2a2a2a" stroke-width="1" />
<text x="54.75" y="465.00" font-size="7.5" fill="#141414" stroke="#141414" stroke-width="0.22" text-anchor="middle" textLength="26.9" lengthAdjust="spacingAndGlyphs" >E11 WT</text>
<line x1="92.50" y1="452.80" x2="92.50" y2="455.60" stroke="#2a2a2a" stroke-width="1" />
<text x="92.00" y="465.00" font-size="7.5" fill="#141414" stroke="#141414" stroke-width="0.22" text-anchor="middle" textLength="27.4" lengthAdjust="spacingAndGlyphs" >E11 KO</text>
<line x1="129.50" y1="452.80" x2="129.50" y2="455.60" stroke="#2a2a2a" stroke-width="1" />
<text x="129.20" y="465.00" font-size="7.5" fill="#141414" stroke="#141414" stroke-width="0.22" text-anchor="middle" textLength="26.8" lengthAdjust="spacingAndGlyphs" >E12 WT</text>
<line x1="166.50" y1="452.80" x2="166.50" y2="455.60" stroke="#2a2a2a" stroke-width="1" />
<text x="166.50" y="465.00" font-size="7.5" fill="#141414" stroke="#141414" stroke-width="0.22" text-anchor="middle" textLength="26.5" lengthAdjust="spacingAndGlyphs" >E12 KO</text>
<text x="14.70" y="407.30" font-size="9.6" fill="#141414" stroke="#141414" stroke-width="0.22" text-anchor="middle" textLength="72" lengthAdjust="spacingAndGlyphs" transform="rotate(-90 14.70 407.30)" >% of donor chimerism</text>
<line x1="35.20" y1="448.50" x2="179.20" y2="448.50" stroke="#2e2e2e" stroke-width="1.1" stroke-dasharray="2.8 2"/>
<circle cx="45.20" cy="452.60" r="1.6" fill="#c8102e"/>
<circle cx="49.80" cy="452.60" r="1.6" fill="#c8102e"/>
<circle cx="54.60" cy="452.60" r="1.6" fill="#c8102e"/>
<circle cx="59.30" cy="452.60" r="1.6" fill="#c8102e"/>
<circle cx="63.60" cy="452.60" r="1.6" fill="#c8102e"/>
<rect x="90.35" y="394.25" width="3.1" height="3.1" fill="#0e4d82"/>
<rect x="87.05" y="451.05" width="3.1" height="3.1" fill="#0e4d82"/>
<rect x="93.45" y="451.05" width="3.1" height="3.1" fill="#0e4d82"/>
<path d="M119.80 450.56L121.50 453.62L118.10 453.62Z" fill="#c8102e"/>
<path d="M122.40 450.56L124.10 453.62L120.70 453.62Z" fill="#c8102e"/>
<path d="M125.00 450.56L126.70 453.62L123.30 453.62Z" fill="#c8102e"/>
<path d="M127.60 450.56L129.30 453.62L125.90 453.62Z" fill="#c8102e"/>
<path d="M130.20 450.56L131.90 453.62L128.50 453.62Z" fill="#c8102e"/>
<path d="M132.80 450.56L134.50 453.62L131.10 453.62Z" fill="#c8102e"/>
<path d="M135.40 450.56L137.10 453.62L133.70 453.62Z" fill="#c8102e"/>
<path d="M138.00 450.56L139.70 453.62L136.30 453.62Z" fill="#c8102e"/>
<path d="M157.50 454.74L159.20 451.68L155.80 451.68Z" fill="#0e4d82"/>
<path d="M160.10 454.74L161.80 451.68L158.40 451.68Z" fill="#0e4d82"/>
<path d="M162.70 454.74L164.40 451.68L161.00 451.68Z" fill="#0e4d82"/>
<path d="M165.30 454.74L167.00 451.68L163.60 451.68Z" fill="#0e4d82"/>
<path d="M167.90 454.74L169.60 451.68L166.20 451.68Z" fill="#0e4d82"/>
<path d="M170.50 454.74L172.20 451.68L168.80 451.68Z" fill="#0e4d82"/>
<path d="M173.10 454.74L174.80 451.68L171.40 451.68Z" fill="#0e4d82"/>
<path d="M175.70 454.74L177.40 451.68L174.00 451.68Z" fill="#0e4d82"/>
<line x1="81.20" y1="434.50" x2="102.70" y2="434.50" stroke="#444" stroke-width="1.1" />
<circle cx="270.70" cy="347.00" r="1.7" fill="#c8102e"/>
<text x="274.70" y="349.70" font-size="7.5" fill="#141414" stroke="#141414" stroke-width="0.06" textLength="26" lengthAdjust="spacingAndGlyphs" >E11 WT</text>
<path d="M311.40 345.25L313.30 348.67L309.50 348.67Z" fill="#c8102e"/>
<text x="315.70" y="349.70" font-size="7.5" fill="#141414" stroke="#141414" stroke-width="0.06" textLength="25.6" lengthAdjust="spacingAndGlyphs" >E12 WT</text>
<line x1="236.50" y1="361.00" x2="236.50" y2="453.35" stroke="#2a2a2a" stroke-width="1.3" />
<line x1="232.90" y1="452.50" x2="236.40" y2="452.50" stroke="#2a2a2a" stroke-width="1" />
<text x="230.60" y="455.55" font-size="8.0" fill="#141414" stroke="#141414" stroke-width="0.22" text-anchor="end" >0</text>
<line x1="232.90" y1="435.50" x2="236.40" y2="435.50" stroke="#2a2a2a" stroke-width="1" />
<text x="230.60" y="438.05" font-size="8.0" fill="#141414" stroke="#141414" stroke-width="0.22" text-anchor="end" >20</text>
<line x1="232.90" y1="417.50" x2="236.40" y2="417.50" stroke="#2a2a2a" stroke-width="1" />
<text x="230.60" y="420.55" font-size="8.0" fill="#141414" stroke="#141414" stroke-width="0.22" text-anchor="end" >40</text>
<line x1="232.90" y1="400.50" x2="236.40" y2="400.50" stroke="#2a2a2a" stroke-width="1" />
<text x="230.60" y="403.05" font-size="8.0" fill="#141414" stroke="#141414" stroke-width="0.22" text-anchor="end" >60</text>
<line x1="232.90" y1="382.50" x2="236.40" y2="382.50" stroke="#2a2a2a" stroke-width="1" />
<text x="230.60" y="385.45" font-size="8.0" fill="#141414" stroke="#141414" stroke-width="0.22" text-anchor="end" >80</text>
<line x1="232.90" y1="365.50" x2="236.40" y2="365.50" stroke="#2a2a2a" stroke-width="1" />
<text x="230.60" y="367.95" font-size="8.0" fill="#141414" stroke="#141414" stroke-width="0.22" text-anchor="end" >100</text>
<line x1="235.75" y1="452.50" x2="375.00" y2="452.50" stroke="#2a2a2a" stroke-width="1.3" />
<line x1="261.50" y1="452.70" x2="261.50" y2="455.50" stroke="#2a2a2a" stroke-width="1" />
<text x="261.20" y="464.80" font-size="7.5" fill="#141414" stroke="#141414" stroke-width="0.22" text-anchor="middle" textLength="21.6" lengthAdjust="spacingAndGlyphs" >Adrb1</text>
<line x1="308.50" y1="452.70" x2="308.50" y2="455.50" stroke="#2a2a2a" stroke-width="1" />
<text x="308.90" y="464.80" font-size="7.5" fill="#141414" stroke="#141414" stroke-width="0.22" text-anchor="middle" textLength="22.3" lengthAdjust="spacingAndGlyphs" >Adrb2</text>
<line x1="357.50" y1="452.70" x2="357.50" y2="455.50" stroke="#2a2a2a" stroke-width="1" />
<text x="357.70" y="464.80" font-size="7.5" fill="#141414" stroke="#141414" stroke-width="0.22" text-anchor="middle" textLength="22.1" lengthAdjust="spacingAndGlyphs" >Adrb3</text>
<text x="213.30" y="407.00" font-size="9.6" fill="#141414" stroke="#141414" stroke-width="0.22" text-anchor="middle" textLength="72.7" lengthAdjust="spacingAndGlyphs" transform="rotate(-90 213.30 407.00)" >% of donor chimerism</text>
<line x1="236.40" y1="448.50" x2="375.00" y2="448.50" stroke="#2e2e2e" stroke-width="1.1" stroke-dasharray="2.8 2"/>
<circle cx="252.90" cy="379.10" r="1.7" fill="#c8102e"/>
<circle cx="252.90" cy="391.90" r="1.7" fill="#c8102e"/>
<circle cx="252.60" cy="434.90" r="1.7" fill="#c8102e"/>
<circle cx="250.50" cy="452.60" r="1.7" fill="#c8102e"/>
<circle cx="253.00" cy="452.60" r="1.7" fill="#c8102e"/>
<circle cx="255.40" cy="450.40" r="1.7" fill="#c8102e"/>
<circle cx="301.10" cy="416.20" r="1.7" fill="#c8102e"/>
<circle cx="298.00" cy="452.60" r="1.7" fill="#c8102e"/>
<circle cx="300.50" cy="452.60" r="1.7" fill="#c8102e"/>
<circle cx="303.00" cy="452.60" r="1.7" fill="#c8102e"/>
<circle cx="305.00" cy="452.60" r="1.7" fill="#c8102e"/>
<circle cx="349.20" cy="406.20" r="1.7" fill="#c8102e"/>
<circle cx="349.20" cy="447.00" r="1.7" fill="#c8102e"/>
<circle cx="346.00" cy="452.60" r="1.7" fill="#c8102e"/>
<circle cx="348.50" cy="452.60" r="1.7" fill="#c8102e"/>
<circle cx="351.00" cy="452.60" r="1.7" fill="#c8102e"/>
<circle cx="353.50" cy="452.60" r="1.7" fill="#c8102e"/>
<path d="M269.60 368.95L271.50 372.37L267.70 372.37Z" fill="#c8102e"/>
<path d="M266.50 392.25L268.40 395.67L264.60 395.67Z" fill="#c8102e"/>
<path d="M269.70 394.15L271.60 397.57L267.80 397.57Z" fill="#c8102e"/>
<path d="M272.70 391.75L274.60 395.17L270.80 395.17Z" fill="#c8102e"/>
<path d="M269.70 402.85L271.60 406.27L267.80 406.27Z" fill="#c8102e"/>
<path d="M269.70 424.75L271.60 428.17L267.80 428.17Z" fill="#c8102e"/>
<path d="M266.90 450.35L268.80 453.77L265.00 453.77Z" fill="#c8102e"/>
<path d="M272.20 447.65L274.10 451.07L270.30 451.07Z" fill="#c8102e"/>
<path d="M313.50 450.35L315.40 453.77L311.60 453.77Z" fill="#c8102e"/>
<path d="M316.00 450.35L317.90 453.77L314.10 453.77Z" fill="#c8102e"/>
<path d="M318.50 450.35L320.40 453.77L316.60 453.77Z" fill="#c8102e"/>
<path d="M321.00 450.35L322.90 453.77L319.10 453.77Z" fill="#c8102e"/>
<path d="M365.80 385.15L367.70 388.57L363.90 388.57Z" fill="#c8102e"/>
<path d="M365.80 412.85L367.70 416.27L363.90 416.27Z" fill="#c8102e"/>
<path d="M368.50 445.15L370.40 448.57L366.60 448.57Z" fill="#c8102e"/>
<path d="M363.50 449.15L365.40 452.57L361.60 452.57Z" fill="#c8102e"/>
<line x1="247.50" y1="430.50" x2="258.60" y2="430.50" stroke="#2e2e2e" stroke-width="1.1" />
<line x1="264.20" y1="411.50" x2="275.00" y2="411.50" stroke="#2e2e2e" stroke-width="1.1" />
<line x1="296.50" y1="448.50" x2="306.20" y2="448.50" stroke="#2e2e2e" stroke-width="1.1" />
<line x1="345.00" y1="448.50" x2="355.40" y2="448.50" stroke="#2e2e2e" stroke-width="1.1" />
<line x1="360.50" y1="424.50" x2="371.10" y2="424.50" stroke="#2e2e2e" stroke-width="1.1" />
<text x="468.00" y="349.60" font-size="9" fill="#141414" stroke="#141414" stroke-width="0.22" text-anchor="middle" textLength="23" lengthAdjust="spacingAndGlyphs" >Adrb2</text>
<line x1="430.50" y1="361.20" x2="430.50" y2="453.65" stroke="#2a2a2a" stroke-width="1.3" />
<line x1="427.00" y1="453.50" x2="430.50" y2="453.50" stroke="#2a2a2a" stroke-width="1" />
<text x="424.70" y="455.85" font-size="8.0" fill="#141414" stroke="#141414" stroke-width="0.22" text-anchor="end" >0</text>
<line x1="427.00" y1="435.50" x2="430.50" y2="435.50" stroke="#2a2a2a" stroke-width="1" />
<text x="424.70" y="438.25" font-size="8.0" fill="#141414" stroke="#141414" stroke-width="0.22" text-anchor="end" >20</text>
<line x1="427.00" y1="417.50" x2="430.50" y2="417.50" stroke="#2a2a2a" stroke-width="1" />
<text x="424.70" y="420.65" font-size="8.0" fill="#141414" stroke="#141414" stroke-width="0.22" text-anchor="end" >40</text>
<line x1="427.00" y1="400.50" x2="430.50" y2="400.50" stroke="#2a2a2a" stroke-width="1" />
<text x="424.70" y="403.05" font-size="8.0" fill="#141414" stroke="#141414" stroke-width="0.22" text-anchor="end" >60</text>
<line x1="427.00" y1="382.50" x2="430.50" y2="382.50" stroke="#2a2a2a" stroke-width="1" />
<text x="424.70" y="385.45" font-size="8.0" fill="#141414" stroke="#141414" stroke-width="0.22" text-anchor="end" >80</text>
<line x1="427.00" y1="365.50" x2="430.50" y2="365.50" stroke="#2a2a2a" stroke-width="1" />
<text x="424.70" y="367.85" font-size="8.0" fill="#141414" stroke="#141414" stroke-width="0.22" text-anchor="end" >100</text>
<line x1="429.85" y1="453.50" x2="511.80" y2="453.50" stroke="#2a2a2a" stroke-width="1.3" />
<line x1="448.50" y1="453.00" x2="448.50" y2="455.80" stroke="#2a2a2a" stroke-width="1" />
<line x1="498.50" y1="453.00" x2="498.50" y2="455.80" stroke="#2a2a2a" stroke-width="1" />
<text x="450.85" y="464.90" font-size="7.5" fill="#141414" stroke="#141414" stroke-width="0.22" text-anchor="middle" textLength="26.9" lengthAdjust="spacingAndGlyphs" >E11 KO</text>
<text x="499.35" y="464.90" font-size="7.5" fill="#141414" stroke="#141414" stroke-width="0.22" text-anchor="middle" textLength="26.9" lengthAdjust="spacingAndGlyphs" >E12 KO</text>
<text x="407.50" y="407.50" font-size="9.6" fill="#141414" stroke="#141414" stroke-width="0.22" text-anchor="middle" textLength="72.5" lengthAdjust="spacingAndGlyphs" transform="rotate(-90 407.50 407.50)" >% of donor chimerism</text>
<line x1="430.00" y1="448.50" x2="512.50" y2="448.50" stroke="#2e2e2e" stroke-width="1.1" stroke-dasharray="2.8 2"/>
<rect x="447.20" y="380.95" width="3.1" height="3.1" fill="#0e4d82"/>
<rect x="447.20" y="423.95" width="3.1" height="3.1" fill="#0e4d82"/>
<rect x="447.20" y="443.95" width="3.1" height="3.1" fill="#0e4d82"/>
<rect x="441.75" y="451.15" width="3.1" height="3.1" fill="#0e4d82"/>
<rect x="447.20" y="451.15" width="3.1" height="3.1" fill="#0e4d82"/>
<rect x="452.75" y="451.15" width="3.1" height="3.1" fill="#0e4d82"/>
<path d="M486.50 454.74L488.20 451.68L484.80 451.68Z" fill="#0e4d82"/>
<path d="M489.30 454.74L491.00 451.68L487.60 451.68Z" fill="#0e4d82"/>
<path d="M492.10 454.74L493.80 451.68L490.40 451.68Z" fill="#0e4d82"/>
<path d="M494.90 454.74L496.60 451.68L493.20 451.68Z" fill="#0e4d82"/>
<path d="M497.70 454.74L499.40 451.68L496.00 451.68Z" fill="#0e4d82"/>
<path d="M500.50 454.74L502.20 451.68L498.80 451.68Z" fill="#0e4d82"/>
<path d="M497.00 450.14L498.70 447.08L495.30 447.08Z" fill="#0e4d82"/>
<line x1="439.30" y1="435.50" x2="458.00" y2="435.50" stroke="#2e2e2e" stroke-width="1.1" />
<line x1="23.50" y1="496.30" x2="23.50" y2="587.80" stroke="#111" stroke-width="1.5" />
<line x1="22.55" y1="587.50" x2="110.00" y2="587.50" stroke="#111" stroke-width="1.6" />
<line x1="21.80" y1="586.50" x2="23.30" y2="586.50" stroke="#222" stroke-width="0.8" />
<line x1="21.80" y1="582.50" x2="23.30" y2="582.50" stroke="#222" stroke-width="0.8" />
<line x1="21.80" y1="580.50" x2="23.30" y2="580.50" stroke="#222" stroke-width="0.8" />
<line x1="21.80" y1="577.50" x2="23.30" y2="577.50" stroke="#222" stroke-width="0.8" />
<line x1="21.80" y1="576.50" x2="23.30" y2="576.50" stroke="#222" stroke-width="0.8" />
<line x1="21.80" y1="574.50" x2="23.30" y2="574.50" stroke="#222" stroke-width="0.8" />
<line x1="21.80" y1="573.50" x2="23.30" y2="573.50" stroke="#222" stroke-width="0.8" />
<line x1="21.80" y1="572.50" x2="23.30" y2="572.50" stroke="#222" stroke-width="0.8" />
<line x1="20.70" y1="571.50" x2="23.30" y2="571.50" stroke="#222" stroke-width="0.8" />
<line x1="21.80" y1="564.50" x2="23.30" y2="564.50" stroke="#222" stroke-width="0.8" />
<line x1="21.80" y1="560.50" x2="23.30" y2="560.50" stroke="#222" stroke-width="0.8" />
<line x1="21.80" y1="557.50" x2="23.30" y2="557.50" stroke="#222" stroke-width="0.8" />
<line x1="21.80" y1="555.50" x2="23.30" y2="555.50" stroke="#222" stroke-width="0.8" />
<line x1="21.80" y1="553.50" x2="23.30" y2="553.50" stroke="#222" stroke-width="0.8" />
<line x1="21.80" y1="551.50" x2="23.30" y2="551.50" stroke="#222" stroke-width="0.8" />
<line x1="21.80" y1="550.50" x2="23.30" y2="550.50" stroke="#222" stroke-width="0.8" />
<line x1="21.80" y1="549.50" x2="23.30" y2="549.50" stroke="#222" stroke-width="0.8" />
<line x1="20.70" y1="548.50" x2="23.30" y2="548.50" stroke="#222" stroke-width="0.8" />
<line x1="21.80" y1="541.50" x2="23.30" y2="541.50" stroke="#222" stroke-width="0.8" />
<line x1="21.80" y1="537.50" x2="23.30" y2="537.50" stroke="#222" stroke-width="0.8" />
<line x1="21.80" y1="534.50" x2="23.30" y2="534.50" stroke="#222" stroke-width="0.8" />
<line x1="21.80" y1="532.50" x2="23.30" y2="532.50" stroke="#222" stroke-width="0.8" />
<line x1="21.80" y1="530.50" x2="23.30" y2="530.50" stroke="#222" stroke-width="0.8" />
<line x1="21.80" y1="529.50" x2="23.30" y2="529.50" stroke="#222" stroke-width="0.8" />
<line x1="21.80" y1="527.50" x2="23.30" y2="527.50" stroke="#222" stroke-width="0.8" />
<line x1="21.80" y1="526.50" x2="23.30" y2="526.50" stroke="#222" stroke-width="0.8" />
<line x1="20.70" y1="525.50" x2="23.30" y2="525.50" stroke="#222" stroke-width="0.8" />
<line x1="21.80" y1="518.50" x2="23.30" y2="518.50" stroke="#222" stroke-width="0.8" />
<line x1="21.80" y1="514.50" x2="23.30" y2="514.50" stroke="#222" stroke-width="0.8" />
<line x1="21.80" y1="512.50" x2="23.30" y2="512.50" stroke="#222" stroke-width="0.8" />
<line x1="21.80" y1="509.50" x2="23.30" y2="509.50" stroke="#222" stroke-width="0.8" />
<line x1="21.80" y1="508.50" x2="23.30" y2="508.50" stroke="#222" stroke-width="0.8" />
<line x1="21.80" y1="506.50" x2="23.30" y2="506.50" stroke="#222" stroke-width="0.8" />
<line x1="21.80" y1="505.50" x2="23.30" y2="505.50" stroke="#222" stroke-width="0.8" />
<line x1="21.80" y1="504.50" x2="23.30" y2="504.50" stroke="#222" stroke-width="0.8" />
<line x1="20.70" y1="503.50" x2="23.30" y2="503.50" stroke="#222" stroke-width="0.8" />
<line x1="23.50" y1="587.00" x2="23.50" y2="588.60" stroke="#222" stroke-width="0.8" />
<line x1="27.50" y1="587.00" x2="27.50" y2="588.60" stroke="#222" stroke-width="0.8" />
<line x1="29.50" y1="587.00" x2="29.50" y2="588.60" stroke="#222" stroke-width="0.8" />
<line x1="31.50" y1="587.00" x2="31.50" y2="588.60" stroke="#222" stroke-width="0.8" />
<line x1="33.50" y1="587.00" x2="33.50" y2="588.60" stroke="#222" stroke-width="0.8" />
<line x1="35.50" y1="587.00" x2="35.50" y2="588.60" stroke="#222" stroke-width="0.8" />
<line x1="36.50" y1="587.00" x2="36.50" y2="588.60" stroke="#222" stroke-width="0.8" />
<line x1="37.50" y1="587.00" x2="37.50" y2="588.60" stroke="#222" stroke-width="0.8" />
<line x1="38.50" y1="587.00" x2="38.50" y2="589.60" stroke="#222" stroke-width="0.8" />
<line x1="44.50" y1="587.00" x2="44.50" y2="588.60" stroke="#222" stroke-width="0.8" />
<line x1="48.50" y1="587.00" x2="48.50" y2="588.60" stroke="#222" stroke-width="0.8" />
<line x1="51.50" y1="587.00" x2="51.50" y2="588.60" stroke="#222" stroke-width="0.8" />
<line x1="53.50" y1="587.00" x2="53.50" y2="588.60" stroke="#222" stroke-width="0.8" />
<line x1="55.50" y1="587.00" x2="55.50" y2="588.60" stroke="#222" stroke-width="0.8" />
<line x1="56.50" y1="587.00" x2="56.50" y2="588.60" stroke="#222" stroke-width="0.8" />
<line x1="58.50" y1="587.00" x2="58.50" y2="588.60" stroke="#222" stroke-width="0.8" />
<line x1="59.50" y1="587.00" x2="59.50" y2="588.60" stroke="#222" stroke-width="0.8" />
<line x1="60.50" y1="587.00" x2="60.50" y2="589.60" stroke="#222" stroke-width="0.8" />
<line x1="66.50" y1="587.00" x2="66.50" y2="588.60" stroke="#222" stroke-width="0.8" />
<line x1="70.50" y1="587.00" x2="70.50" y2="588.60" stroke="#222" stroke-width="0.8" />
<line x1="73.50" y1="587.00" x2="73.50" y2="588.60" stroke="#222" stroke-width="0.8" />
<line x1="75.50" y1="587.00" x2="75.50" y2="588.60" stroke="#222" stroke-width="0.8" />
<line x1="77.50" y1="587.00" x2="77.50" y2="588.60" stroke="#222" stroke-width="0.8" />
<line x1="78.50" y1="587.00" x2="78.50" y2="588.60" stroke="#222" stroke-width="0.8" />
<line x1="79.50" y1="587.00" x2="79.50" y2="588.60" stroke="#222" stroke-width="0.8" />
<line x1="80.50" y1="587.00" x2="80.50" y2="588.60" stroke="#222" stroke-width="0.8" />
<line x1="81.50" y1="587.00" x2="81.50" y2="589.60" stroke="#222" stroke-width="0.8" />
<line x1="88.50" y1="587.00" x2="88.50" y2="588.60" stroke="#222" stroke-width="0.8" />
<line x1="92.50" y1="587.00" x2="92.50" y2="588.60" stroke="#222" stroke-width="0.8" />
<line x1="94.50" y1="587.00" x2="94.50" y2="588.60" stroke="#222" stroke-width="0.8" />
<line x1="96.50" y1="587.00" x2="96.50" y2="588.60" stroke="#222" stroke-width="0.8" />
<line x1="98.50" y1="587.00" x2="98.50" y2="588.60" stroke="#222" stroke-width="0.8" />
<line x1="100.50" y1="587.00" x2="100.50" y2="588.60" stroke="#222" stroke-width="0.8" />
<line x1="101.50" y1="587.00" x2="101.50" y2="588.60" stroke="#222" stroke-width="0.8" />
<line x1="102.50" y1="587.00" x2="102.50" y2="588.60" stroke="#222" stroke-width="0.8" />
<line x1="103.50" y1="587.00" x2="103.50" y2="589.60" stroke="#222" stroke-width="0.8" />
<line x1="130.50" y1="496.30" x2="130.50" y2="587.20" stroke="#111" stroke-width="1.5" />
<line x1="129.25" y1="586.50" x2="216.30" y2="586.50" stroke="#111" stroke-width="1.6" />
<line x1="128.50" y1="586.50" x2="130.00" y2="586.50" stroke="#222" stroke-width="0.8" />
<line x1="128.50" y1="582.50" x2="130.00" y2="582.50" stroke="#222" stroke-width="0.8" />
<line x1="128.50" y1="579.50" x2="130.00" y2="579.50" stroke="#222" stroke-width="0.8" />
<line x1="128.50" y1="577.50" x2="130.00" y2="577.50" stroke="#222" stroke-width="0.8" />
<line x1="128.50" y1="575.50" x2="130.00" y2="575.50" stroke="#222" stroke-width="0.8" />
<line x1="128.50" y1="574.50" x2="130.00" y2="574.50" stroke="#222" stroke-width="0.8" />
<line x1="128.50" y1="572.50" x2="130.00" y2="572.50" stroke="#222" stroke-width="0.8" />
<line x1="128.50" y1="571.50" x2="130.00" y2="571.50" stroke="#222" stroke-width="0.8" />
<line x1="127.40" y1="570.50" x2="130.00" y2="570.50" stroke="#222" stroke-width="0.8" />
<line x1="128.50" y1="563.50" x2="130.00" y2="563.50" stroke="#222" stroke-width="0.8" />
<line x1="128.50" y1="559.50" x2="130.00" y2="559.50" stroke="#222" stroke-width="0.8" />
<line x1="128.50" y1="557.50" x2="130.00" y2="557.50" stroke="#222" stroke-width="0.8" />
<line x1="128.50" y1="554.50" x2="130.00" y2="554.50" stroke="#222" stroke-width="0.8" />
<line x1="128.50" y1="553.50" x2="130.00" y2="553.50" stroke="#222" stroke-width="0.8" />
<line x1="128.50" y1="551.50" x2="130.00" y2="551.50" stroke="#222" stroke-width="0.8" />
<line x1="128.50" y1="550.50" x2="130.00" y2="550.50" stroke="#222" stroke-width="0.8" />
<line x1="128.50" y1="549.50" x2="130.00" y2="549.50" stroke="#222" stroke-width="0.8" />
<line x1="127.40" y1="548.50" x2="130.00" y2="548.50" stroke="#222" stroke-width="0.8" />
<line x1="128.50" y1="541.50" x2="130.00" y2="541.50" stroke="#222" stroke-width="0.8" />
<line x1="128.50" y1="537.50" x2="130.00" y2="537.50" stroke="#222" stroke-width="0.8" />
<line x1="128.50" y1="534.50" x2="130.00" y2="534.50" stroke="#222" stroke-width="0.8" />
<line x1="128.50" y1="532.50" x2="130.00" y2="532.50" stroke="#222" stroke-width="0.8" />
<line x1="128.50" y1="530.50" x2="130.00" y2="530.50" stroke="#222" stroke-width="0.8" />
<line x1="128.50" y1="529.50" x2="130.00" y2="529.50" stroke="#222" stroke-width="0.8" />
<line x1="128.50" y1="527.50" x2="130.00" y2="527.50" stroke="#222" stroke-width="0.8" />
<line x1="128.50" y1="526.50" x2="130.00" y2="526.50" stroke="#222" stroke-width="0.8" />
<line x1="127.40" y1="525.50" x2="130.00" y2="525.50" stroke="#222" stroke-width="0.8" />
<line x1="128.50" y1="518.50" x2="130.00" y2="518.50" stroke="#222" stroke-width="0.8" />
<line x1="128.50" y1="514.50" x2="130.00" y2="514.50" stroke="#222" stroke-width="0.8" />
<line x1="128.50" y1="512.50" x2="130.00" y2="512.50" stroke="#222" stroke-width="0.8" />
<line x1="128.50" y1="509.50" x2="130.00" y2="509.50" stroke="#222" stroke-width="0.8" />
<line x1="128.50" y1="508.50" x2="130.00" y2="508.50" stroke="#222" stroke-width="0.8" />
<line x1="128.50" y1="506.50" x2="130.00" y2="506.50" stroke="#222" stroke-width="0.8" />
<line x1="128.50" y1="505.50" x2="130.00" y2="505.50" stroke="#222" stroke-width="0.8" />
<line x1="128.50" y1="504.50" x2="130.00" y2="504.50" stroke="#222" stroke-width="0.8" />
<line x1="127.40" y1="503.50" x2="130.00" y2="503.50" stroke="#222" stroke-width="0.8" />
<line x1="130.50" y1="586.40" x2="130.50" y2="588.00" stroke="#222" stroke-width="0.8" />
<line x1="133.50" y1="586.40" x2="133.50" y2="588.00" stroke="#222" stroke-width="0.8" />
<line x1="136.50" y1="586.40" x2="136.50" y2="588.00" stroke="#222" stroke-width="0.8" />
<line x1="138.50" y1="586.40" x2="138.50" y2="588.00" stroke="#222" stroke-width="0.8" />
<line x1="140.50" y1="586.40" x2="140.50" y2="588.00" stroke="#222" stroke-width="0.8" />
<line x1="141.50" y1="586.40" x2="141.50" y2="588.00" stroke="#222" stroke-width="0.8" />
<line x1="143.50" y1="586.40" x2="143.50" y2="588.00" stroke="#222" stroke-width="0.8" />
<line x1="144.50" y1="586.40" x2="144.50" y2="588.00" stroke="#222" stroke-width="0.8" />
<line x1="145.50" y1="586.40" x2="145.50" y2="589.00" stroke="#222" stroke-width="0.8" />
<line x1="151.50" y1="586.40" x2="151.50" y2="588.00" stroke="#222" stroke-width="0.8" />
<line x1="155.50" y1="586.40" x2="155.50" y2="588.00" stroke="#222" stroke-width="0.8" />
<line x1="158.50" y1="586.40" x2="158.50" y2="588.00" stroke="#222" stroke-width="0.8" />
<line x1="160.50" y1="586.40" x2="160.50" y2="588.00" stroke="#222" stroke-width="0.8" />
<line x1="161.50" y1="586.40" x2="161.50" y2="588.00" stroke="#222" stroke-width="0.8" />
<line x1="163.50" y1="586.40" x2="163.50" y2="588.00" stroke="#222" stroke-width="0.8" />
<line x1="164.50" y1="586.40" x2="164.50" y2="588.00" stroke="#222" stroke-width="0.8" />
<line x1="165.50" y1="586.40" x2="165.50" y2="588.00" stroke="#222" stroke-width="0.8" />
<line x1="166.50" y1="586.40" x2="166.50" y2="589.00" stroke="#222" stroke-width="0.8" />
<line x1="173.50" y1="586.40" x2="173.50" y2="588.00" stroke="#222" stroke-width="0.8" />
<line x1="176.50" y1="586.40" x2="176.50" y2="588.00" stroke="#222" stroke-width="0.8" />
<line x1="179.50" y1="586.40" x2="179.50" y2="588.00" stroke="#222" stroke-width="0.8" />
<line x1="181.50" y1="586.40" x2="181.50" y2="588.00" stroke="#222" stroke-width="0.8" />
<line x1="183.50" y1="586.40" x2="183.50" y2="588.00" stroke="#222" stroke-width="0.8" />
<line x1="184.50" y1="586.40" x2="184.50" y2="588.00" stroke="#222" stroke-width="0.8" />
<line x1="186.50" y1="586.40" x2="186.50" y2="588.00" stroke="#222" stroke-width="0.8" />
<line x1="187.50" y1="586.40" x2="187.50" y2="588.00" stroke="#222" stroke-width="0.8" />
<line x1="188.50" y1="586.40" x2="188.50" y2="589.00" stroke="#222" stroke-width="0.8" />
<line x1="194.50" y1="586.40" x2="194.50" y2="588.00" stroke="#222" stroke-width="0.8" />
<line x1="198.50" y1="586.40" x2="198.50" y2="588.00" stroke="#222" stroke-width="0.8" />
<line x1="201.50" y1="586.40" x2="201.50" y2="588.00" stroke="#222" stroke-width="0.8" />
<line x1="203.50" y1="586.40" x2="203.50" y2="588.00" stroke="#222" stroke-width="0.8" />
<line x1="205.50" y1="586.40" x2="205.50" y2="588.00" stroke="#222" stroke-width="0.8" />
<line x1="206.50" y1="586.40" x2="206.50" y2="588.00" stroke="#222" stroke-width="0.8" />
<line x1="207.50" y1="586.40" x2="207.50" y2="588.00" stroke="#222" stroke-width="0.8" />
<line x1="208.50" y1="586.40" x2="208.50" y2="588.00" stroke="#222" stroke-width="0.8" />
<line x1="209.50" y1="586.40" x2="209.50" y2="589.00" stroke="#222" stroke-width="0.8" />
<line x1="241.50" y1="496.30" x2="241.50" y2="587.60" stroke="#111" stroke-width="1.5" />
<line x1="240.85" y1="586.50" x2="315.50" y2="586.50" stroke="#111" stroke-width="1.6" />
<line x1="239.00" y1="586.50" x2="241.60" y2="586.50" stroke="#222" stroke-width="0.8" />
<line x1="240.00" y1="581.50" x2="241.60" y2="581.50" stroke="#222" stroke-width="0.8" />
<line x1="240.00" y1="575.50" x2="241.60" y2="575.50" stroke="#222" stroke-width="0.8" />
<line x1="240.00" y1="569.50" x2="241.60" y2="569.50" stroke="#222" stroke-width="0.8" />
<line x1="239.00" y1="564.50" x2="241.60" y2="564.50" stroke="#222" stroke-width="0.8" />
<line x1="240.00" y1="558.50" x2="241.60" y2="558.50" stroke="#222" stroke-width="0.8" />
<line x1="240.00" y1="552.50" x2="241.60" y2="552.50" stroke="#222" stroke-width="0.8" />
<line x1="240.00" y1="547.50" x2="241.60" y2="547.50" stroke="#222" stroke-width="0.8" />
<line x1="239.00" y1="541.50" x2="241.60" y2="541.50" stroke="#222" stroke-width="0.8" />
<line x1="240.00" y1="535.50" x2="241.60" y2="535.50" stroke="#222" stroke-width="0.8" />
<line x1="240.00" y1="530.50" x2="241.60" y2="530.50" stroke="#222" stroke-width="0.8" />
<line x1="240.00" y1="524.50" x2="241.60" y2="524.50" stroke="#222" stroke-width="0.8" />
<line x1="239.00" y1="518.50" x2="241.60" y2="518.50" stroke="#222" stroke-width="0.8" />
<line x1="240.00" y1="513.50" x2="241.60" y2="513.50" stroke="#222" stroke-width="0.8" />
<line x1="240.00" y1="507.50" x2="241.60" y2="507.50" stroke="#222" stroke-width="0.8" />
<line x1="240.00" y1="501.50" x2="241.60" y2="501.50" stroke="#222" stroke-width="0.8" />
<line x1="239.00" y1="496.50" x2="241.60" y2="496.50" stroke="#222" stroke-width="0.8" />
<line x1="241.50" y1="586.80" x2="241.50" y2="588.40" stroke="#222" stroke-width="0.8" />
<line x1="244.50" y1="586.80" x2="244.50" y2="588.40" stroke="#222" stroke-width="0.8" />
<line x1="247.50" y1="586.80" x2="247.50" y2="588.40" stroke="#222" stroke-width="0.8" />
<line x1="248.50" y1="586.80" x2="248.50" y2="588.40" stroke="#222" stroke-width="0.8" />
<line x1="250.50" y1="586.80" x2="250.50" y2="588.40" stroke="#222" stroke-width="0.8" />
<line x1="251.50" y1="586.80" x2="251.50" y2="588.40" stroke="#222" stroke-width="0.8" />
<line x1="252.50" y1="586.80" x2="252.50" y2="588.40" stroke="#222" stroke-width="0.8" />
<line x1="253.50" y1="586.80" x2="253.50" y2="588.40" stroke="#222" stroke-width="0.8" />
<line x1="254.50" y1="586.80" x2="254.50" y2="589.40" stroke="#222" stroke-width="0.8" />
<line x1="260.50" y1="586.80" x2="260.50" y2="588.40" stroke="#222" stroke-width="0.8" />
<line x1="263.50" y1="586.80" x2="263.50" y2="588.40" stroke="#222" stroke-width="0.8" />
<line x1="265.50" y1="586.80" x2="265.50" y2="588.40" stroke="#222" stroke-width="0.8" />
<line x1="267.50" y1="586.80" x2="267.50" y2="588.40" stroke="#222" stroke-width="0.8" />
<line x1="268.50" y1="586.80" x2="268.50" y2="588.40" stroke="#222" stroke-width="0.8" />
<line x1="270.50" y1="586.80" x2="270.50" y2="588.40" stroke="#222" stroke-width="0.8" />
<line x1="271.50" y1="586.80" x2="271.50" y2="588.40" stroke="#222" stroke-width="0.8" />
<line x1="272.50" y1="586.80" x2="272.50" y2="588.40" stroke="#222" stroke-width="0.8" />
<line x1="273.50" y1="586.80" x2="273.50" y2="589.40" stroke="#222" stroke-width="0.8" />
<line x1="278.50" y1="586.80" x2="278.50" y2="588.40" stroke="#222" stroke-width="0.8" />
<line x1="281.50" y1="586.80" x2="281.50" y2="588.40" stroke="#222" stroke-width="0.8" />
<line x1="284.50" y1="586.80" x2="284.50" y2="588.40" stroke="#222" stroke-width="0.8" />
<line x1="285.50" y1="586.80" x2="285.50" y2="588.40" stroke="#222" stroke-width="0.8" />
<line x1="287.50" y1="586.80" x2="287.50" y2="588.40" stroke="#222" stroke-width="0.8" />
<line x1="288.50" y1="586.80" x2="288.50" y2="588.40" stroke="#222" stroke-width="0.8" />
<line x1="289.50" y1="586.80" x2="289.50" y2="588.40" stroke="#222" stroke-width="0.8" />
<line x1="290.50" y1="586.80" x2="290.50" y2="588.40" stroke="#222" stroke-width="0.8" />
<line x1="291.50" y1="586.80" x2="291.50" y2="589.40" stroke="#222" stroke-width="0.8" />
<line x1="297.50" y1="586.80" x2="297.50" y2="588.40" stroke="#222" stroke-width="0.8" />
<line x1="300.50" y1="586.80" x2="300.50" y2="588.40" stroke="#222" stroke-width="0.8" />
<line x1="302.50" y1="586.80" x2="302.50" y2="588.40" stroke="#222" stroke-width="0.8" />
<line x1="304.50" y1="586.80" x2="304.50" y2="588.40" stroke="#222" stroke-width="0.8" />
<line x1="305.50" y1="586.80" x2="305.50" y2="588.40" stroke="#222" stroke-width="0.8" />
<line x1="307.50" y1="586.80" x2="307.50" y2="588.40" stroke="#222" stroke-width="0.8" />
<line x1="308.50" y1="586.80" x2="308.50" y2="588.40" stroke="#222" stroke-width="0.8" />
<line x1="309.50" y1="586.80" x2="309.50" y2="588.40" stroke="#222" stroke-width="0.8" />
<line x1="309.50" y1="586.80" x2="309.50" y2="589.40" stroke="#222" stroke-width="0.8" />
<line x1="336.50" y1="496.30" x2="336.50" y2="587.20" stroke="#111" stroke-width="1.5" />
<line x1="336.05" y1="586.50" x2="417.50" y2="586.50" stroke="#111" stroke-width="1.6" />
<line x1="334.20" y1="586.50" x2="336.80" y2="586.50" stroke="#222" stroke-width="0.8" />
<line x1="335.20" y1="580.50" x2="336.80" y2="580.50" stroke="#222" stroke-width="0.8" />
<line x1="335.20" y1="575.50" x2="336.80" y2="575.50" stroke="#222" stroke-width="0.8" />
<line x1="335.20" y1="569.50" x2="336.80" y2="569.50" stroke="#222" stroke-width="0.8" />
<line x1="334.20" y1="563.50" x2="336.80" y2="563.50" stroke="#222" stroke-width="0.8" />
<line x1="335.20" y1="558.50" x2="336.80" y2="558.50" stroke="#222" stroke-width="0.8" />
<line x1="335.20" y1="552.50" x2="336.80" y2="552.50" stroke="#222" stroke-width="0.8" />
<line x1="335.20" y1="546.50" x2="336.80" y2="546.50" stroke="#222" stroke-width="0.8" />
<line x1="334.20" y1="541.50" x2="336.80" y2="541.50" stroke="#222" stroke-width="0.8" />
<line x1="335.20" y1="535.50" x2="336.80" y2="535.50" stroke="#222" stroke-width="0.8" />
<line x1="335.20" y1="530.50" x2="336.80" y2="530.50" stroke="#222" stroke-width="0.8" />
<line x1="335.20" y1="524.50" x2="336.80" y2="524.50" stroke="#222" stroke-width="0.8" />
<line x1="334.20" y1="518.50" x2="336.80" y2="518.50" stroke="#222" stroke-width="0.8" />
<line x1="335.20" y1="513.50" x2="336.80" y2="513.50" stroke="#222" stroke-width="0.8" />
<line x1="335.20" y1="507.50" x2="336.80" y2="507.50" stroke="#222" stroke-width="0.8" />
<line x1="335.20" y1="501.50" x2="336.80" y2="501.50" stroke="#222" stroke-width="0.8" />
<line x1="334.20" y1="496.50" x2="336.80" y2="496.50" stroke="#222" stroke-width="0.8" />
<line x1="336.50" y1="586.40" x2="336.50" y2="588.00" stroke="#222" stroke-width="0.8" />
<line x1="340.50" y1="586.40" x2="340.50" y2="588.00" stroke="#222" stroke-width="0.8" />
<line x1="342.50" y1="586.40" x2="342.50" y2="588.00" stroke="#222" stroke-width="0.8" />
<line x1="344.50" y1="586.40" x2="344.50" y2="588.00" stroke="#222" stroke-width="0.8" />
<line x1="346.50" y1="586.40" x2="346.50" y2="588.00" stroke="#222" stroke-width="0.8" />
<line x1="347.50" y1="586.40" x2="347.50" y2="588.00" stroke="#222" stroke-width="0.8" />
<line x1="348.50" y1="586.40" x2="348.50" y2="588.00" stroke="#222" stroke-width="0.8" />
<line x1="349.50" y1="586.40" x2="349.50" y2="588.00" stroke="#222" stroke-width="0.8" />
<line x1="350.50" y1="586.40" x2="350.50" y2="589.00" stroke="#222" stroke-width="0.8" />
<line x1="356.50" y1="586.40" x2="356.50" y2="588.00" stroke="#222" stroke-width="0.8" />
<line x1="360.50" y1="586.40" x2="360.50" y2="588.00" stroke="#222" stroke-width="0.8" />
<line x1="363.50" y1="586.40" x2="363.50" y2="588.00" stroke="#222" stroke-width="0.8" />
<line x1="365.50" y1="586.40" x2="365.50" y2="588.00" stroke="#222" stroke-width="0.8" />
<line x1="366.50" y1="586.40" x2="366.50" y2="588.00" stroke="#222" stroke-width="0.8" />
<line x1="367.50" y1="586.40" x2="367.50" y2="588.00" stroke="#222" stroke-width="0.8" />
<line x1="369.50" y1="586.40" x2="369.50" y2="588.00" stroke="#222" stroke-width="0.8" />
<line x1="370.50" y1="586.40" x2="370.50" y2="588.00" stroke="#222" stroke-width="0.8" />
<line x1="371.50" y1="586.40" x2="371.50" y2="589.00" stroke="#222" stroke-width="0.8" />
<line x1="377.50" y1="586.40" x2="377.50" y2="588.00" stroke="#222" stroke-width="0.8" />
<line x1="380.50" y1="586.40" x2="380.50" y2="588.00" stroke="#222" stroke-width="0.8" />
<line x1="383.50" y1="586.40" x2="383.50" y2="588.00" stroke="#222" stroke-width="0.8" />
<line x1="385.50" y1="586.40" x2="385.50" y2="588.00" stroke="#222" stroke-width="0.8" />
<line x1="386.50" y1="586.40" x2="386.50" y2="588.00" stroke="#222" stroke-width="0.8" />
<line x1="388.50" y1="586.40" x2="388.50" y2="588.00" stroke="#222" stroke-width="0.8" />
<line x1="389.50" y1="586.40" x2="389.50" y2="588.00" stroke="#222" stroke-width="0.8" />
<line x1="390.50" y1="586.40" x2="390.50" y2="588.00" stroke="#222" stroke-width="0.8" />
<line x1="391.50" y1="586.40" x2="391.50" y2="589.00" stroke="#222" stroke-width="0.8" />
<line x1="397.50" y1="586.40" x2="397.50" y2="588.00" stroke="#222" stroke-width="0.8" />
<line x1="400.50" y1="586.40" x2="400.50" y2="588.00" stroke="#222" stroke-width="0.8" />
<line x1="403.50" y1="586.40" x2="403.50" y2="588.00" stroke="#222" stroke-width="0.8" />
<line x1="405.50" y1="586.40" x2="405.50" y2="588.00" stroke="#222" stroke-width="0.8" />
<line x1="406.50" y1="586.40" x2="406.50" y2="588.00" stroke="#222" stroke-width="0.8" />
<line x1="408.50" y1="586.40" x2="408.50" y2="588.00" stroke="#222" stroke-width="0.8" />
<line x1="409.50" y1="586.40" x2="409.50" y2="588.00" stroke="#222" stroke-width="0.8" />
<line x1="410.50" y1="586.40" x2="410.50" y2="588.00" stroke="#222" stroke-width="0.8" />
<line x1="411.50" y1="586.40" x2="411.50" y2="589.00" stroke="#222" stroke-width="0.8" />
<line x1="435.50" y1="496.30" x2="435.50" y2="587.00" stroke="#111" stroke-width="1.5" />
<line x1="434.45" y1="586.50" x2="513.00" y2="586.50" stroke="#111" stroke-width="1.6" />
<line x1="432.60" y1="586.50" x2="435.20" y2="586.50" stroke="#222" stroke-width="0.8" />
<line x1="433.60" y1="580.50" x2="435.20" y2="580.50" stroke="#222" stroke-width="0.8" />
<line x1="433.60" y1="574.50" x2="435.20" y2="574.50" stroke="#222" stroke-width="0.8" />
<line x1="433.60" y1="569.50" x2="435.20" y2="569.50" stroke="#222" stroke-width="0.8" />
<line x1="432.60" y1="563.50" x2="435.20" y2="563.50" stroke="#222" stroke-width="0.8" />
<line x1="433.60" y1="558.50" x2="435.20" y2="558.50" stroke="#222" stroke-width="0.8" />
<line x1="433.60" y1="552.50" x2="435.20" y2="552.50" stroke="#222" stroke-width="0.8" />
<line x1="433.60" y1="546.50" x2="435.20" y2="546.50" stroke="#222" stroke-width="0.8" />
<line x1="432.60" y1="541.50" x2="435.20" y2="541.50" stroke="#222" stroke-width="0.8" />
<line x1="433.60" y1="535.50" x2="435.20" y2="535.50" stroke="#222" stroke-width="0.8" />
<line x1="433.60" y1="530.50" x2="435.20" y2="530.50" stroke="#222" stroke-width="0.8" />
<line x1="433.60" y1="524.50" x2="435.20" y2="524.50" stroke="#222" stroke-width="0.8" />
<line x1="432.60" y1="518.50" x2="435.20" y2="518.50" stroke="#222" stroke-width="0.8" />
<line x1="433.60" y1="513.50" x2="435.20" y2="513.50" stroke="#222" stroke-width="0.8" />
<line x1="433.60" y1="507.50" x2="435.20" y2="507.50" stroke="#222" stroke-width="0.8" />
<line x1="433.60" y1="501.50" x2="435.20" y2="501.50" stroke="#222" stroke-width="0.8" />
<line x1="432.60" y1="496.50" x2="435.20" y2="496.50" stroke="#222" stroke-width="0.8" />
<line x1="435.50" y1="586.20" x2="435.50" y2="587.80" stroke="#222" stroke-width="0.8" />
<line x1="438.50" y1="586.20" x2="438.50" y2="587.80" stroke="#222" stroke-width="0.8" />
<line x1="441.50" y1="586.20" x2="441.50" y2="587.80" stroke="#222" stroke-width="0.8" />
<line x1="442.50" y1="586.20" x2="442.50" y2="587.80" stroke="#222" stroke-width="0.8" />
<line x1="444.50" y1="586.20" x2="444.50" y2="587.80" stroke="#222" stroke-width="0.8" />
<line x1="445.50" y1="586.20" x2="445.50" y2="587.80" stroke="#222" stroke-width="0.8" />
<line x1="446.50" y1="586.20" x2="446.50" y2="587.80" stroke="#222" stroke-width="0.8" />
<line x1="447.50" y1="586.20" x2="447.50" y2="587.80" stroke="#222" stroke-width="0.8" />
<line x1="448.50" y1="586.20" x2="448.50" y2="588.80" stroke="#222" stroke-width="0.8" />
<line x1="454.50" y1="586.20" x2="454.50" y2="587.80" stroke="#222" stroke-width="0.8" />
<line x1="458.50" y1="586.20" x2="458.50" y2="587.80" stroke="#222" stroke-width="0.8" />
<line x1="460.50" y1="586.20" x2="460.50" y2="587.80" stroke="#222" stroke-width="0.8" />
<line x1="462.50" y1="586.20" x2="462.50" y2="587.80" stroke="#222" stroke-width="0.8" />
<line x1="463.50" y1="586.20" x2="463.50" y2="587.80" stroke="#222" stroke-width="0.8" />
<line x1="465.50" y1="586.20" x2="465.50" y2="587.80" stroke="#222" stroke-width="0.8" />
<line x1="466.50" y1="586.20" x2="466.50" y2="587.80" stroke="#222" stroke-width="0.8" />
<line x1="467.50" y1="586.20" x2="467.50" y2="587.80" stroke="#222" stroke-width="0.8" />
<line x1="468.50" y1="586.20" x2="468.50" y2="588.80" stroke="#222" stroke-width="0.8" />
<line x1="474.50" y1="586.20" x2="474.50" y2="587.80" stroke="#222" stroke-width="0.8" />
<line x1="477.50" y1="586.20" x2="477.50" y2="587.80" stroke="#222" stroke-width="0.8" />
<line x1="479.50" y1="586.20" x2="479.50" y2="587.80" stroke="#222" stroke-width="0.8" />
<line x1="481.50" y1="586.20" x2="481.50" y2="587.80" stroke="#222" stroke-width="0.8" />
<line x1="483.50" y1="586.20" x2="483.50" y2="587.80" stroke="#222" stroke-width="0.8" />
<line x1="484.50" y1="586.20" x2="484.50" y2="587.80" stroke="#222" stroke-width="0.8" />
<line x1="485.50" y1="586.20" x2="485.50" y2="587.80" stroke="#222" stroke-width="0.8" />
<line x1="486.50" y1="586.20" x2="486.50" y2="587.80" stroke="#222" stroke-width="0.8" />
<line x1="487.50" y1="586.20" x2="487.50" y2="588.80" stroke="#222" stroke-width="0.8" />
<line x1="493.50" y1="586.20" x2="493.50" y2="587.80" stroke="#222" stroke-width="0.8" />
<line x1="496.50" y1="586.20" x2="496.50" y2="587.80" stroke="#222" stroke-width="0.8" />
<line x1="499.50" y1="586.20" x2="499.50" y2="587.80" stroke="#222" stroke-width="0.8" />
<line x1="501.50" y1="586.20" x2="501.50" y2="587.80" stroke="#222" stroke-width="0.8" />
<line x1="502.50" y1="586.20" x2="502.50" y2="587.80" stroke="#222" stroke-width="0.8" />
<line x1="504.50" y1="586.20" x2="504.50" y2="587.80" stroke="#222" stroke-width="0.8" />
<line x1="505.50" y1="586.20" x2="505.50" y2="587.80" stroke="#222" stroke-width="0.8" />
<line x1="506.50" y1="586.20" x2="506.50" y2="587.80" stroke="#222" stroke-width="0.8" />
<line x1="507.50" y1="586.20" x2="507.50" y2="588.80" stroke="#222" stroke-width="0.8" />
<g fill="#3a9a3a" opacity="0.75"><circle cx="66.4" cy="530.8" r="0.35"/><circle cx="83.0" cy="513.6" r="0.35"/><circle cx="75.7" cy="514.2" r="0.35"/><circle cx="86.9" cy="551.0" r="0.35"/><circle cx="89.2" cy="540.4" r="0.35"/><circle cx="80.6" cy="543.7" r="0.35"/><circle cx="70.4" cy="550.2" r="0.35"/><circle cx="65.7" cy="542.7" r="0.35"/><circle cx="83.3" cy="548.9" r="0.35"/><circle cx="73.3" cy="580.8" r="0.35"/><circle cx="77.5" cy="539.2" r="0.35"/><circle cx="78.4" cy="540.2" r="0.35"/><circle cx="73.5" cy="542.7" r="0.35"/><circle cx="95.2" cy="548.3" r="0.35"/><circle cx="78.6" cy="558.1" r="0.35"/><circle cx="95.2" cy="544.6" r="0.35"/><circle cx="71.4" cy="585.1" r="0.35"/><circle cx="63.9" cy="542.5" r="0.35"/><circle cx="83.0" cy="582.3" r="0.35"/><circle cx="68.5" cy="511.6" r="0.35"/><circle cx="83.0" cy="540.2" r="0.35"/><circle cx="73.5" cy="554.9" r="0.35"/><circle cx="79.0" cy="552.4" r="0.35"/><circle cx="73.1" cy="567.3" r="0.35"/><circle cx="90.5" cy="548.5" r="0.35"/><circle cx="72.9" cy="559.0" r="0.35"/><circle cx="81.3" cy="532.4" r="0.35"/><circle cx="72.9" cy="563.7" r="0.35"/><circle cx="76.1" cy="543.1" r="0.35"/><circle cx="78.9" cy="547.5" r="0.35"/><circle cx="77.0" cy="519.0" r="0.35"/><circle cx="92.7" cy="551.0" r="0.35"/><circle cx="69.1" cy="562.7" r="0.35"/><circle cx="79.8" cy="548.3" r="0.35"/><circle cx="86.4" cy="581.9" r="0.35"/><circle cx="82.0" cy="571.8" r="0.35"/><circle cx="96.4" cy="532.7" r="0.35"/><circle cx="72.3" cy="559.6" r="0.35"/><circle cx="61.6" cy="544.0" r="0.35"/><circle cx="88.6" cy="563.6" r="0.35"/><circle cx="82.2" cy="519.6" r="0.35"/><circle cx="98.2" cy="556.3" r="0.35"/><circle cx="83.9" cy="555.4" r="0.35"/><circle cx="61.6" cy="526.5" r="0.35"/><circle cx="66.1" cy="576.8" r="0.35"/><circle cx="69.5" cy="544.4" r="0.35"/><circle cx="74.7" cy="556.6" r="0.35"/><circle cx="81.5" cy="552.0" r="0.35"/><circle cx="65.6" cy="500.9" r="0.35"/><circle cx="78.5" cy="552.0" r="0.35"/><circle cx="88.1" cy="546.5" r="0.35"/><circle cx="71.5" cy="554.2" r="0.35"/><circle cx="63.0" cy="532.4" r="0.35"/><circle cx="67.9" cy="552.3" r="0.35"/><circle cx="95.8" cy="559.5" r="0.35"/><circle cx="87.3" cy="551.6" r="0.35"/><circle cx="79.5" cy="541.3" r="0.35"/><circle cx="74.5" cy="511.6" r="0.35"/><circle cx="66.2" cy="528.7" r="0.35"/><circle cx="84.5" cy="557.9" r="0.35"/><circle cx="87.3" cy="571.3" r="0.35"/><circle cx="74.3" cy="563.8" r="0.35"/><circle cx="94.6" cy="547.9" r="0.35"/><circle cx="86.8" cy="545.5" r="0.35"/><circle cx="62.5" cy="549.8" r="0.35"/><circle cx="69.6" cy="549.6" r="0.35"/><circle cx="72.8" cy="552.8" r="0.35"/><circle cx="57.8" cy="579.3" r="0.35"/><circle cx="89.2" cy="542.7" r="0.35"/><circle cx="68.8" cy="548.1" r="0.35"/><circle cx="83.1" cy="554.4" r="0.35"/><circle cx="80.6" cy="518.5" r="0.35"/><circle cx="66.8" cy="568.2" r="0.35"/><circle cx="79.2" cy="525.2" r="0.35"/><circle cx="69.2" cy="526.3" r="0.35"/><circle cx="67.8" cy="565.7" r="0.35"/><circle cx="75.0" cy="565.0" r="0.35"/><circle cx="78.7" cy="525.2" r="0.35"/><circle cx="71.1" cy="582.8" r="0.35"/><circle cx="70.0" cy="532.0" r="0.35"/><circle cx="88.3" cy="549.4" r="0.35"/><circle cx="76.9" cy="570.4" r="0.35"/><circle cx="60.9" cy="554.4" r="0.35"/><circle cx="67.3" cy="526.6" r="0.35"/><circle cx="69.5" cy="565.6" r="0.35"/><circle cx="75.7" cy="519.9" r="0.35"/><circle cx="66.8" cy="571.3" r="0.35"/><circle cx="86.4" cy="531.3" r="0.35"/><circle cx="99.3" cy="542.4" r="0.35"/><circle cx="66.0" cy="545.9" r="0.35"/><circle cx="85.6" cy="572.7" r="0.35"/><circle cx="86.5" cy="541.5" r="0.35"/><circle cx="71.8" cy="525.7" r="0.35"/><circle cx="76.3" cy="538.9" r="0.35"/><circle cx="79.3" cy="528.6" r="0.35"/><circle cx="72.2" cy="534.5" r="0.35"/><circle cx="65.9" cy="529.8" r="0.35"/><circle cx="67.6" cy="529.9" r="0.35"/><circle cx="82.2" cy="549.5" r="0.35"/><circle cx="64.8" cy="555.9" r="0.35"/><circle cx="79.6" cy="570.4" r="0.35"/><circle cx="75.2" cy="544.8" r="0.35"/><circle cx="70.7" cy="549.9" r="0.35"/><circle cx="81.5" cy="550.7" r="0.35"/><circle cx="74.7" cy="556.7" r="0.35"/><circle cx="77.8" cy="551.8" r="0.35"/><circle cx="68.4" cy="551.2" r="0.35"/><circle cx="67.8" cy="535.1" r="0.35"/><circle cx="78.5" cy="580.3" r="0.35"/><circle cx="86.2" cy="548.1" r="0.35"/><circle cx="75.4" cy="563.2" r="0.35"/><circle cx="89.7" cy="566.7" r="0.35"/><circle cx="75.3" cy="550.9" r="0.35"/><circle cx="74.0" cy="543.6" r="0.35"/><circle cx="69.1" cy="544.2" r="0.35"/><circle cx="57.2" cy="529.6" r="0.35"/><circle cx="80.9" cy="533.8" r="0.35"/><circle cx="82.0" cy="528.2" r="0.35"/><circle cx="73.6" cy="554.1" r="0.35"/><circle cx="67.4" cy="537.0" r="0.35"/><circle cx="99.8" cy="537.5" r="0.35"/><circle cx="70.5" cy="539.2" r="0.35"/><circle cx="77.3" cy="547.6" r="0.35"/><circle cx="86.1" cy="560.2" r="0.35"/><circle cx="73.3" cy="542.5" r="0.35"/><circle cx="64.0" cy="525.0" r="0.35"/><circle cx="70.2" cy="559.2" r="0.35"/><circle cx="78.1" cy="560.3" r="0.35"/><circle cx="85.7" cy="545.5" r="0.35"/><circle cx="96.3" cy="540.0" r="0.35"/><circle cx="71.2" cy="541.4" r="0.35"/><circle cx="87.5" cy="545.9" r="0.35"/><circle cx="70.2" cy="554.7" r="0.35"/><circle cx="87.4" cy="546.3" r="0.35"/><circle cx="74.7" cy="564.6" r="0.35"/><circle cx="86.0" cy="562.5" r="0.35"/><circle cx="70.0" cy="552.3" r="0.35"/><circle cx="80.3" cy="520.5" r="0.35"/><circle cx="88.1" cy="549.5" r="0.35"/><circle cx="73.9" cy="582.7" r="0.35"/><circle cx="78.3" cy="537.0" r="0.35"/><circle cx="76.4" cy="556.6" r="0.35"/><circle cx="84.5" cy="547.1" r="0.35"/><circle cx="69.1" cy="537.3" r="0.35"/><circle cx="69.5" cy="531.9" r="0.35"/><circle cx="76.8" cy="540.5" r="0.35"/><circle cx="77.5" cy="535.3" r="0.35"/><circle cx="69.0" cy="545.2" r="0.35"/><circle cx="73.8" cy="565.6" r="0.35"/><circle cx="68.7" cy="551.2" r="0.35"/><circle cx="76.6" cy="528.0" r="0.35"/><circle cx="83.7" cy="550.6" r="0.35"/><circle cx="57.7" cy="557.2" r="0.35"/><circle cx="85.6" cy="535.8" r="0.35"/><circle cx="92.6" cy="550.4" r="0.35"/><circle cx="66.4" cy="556.6" r="0.35"/><circle cx="73.7" cy="527.5" r="0.35"/><circle cx="57.3" cy="551.8" r="0.35"/><circle cx="70.2" cy="557.9" r="0.35"/><circle cx="80.6" cy="540.0" r="0.35"/><circle cx="72.1" cy="575.0" r="0.35"/><circle cx="92.7" cy="559.5" r="0.35"/><circle cx="73.7" cy="533.0" r="0.35"/><circle cx="73.4" cy="573.5" r="0.35"/><circle cx="81.2" cy="543.6" r="0.35"/><circle cx="65.7" cy="550.6" r="0.35"/><circle cx="68.9" cy="548.2" r="0.35"/><circle cx="83.8" cy="564.4" r="0.35"/><circle cx="78.3" cy="542.8" r="0.35"/><circle cx="79.1" cy="575.5" r="0.35"/><circle cx="80.4" cy="526.6" r="0.35"/><circle cx="91.2" cy="551.8" r="0.35"/><circle cx="108.9" cy="540.8" r="0.35"/><circle cx="76.1" cy="543.5" r="0.35"/><circle cx="80.5" cy="539.2" r="0.35"/><circle cx="63.5" cy="518.7" r="0.35"/><circle cx="75.9" cy="540.2" r="0.35"/><circle cx="71.7" cy="580.4" r="0.35"/><circle cx="84.3" cy="564.6" r="0.35"/><circle cx="72.4" cy="552.6" r="0.35"/><circle cx="75.1" cy="544.9" r="0.35"/><circle cx="83.8" cy="557.2" r="0.35"/><circle cx="79.8" cy="550.3" r="0.35"/><circle cx="63.8" cy="536.7" r="0.35"/><circle cx="80.5" cy="542.4" r="0.35"/><circle cx="69.9" cy="553.4" r="0.35"/><circle cx="68.6" cy="537.8" r="0.35"/><circle cx="85.1" cy="542.5" r="0.35"/><circle cx="90.1" cy="556.0" r="0.35"/><circle cx="84.4" cy="565.2" r="0.35"/><circle cx="57.2" cy="546.8" r="0.35"/><circle cx="65.2" cy="540.9" r="0.35"/><circle cx="76.1" cy="566.9" r="0.35"/><circle cx="76.6" cy="573.0" r="0.35"/><circle cx="72.2" cy="547.1" r="0.35"/><circle cx="77.8" cy="562.4" r="0.35"/><circle cx="76.5" cy="538.6" r="0.35"/><circle cx="74.0" cy="526.7" r="0.35"/><circle cx="88.5" cy="559.4" r="0.35"/><circle cx="80.9" cy="552.2" r="0.35"/><circle cx="71.5" cy="541.8" r="0.35"/><circle cx="84.4" cy="536.0" r="0.35"/><circle cx="69.9" cy="572.0" r="0.35"/><circle cx="91.2" cy="552.4" r="0.35"/><circle cx="81.9" cy="550.8" r="0.35"/><circle cx="90.0" cy="541.3" r="0.35"/><circle cx="77.8" cy="555.3" r="0.35"/><circle cx="90.1" cy="544.2" r="0.35"/><circle cx="79.1" cy="540.6" r="0.35"/><circle cx="71.0" cy="538.1" r="0.35"/><circle cx="77.8" cy="561.4" r="0.35"/><circle cx="70.7" cy="538.9" r="0.35"/><circle cx="73.3" cy="553.3" r="0.35"/><circle cx="83.3" cy="529.1" r="0.35"/><circle cx="80.2" cy="532.9" r="0.35"/><circle cx="83.5" cy="533.5" r="0.35"/><circle cx="67.2" cy="537.2" r="0.35"/><circle cx="76.4" cy="533.0" r="0.35"/><circle cx="78.9" cy="550.2" r="0.35"/><circle cx="77.8" cy="552.1" r="0.35"/></g>
<g fill="#3a9a3a" opacity="0.75"><circle cx="100.9" cy="557.7" r="0.35"/><circle cx="93.0" cy="560.9" r="0.35"/><circle cx="74.4" cy="562.8" r="0.35"/><circle cx="86.0" cy="557.8" r="0.35"/><circle cx="89.0" cy="561.4" r="0.35"/><circle cx="96.0" cy="563.2" r="0.35"/><circle cx="86.7" cy="564.1" r="0.35"/><circle cx="96.8" cy="559.2" r="0.35"/><circle cx="92.8" cy="564.6" r="0.35"/><circle cx="96.9" cy="564.1" r="0.35"/><circle cx="94.0" cy="566.1" r="0.35"/><circle cx="78.6" cy="568.8" r="0.35"/><circle cx="87.9" cy="554.8" r="0.35"/><circle cx="71.6" cy="562.9" r="0.35"/><circle cx="102.9" cy="565.5" r="0.35"/><circle cx="89.6" cy="567.5" r="0.35"/><circle cx="92.3" cy="558.3" r="0.35"/><circle cx="93.6" cy="562.0" r="0.35"/><circle cx="93.4" cy="562.8" r="0.35"/><circle cx="73.3" cy="568.1" r="0.35"/><circle cx="87.9" cy="563.9" r="0.35"/><circle cx="85.8" cy="561.7" r="0.35"/><circle cx="91.4" cy="553.9" r="0.35"/><circle cx="96.5" cy="563.9" r="0.35"/><circle cx="83.0" cy="551.6" r="0.35"/><circle cx="87.2" cy="557.2" r="0.35"/><circle cx="94.0" cy="560.9" r="0.35"/><circle cx="107.5" cy="563.9" r="0.35"/><circle cx="90.7" cy="561.7" r="0.35"/><circle cx="67.1" cy="556.9" r="0.35"/><circle cx="84.7" cy="560.5" r="0.35"/><circle cx="95.9" cy="562.0" r="0.35"/><circle cx="101.4" cy="557.9" r="0.35"/><circle cx="95.8" cy="560.4" r="0.35"/><circle cx="93.1" cy="562.4" r="0.35"/><circle cx="90.5" cy="562.0" r="0.35"/><circle cx="92.7" cy="565.6" r="0.35"/><circle cx="92.0" cy="562.4" r="0.35"/><circle cx="97.6" cy="565.8" r="0.35"/><circle cx="83.9" cy="564.2" r="0.35"/><circle cx="99.7" cy="563.0" r="0.35"/><circle cx="101.8" cy="564.5" r="0.35"/><circle cx="103.7" cy="558.1" r="0.35"/><circle cx="96.9" cy="558.6" r="0.35"/><circle cx="104.1" cy="561.6" r="0.35"/><circle cx="81.3" cy="561.5" r="0.35"/><circle cx="84.0" cy="565.4" r="0.35"/><circle cx="90.0" cy="551.2" r="0.35"/><circle cx="89.5" cy="565.6" r="0.35"/><circle cx="96.0" cy="558.2" r="0.35"/><circle cx="98.8" cy="563.6" r="0.35"/><circle cx="106.2" cy="565.1" r="0.35"/><circle cx="96.3" cy="557.5" r="0.35"/><circle cx="95.6" cy="562.4" r="0.35"/><circle cx="93.1" cy="562.9" r="0.35"/><circle cx="82.4" cy="563.6" r="0.35"/><circle cx="93.1" cy="562.6" r="0.35"/><circle cx="92.1" cy="559.7" r="0.35"/><circle cx="95.3" cy="564.5" r="0.35"/><circle cx="90.1" cy="562.5" r="0.35"/><circle cx="86.1" cy="562.9" r="0.35"/><circle cx="93.2" cy="555.3" r="0.35"/><circle cx="103.4" cy="557.0" r="0.35"/><circle cx="93.7" cy="555.1" r="0.35"/><circle cx="77.5" cy="563.9" r="0.35"/><circle cx="80.5" cy="551.7" r="0.35"/><circle cx="91.1" cy="554.1" r="0.35"/><circle cx="91.2" cy="569.2" r="0.35"/><circle cx="89.5" cy="562.6" r="0.35"/><circle cx="98.0" cy="562.1" r="0.35"/><circle cx="91.9" cy="567.7" r="0.35"/><circle cx="92.3" cy="562.6" r="0.35"/><circle cx="94.0" cy="555.3" r="0.35"/><circle cx="95.9" cy="561.2" r="0.35"/><circle cx="98.8" cy="564.1" r="0.35"/><circle cx="107.0" cy="552.5" r="0.35"/><circle cx="88.0" cy="558.9" r="0.35"/><circle cx="85.3" cy="562.8" r="0.35"/><circle cx="92.3" cy="561.6" r="0.35"/><circle cx="78.5" cy="556.7" r="0.35"/><circle cx="92.4" cy="559.0" r="0.35"/><circle cx="87.6" cy="560.5" r="0.35"/><circle cx="90.5" cy="556.3" r="0.35"/><circle cx="107.8" cy="558.0" r="0.35"/><circle cx="98.8" cy="563.7" r="0.35"/><circle cx="101.6" cy="558.5" r="0.35"/><circle cx="84.1" cy="563.0" r="0.35"/><circle cx="95.3" cy="550.5" r="0.35"/><circle cx="69.7" cy="558.6" r="0.35"/><circle cx="89.5" cy="559.8" r="0.35"/><circle cx="96.7" cy="556.7" r="0.35"/><circle cx="104.6" cy="562.2" r="0.35"/><circle cx="74.5" cy="562.0" r="0.35"/><circle cx="88.1" cy="563.0" r="0.35"/><circle cx="92.0" cy="564.0" r="0.35"/><circle cx="85.2" cy="559.4" r="0.35"/><circle cx="93.0" cy="557.7" r="0.35"/><circle cx="88.9" cy="563.7" r="0.35"/><circle cx="100.3" cy="555.9" r="0.35"/><circle cx="88.9" cy="562.5" r="0.35"/><circle cx="98.1" cy="556.4" r="0.35"/><circle cx="98.3" cy="561.6" r="0.35"/><circle cx="104.6" cy="565.2" r="0.35"/><circle cx="97.9" cy="559.2" r="0.35"/><circle cx="95.3" cy="557.2" r="0.35"/><circle cx="85.7" cy="552.8" r="0.35"/><circle cx="81.4" cy="555.4" r="0.35"/><circle cx="92.1" cy="561.4" r="0.35"/><circle cx="81.1" cy="560.6" r="0.35"/><circle cx="96.6" cy="565.1" r="0.35"/><circle cx="92.1" cy="562.0" r="0.35"/><circle cx="89.6" cy="565.1" r="0.35"/><circle cx="79.1" cy="562.0" r="0.35"/><circle cx="72.4" cy="568.6" r="0.35"/><circle cx="101.2" cy="551.6" r="0.35"/><circle cx="88.3" cy="554.7" r="0.35"/></g>
<g fill="#2a8a2a" opacity="0.85"><circle cx="68.9" cy="574.4" r="0.4"/><circle cx="71.9" cy="580.1" r="0.4"/><circle cx="73.2" cy="571.6" r="0.4"/><circle cx="74.7" cy="577.6" r="0.4"/><circle cx="77.8" cy="578.0" r="0.4"/><circle cx="69.8" cy="572.7" r="0.4"/><circle cx="74.3" cy="572.7" r="0.4"/><circle cx="77.5" cy="574.6" r="0.4"/><circle cx="74.7" cy="574.5" r="0.4"/><circle cx="75.1" cy="570.0" r="0.4"/><circle cx="82.2" cy="573.7" r="0.4"/><circle cx="72.5" cy="568.9" r="0.4"/><circle cx="74.7" cy="570.5" r="0.4"/><circle cx="76.1" cy="580.7" r="0.4"/><circle cx="77.1" cy="574.2" r="0.4"/><circle cx="79.3" cy="575.2" r="0.4"/><circle cx="74.8" cy="576.2" r="0.4"/><circle cx="73.3" cy="577.6" r="0.4"/><circle cx="70.7" cy="569.0" r="0.4"/><circle cx="79.1" cy="573.0" r="0.4"/><circle cx="73.7" cy="577.3" r="0.4"/><circle cx="73.3" cy="571.3" r="0.4"/><circle cx="74.3" cy="572.2" r="0.4"/><circle cx="76.8" cy="574.2" r="0.4"/><circle cx="74.1" cy="579.0" r="0.4"/><circle cx="69.6" cy="570.1" r="0.4"/><circle cx="77.5" cy="580.9" r="0.4"/><circle cx="75.3" cy="573.2" r="0.4"/><circle cx="79.2" cy="578.0" r="0.4"/><circle cx="78.5" cy="568.8" r="0.4"/><circle cx="74.5" cy="571.9" r="0.4"/><circle cx="71.2" cy="578.2" r="0.4"/><circle cx="77.5" cy="574.1" r="0.4"/><circle cx="74.1" cy="581.4" r="0.4"/><circle cx="77.2" cy="575.5" r="0.4"/><circle cx="76.7" cy="576.4" r="0.4"/><circle cx="70.6" cy="573.9" r="0.4"/><circle cx="75.9" cy="578.4" r="0.4"/><circle cx="70.8" cy="572.8" r="0.4"/><circle cx="72.9" cy="570.0" r="0.4"/><circle cx="78.7" cy="577.7" r="0.4"/><circle cx="79.5" cy="567.3" r="0.4"/><circle cx="72.2" cy="583.1" r="0.4"/><circle cx="70.1" cy="568.8" r="0.4"/><circle cx="75.7" cy="582.1" r="0.4"/><circle cx="77.1" cy="572.2" r="0.4"/><circle cx="76.9" cy="577.6" r="0.4"/><circle cx="75.9" cy="577.5" r="0.4"/><circle cx="77.8" cy="580.5" r="0.4"/><circle cx="79.7" cy="580.1" r="0.4"/><circle cx="74.4" cy="568.7" r="0.4"/><circle cx="76.8" cy="570.0" r="0.4"/><circle cx="82.8" cy="571.4" r="0.4"/><circle cx="68.6" cy="568.7" r="0.4"/><circle cx="76.3" cy="577.1" r="0.4"/><circle cx="77.2" cy="577.1" r="0.4"/><circle cx="72.3" cy="579.1" r="0.4"/><circle cx="72.6" cy="570.0" r="0.4"/><circle cx="78.1" cy="578.0" r="0.4"/><circle cx="71.7" cy="575.0" r="0.4"/></g>
<circle cx="68.50" cy="497.90" r="0.45" fill="#5aaa5a"/>
<circle cx="70.40" cy="497.90" r="0.45" fill="#5aaa5a"/>
<circle cx="72.30" cy="497.90" r="0.45" fill="#5aaa5a"/>
<circle cx="74.20" cy="497.90" r="0.45" fill="#5aaa5a"/>
<circle cx="76.10" cy="497.90" r="0.45" fill="#5aaa5a"/>
<circle cx="78.00" cy="497.90" r="0.45" fill="#5aaa5a"/>
<circle cx="79.90" cy="497.90" r="0.45" fill="#5aaa5a"/>
<circle cx="81.80" cy="497.90" r="0.45" fill="#5aaa5a"/>
<circle cx="83.70" cy="497.90" r="0.45" fill="#5aaa5a"/>
<g filter="url(#rough)">
<path d="M69.4 531 C69.5 527.8 72.5 526.6 76 526.7 C79.5 526.8 82.8 528.2 83.2 531.5 C83.6 537 83.6 546 84.6 553.5 C89 556.3 96 557 101 557.5 C104.5 558 106.4 559.8 106.2 562 C105.8 564.5 101 565.8 96 566 C91 566.3 88 567.5 85 568.8 C80 570.5 73 570.8 68 569.6 C65.3 568.6 64.6 565 64.9 561.5 C65.3 558.5 67.5 557 69.4 555.5 C69.5 548 69.2 539 69.4 531 Z" fill="#0e820e"/>
</g>
<g fill="#4aaa4a" opacity="0.6"><circle cx="80.0" cy="546.4" r="0.45"/><circle cx="72.8" cy="547.5" r="0.45"/><circle cx="77.8" cy="539.1" r="0.45"/><circle cx="76.8" cy="528.8" r="0.45"/><circle cx="76.0" cy="543.3" r="0.45"/><circle cx="73.3" cy="540.9" r="0.45"/><circle cx="74.4" cy="543.9" r="0.45"/><circle cx="71.1" cy="540.1" r="0.45"/><circle cx="77.6" cy="531.1" r="0.45"/><circle cx="75.6" cy="546.1" r="0.45"/><circle cx="78.9" cy="533.1" r="0.45"/><circle cx="80.0" cy="542.3" r="0.45"/><circle cx="76.9" cy="550.3" r="0.45"/><circle cx="79.0" cy="542.5" r="0.45"/><circle cx="79.8" cy="544.5" r="0.45"/><circle cx="80.8" cy="539.2" r="0.45"/><circle cx="70.3" cy="550.7" r="0.45"/><circle cx="79.3" cy="543.6" r="0.45"/><circle cx="76.6" cy="539.3" r="0.45"/><circle cx="76.8" cy="533.4" r="0.45"/><circle cx="79.1" cy="540.5" r="0.45"/><circle cx="73.2" cy="541.8" r="0.45"/><circle cx="75.3" cy="539.8" r="0.45"/><circle cx="72.8" cy="542.8" r="0.45"/><circle cx="78.9" cy="542.9" r="0.45"/><circle cx="81.6" cy="537.0" r="0.45"/><circle cx="75.3" cy="539.9" r="0.45"/><circle cx="71.8" cy="547.6" r="0.45"/><circle cx="72.2" cy="543.7" r="0.45"/><circle cx="80.6" cy="534.2" r="0.45"/><circle cx="75.9" cy="538.6" r="0.45"/><circle cx="82.4" cy="541.8" r="0.45"/><circle cx="70.4" cy="547.4" r="0.45"/><circle cx="80.1" cy="549.8" r="0.45"/><circle cx="78.9" cy="539.8" r="0.45"/><circle cx="74.1" cy="542.6" r="0.45"/><circle cx="73.7" cy="541.1" r="0.45"/><circle cx="75.6" cy="536.9" r="0.45"/><circle cx="78.4" cy="546.8" r="0.45"/><circle cx="79.6" cy="543.1" r="0.45"/><circle cx="82.3" cy="531.2" r="0.45"/><circle cx="76.7" cy="541.3" r="0.45"/><circle cx="75.0" cy="537.8" r="0.45"/><circle cx="77.3" cy="539.3" r="0.45"/><circle cx="78.0" cy="546.8" r="0.45"/><circle cx="75.9" cy="551.7" r="0.45"/><circle cx="72.3" cy="548.7" r="0.45"/><circle cx="78.9" cy="546.9" r="0.45"/><circle cx="81.9" cy="538.3" r="0.45"/><circle cx="77.9" cy="541.8" r="0.45"/><circle cx="74.4" cy="534.7" r="0.45"/><circle cx="73.8" cy="545.9" r="0.45"/><circle cx="76.8" cy="549.1" r="0.45"/><circle cx="76.1" cy="548.8" r="0.45"/><circle cx="76.3" cy="536.3" r="0.45"/><circle cx="71.1" cy="541.3" r="0.45"/><circle cx="82.5" cy="540.6" r="0.45"/><circle cx="72.9" cy="544.0" r="0.45"/><circle cx="71.7" cy="532.1" r="0.45"/><circle cx="80.4" cy="542.8" r="0.45"/><circle cx="79.9" cy="541.6" r="0.45"/><circle cx="76.1" cy="541.2" r="0.45"/><circle cx="75.4" cy="547.3" r="0.45"/><circle cx="73.5" cy="546.3" r="0.45"/><circle cx="75.8" cy="544.0" r="0.45"/><circle cx="77.8" cy="538.8" r="0.45"/><circle cx="71.1" cy="543.6" r="0.45"/><circle cx="73.1" cy="538.8" r="0.45"/><circle cx="79.1" cy="537.3" r="0.45"/><circle cx="70.3" cy="535.8" r="0.45"/><circle cx="78.6" cy="545.0" r="0.45"/><circle cx="72.0" cy="540.3" r="0.45"/><circle cx="77.5" cy="547.4" r="0.45"/><circle cx="77.9" cy="541.1" r="0.45"/><circle cx="75.4" cy="543.3" r="0.45"/><circle cx="79.2" cy="538.9" r="0.45"/><circle cx="75.5" cy="552.1" r="0.45"/></g>
<g fill="#4aaa4a" opacity="0.55"><circle cx="77.7" cy="559.3" r="0.45"/><circle cx="83.4" cy="557.7" r="0.45"/><circle cx="69.4" cy="565.2" r="0.45"/><circle cx="78.2" cy="564.7" r="0.45"/><circle cx="84.1" cy="559.4" r="0.45"/><circle cx="82.0" cy="560.7" r="0.45"/><circle cx="79.7" cy="562.9" r="0.45"/><circle cx="77.3" cy="557.5" r="0.45"/><circle cx="80.4" cy="562.1" r="0.45"/><circle cx="82.2" cy="558.3" r="0.45"/><circle cx="79.6" cy="561.3" r="0.45"/><circle cx="74.6" cy="561.1" r="0.45"/><circle cx="76.0" cy="557.3" r="0.45"/><circle cx="73.7" cy="560.4" r="0.45"/><circle cx="81.7" cy="561.5" r="0.45"/><circle cx="89.2" cy="564.1" r="0.45"/><circle cx="80.5" cy="562.7" r="0.45"/><circle cx="66.8" cy="563.3" r="0.45"/><circle cx="88.0" cy="558.5" r="0.45"/><circle cx="88.4" cy="564.1" r="0.45"/><circle cx="80.3" cy="560.5" r="0.45"/><circle cx="78.2" cy="559.3" r="0.45"/><circle cx="77.9" cy="562.2" r="0.45"/><circle cx="78.5" cy="557.8" r="0.45"/><circle cx="85.3" cy="559.7" r="0.45"/><circle cx="81.1" cy="564.0" r="0.45"/><circle cx="79.0" cy="563.4" r="0.45"/><circle cx="76.0" cy="563.1" r="0.45"/><circle cx="68.1" cy="564.2" r="0.45"/><circle cx="75.1" cy="560.2" r="0.45"/><circle cx="84.0" cy="565.1" r="0.45"/><circle cx="74.7" cy="558.5" r="0.45"/><circle cx="81.9" cy="564.2" r="0.45"/><circle cx="68.1" cy="562.2" r="0.45"/><circle cx="86.2" cy="559.4" r="0.45"/><circle cx="73.6" cy="558.9" r="0.45"/><circle cx="77.0" cy="563.6" r="0.45"/><circle cx="77.6" cy="565.3" r="0.45"/><circle cx="82.8" cy="560.2" r="0.45"/><circle cx="70.1" cy="558.4" r="0.45"/><circle cx="81.8" cy="561.5" r="0.45"/><circle cx="78.9" cy="558.9" r="0.45"/><circle cx="87.0" cy="565.0" r="0.45"/><circle cx="83.9" cy="558.2" r="0.45"/><circle cx="98.4" cy="564.9" r="0.45"/><circle cx="69.5" cy="565.3" r="0.45"/><circle cx="77.0" cy="559.3" r="0.45"/><circle cx="72.0" cy="563.7" r="0.45"/><circle cx="80.4" cy="562.7" r="0.45"/><circle cx="76.3" cy="558.5" r="0.45"/><circle cx="80.0" cy="561.1" r="0.45"/><circle cx="76.4" cy="564.1" r="0.45"/><circle cx="91.3" cy="559.8" r="0.45"/><circle cx="85.6" cy="559.5" r="0.45"/><circle cx="84.6" cy="564.2" r="0.45"/><circle cx="78.3" cy="562.8" r="0.45"/><circle cx="71.9" cy="560.9" r="0.45"/><circle cx="85.5" cy="564.6" r="0.45"/><circle cx="95.6" cy="558.6" r="0.45"/><circle cx="74.4" cy="562.3" r="0.45"/><circle cx="78.5" cy="560.3" r="0.45"/><circle cx="74.7" cy="561.7" r="0.45"/><circle cx="88.0" cy="561.6" r="0.45"/><circle cx="72.1" cy="563.1" r="0.45"/><circle cx="73.1" cy="563.1" r="0.45"/><circle cx="69.6" cy="565.4" r="0.45"/><circle cx="84.2" cy="560.5" r="0.45"/><circle cx="81.7" cy="558.0" r="0.45"/><circle cx="79.7" cy="562.9" r="0.45"/><circle cx="86.3" cy="560.5" r="0.45"/><circle cx="69.6" cy="560.2" r="0.45"/><circle cx="75.2" cy="567.6" r="0.45"/><circle cx="77.6" cy="565.9" r="0.45"/><circle cx="78.6" cy="557.2" r="0.45"/><circle cx="81.6" cy="563.8" r="0.45"/><circle cx="73.6" cy="556.7" r="0.45"/><circle cx="81.2" cy="563.6" r="0.45"/><circle cx="85.4" cy="564.0" r="0.45"/><circle cx="66.5" cy="557.3" r="0.45"/><circle cx="84.4" cy="566.6" r="0.45"/><circle cx="86.3" cy="564.8" r="0.45"/><circle cx="77.9" cy="565.3" r="0.45"/><circle cx="90.1" cy="563.8" r="0.45"/><circle cx="87.8" cy="566.1" r="0.45"/><circle cx="72.5" cy="566.0" r="0.45"/><circle cx="72.1" cy="558.9" r="0.45"/><circle cx="90.6" cy="556.4" r="0.45"/><circle cx="76.6" cy="565.1" r="0.45"/><circle cx="81.1" cy="560.7" r="0.45"/><circle cx="70.7" cy="563.7" r="0.45"/><circle cx="82.1" cy="561.7" r="0.45"/><circle cx="70.4" cy="557.1" r="0.45"/><circle cx="78.0" cy="561.8" r="0.45"/><circle cx="84.5" cy="560.9" r="0.45"/><circle cx="85.1" cy="557.9" r="0.45"/><circle cx="74.7" cy="559.2" r="0.45"/><circle cx="76.9" cy="557.9" r="0.45"/><circle cx="75.4" cy="557.3" r="0.45"/><circle cx="79.3" cy="560.0" r="0.45"/><circle cx="77.6" cy="562.0" r="0.45"/><circle cx="81.5" cy="556.2" r="0.45"/><circle cx="79.2" cy="561.1" r="0.45"/><circle cx="69.1" cy="561.1" r="0.45"/><circle cx="81.9" cy="563.6" r="0.45"/><circle cx="93.5" cy="560.9" r="0.45"/><circle cx="79.1" cy="568.6" r="0.45"/><circle cx="73.4" cy="559.2" r="0.45"/><circle cx="74.5" cy="560.0" r="0.45"/><circle cx="77.8" cy="562.5" r="0.45"/><circle cx="72.2" cy="558.2" r="0.45"/><circle cx="77.6" cy="557.9" r="0.45"/><circle cx="71.7" cy="563.2" r="0.45"/></g>
<g fill="#5aa85a" opacity="0.9"><circle cx="81.4" cy="538.7" r="0.5"/><circle cx="79.4" cy="538.7" r="0.5"/><circle cx="79.4" cy="545.3" r="0.5"/><circle cx="82.6" cy="544.3" r="0.5"/><circle cx="82.0" cy="540.9" r="0.5"/><circle cx="81.7" cy="543.3" r="0.5"/><circle cx="81.6" cy="540.9" r="0.5"/><circle cx="79.9" cy="544.3" r="0.5"/><circle cx="82.1" cy="538.2" r="0.5"/><circle cx="81.2" cy="542.9" r="0.5"/><circle cx="82.2" cy="535.6" r="0.5"/><circle cx="79.5" cy="537.0" r="0.5"/><circle cx="79.7" cy="538.3" r="0.5"/><circle cx="82.7" cy="538.0" r="0.5"/><circle cx="82.5" cy="542.8" r="0.5"/><circle cx="82.8" cy="544.7" r="0.5"/><circle cx="82.7" cy="545.5" r="0.5"/><circle cx="82.4" cy="544.7" r="0.5"/><circle cx="83.1" cy="543.1" r="0.5"/><circle cx="80.8" cy="549.9" r="0.5"/><circle cx="80.8" cy="544.7" r="0.5"/><circle cx="81.1" cy="540.1" r="0.5"/><circle cx="80.2" cy="545.8" r="0.5"/><circle cx="81.2" cy="543.6" r="0.5"/><circle cx="79.0" cy="545.1" r="0.5"/><circle cx="80.5" cy="536.0" r="0.5"/><circle cx="83.8" cy="535.7" r="0.5"/><circle cx="81.9" cy="538.5" r="0.5"/><circle cx="80.3" cy="537.4" r="0.5"/><circle cx="83.3" cy="538.2" r="0.5"/><circle cx="80.6" cy="544.0" r="0.5"/><circle cx="81.0" cy="546.0" r="0.5"/><circle cx="80.4" cy="536.0" r="0.5"/><circle cx="82.2" cy="548.2" r="0.5"/><circle cx="82.3" cy="539.4" r="0.5"/><circle cx="83.2" cy="546.4" r="0.5"/><circle cx="81.0" cy="544.9" r="0.5"/></g>
<g fill="#2a8a2a" opacity="0.9"><circle cx="85.4" cy="556.2" r="0.45"/><circle cx="86.7" cy="557.3" r="0.45"/><circle cx="85.7" cy="556.1" r="0.45"/><circle cx="80.7" cy="554.8" r="0.45"/><circle cx="86.4" cy="554.8" r="0.45"/><circle cx="86.2" cy="555.7" r="0.45"/><circle cx="85.6" cy="556.1" r="0.45"/><circle cx="88.0" cy="556.7" r="0.45"/><circle cx="85.6" cy="554.3" r="0.45"/><circle cx="86.2" cy="554.4" r="0.45"/><circle cx="87.9" cy="555.0" r="0.45"/><circle cx="84.3" cy="555.8" r="0.45"/><circle cx="83.6" cy="556.7" r="0.45"/><circle cx="86.1" cy="555.0" r="0.45"/><circle cx="84.5" cy="558.7" r="0.45"/><circle cx="87.7" cy="556.8" r="0.45"/><circle cx="86.1" cy="558.2" r="0.45"/><circle cx="84.8" cy="555.6" r="0.45"/><circle cx="85.2" cy="554.5" r="0.45"/><circle cx="83.8" cy="558.7" r="0.45"/><circle cx="85.8" cy="554.7" r="0.45"/><circle cx="85.0" cy="555.3" r="0.45"/><circle cx="84.7" cy="555.9" r="0.45"/><circle cx="82.7" cy="553.4" r="0.45"/><circle cx="85.1" cy="555.7" r="0.45"/><circle cx="83.3" cy="555.9" r="0.45"/><circle cx="84.4" cy="556.3" r="0.45"/><circle cx="85.1" cy="557.6" r="0.45"/><circle cx="88.2" cy="557.0" r="0.45"/><circle cx="85.6" cy="557.2" r="0.45"/><circle cx="86.9" cy="556.7" r="0.45"/><circle cx="87.0" cy="555.5" r="0.45"/><circle cx="87.0" cy="556.8" r="0.45"/><circle cx="86.3" cy="555.8" r="0.45"/><circle cx="84.7" cy="556.9" r="0.45"/><circle cx="84.6" cy="554.5" r="0.45"/><circle cx="88.7" cy="557.7" r="0.45"/><circle cx="84.1" cy="558.0" r="0.45"/><circle cx="81.6" cy="556.9" r="0.45"/><circle cx="86.8" cy="556.4" r="0.45"/><circle cx="85.2" cy="557.1" r="0.45"/><circle cx="86.5" cy="554.4" r="0.45"/><circle cx="84.1" cy="557.5" r="0.45"/><circle cx="87.0" cy="554.4" r="0.45"/><circle cx="82.7" cy="556.7" r="0.45"/><circle cx="84.0" cy="555.0" r="0.45"/><circle cx="84.5" cy="556.4" r="0.45"/><circle cx="81.7" cy="557.2" r="0.45"/><circle cx="84.8" cy="557.3" r="0.45"/><circle cx="83.4" cy="554.8" r="0.45"/><circle cx="86.5" cy="557.5" r="0.45"/><circle cx="85.4" cy="555.6" r="0.45"/><circle cx="88.1" cy="557.6" r="0.45"/><circle cx="86.1" cy="555.7" r="0.45"/><circle cx="87.9" cy="557.0" r="0.45"/><circle cx="84.9" cy="558.1" r="0.45"/><circle cx="87.7" cy="556.4" r="0.45"/><circle cx="86.4" cy="557.1" r="0.45"/><circle cx="84.7" cy="554.3" r="0.45"/><circle cx="87.8" cy="553.7" r="0.45"/><circle cx="82.7" cy="554.0" r="0.45"/><circle cx="86.5" cy="557.5" r="0.45"/><circle cx="84.3" cy="557.9" r="0.45"/><circle cx="88.7" cy="558.0" r="0.45"/><circle cx="83.1" cy="557.9" r="0.45"/><circle cx="89.9" cy="554.7" r="0.45"/><circle cx="82.5" cy="557.9" r="0.45"/><circle cx="86.6" cy="556.0" r="0.45"/><circle cx="85.4" cy="553.6" r="0.45"/><circle cx="83.9" cy="556.3" r="0.45"/></g>
<g fill="#2a8a2a" opacity="0.9"><circle cx="97.9" cy="558.6" r="0.45"/><circle cx="100.5" cy="557.0" r="0.45"/><circle cx="94.7" cy="559.2" r="0.45"/><circle cx="87.4" cy="558.1" r="0.45"/><circle cx="90.3" cy="557.8" r="0.45"/><circle cx="105.8" cy="558.0" r="0.45"/><circle cx="92.6" cy="556.7" r="0.45"/><circle cx="87.1" cy="557.5" r="0.45"/><circle cx="82.1" cy="557.4" r="0.45"/><circle cx="95.9" cy="556.5" r="0.45"/><circle cx="90.6" cy="558.9" r="0.45"/><circle cx="102.3" cy="559.9" r="0.45"/><circle cx="101.8" cy="557.9" r="0.45"/><circle cx="93.9" cy="559.0" r="0.45"/><circle cx="99.1" cy="557.7" r="0.45"/><circle cx="105.5" cy="557.4" r="0.45"/><circle cx="96.2" cy="558.8" r="0.45"/><circle cx="98.0" cy="557.6" r="0.45"/><circle cx="101.2" cy="560.7" r="0.45"/><circle cx="93.3" cy="558.3" r="0.45"/><circle cx="97.7" cy="557.7" r="0.45"/><circle cx="104.8" cy="557.4" r="0.45"/><circle cx="105.0" cy="556.4" r="0.45"/><circle cx="95.9" cy="556.6" r="0.45"/><circle cx="97.3" cy="558.3" r="0.45"/><circle cx="98.4" cy="557.8" r="0.45"/><circle cx="93.7" cy="556.1" r="0.45"/><circle cx="100.1" cy="557.6" r="0.45"/><circle cx="101.9" cy="555.6" r="0.45"/><circle cx="93.7" cy="555.6" r="0.45"/><circle cx="101.5" cy="556.7" r="0.45"/><circle cx="89.2" cy="558.5" r="0.45"/><circle cx="94.7" cy="557.8" r="0.45"/><circle cx="94.6" cy="558.8" r="0.45"/><circle cx="96.8" cy="557.8" r="0.45"/><circle cx="95.1" cy="558.6" r="0.45"/><circle cx="101.7" cy="557.1" r="0.45"/><circle cx="100.1" cy="555.8" r="0.45"/><circle cx="90.6" cy="556.9" r="0.45"/><circle cx="90.9" cy="558.2" r="0.45"/><circle cx="87.2" cy="555.7" r="0.45"/><circle cx="96.3" cy="556.5" r="0.45"/><circle cx="95.5" cy="557.6" r="0.45"/><circle cx="91.3" cy="557.1" r="0.45"/><circle cx="100.1" cy="557.5" r="0.45"/><circle cx="95.5" cy="558.3" r="0.45"/><circle cx="90.9" cy="556.1" r="0.45"/><circle cx="93.1" cy="559.4" r="0.45"/><circle cx="98.7" cy="560.1" r="0.45"/><circle cx="100.9" cy="558.6" r="0.45"/><circle cx="92.3" cy="555.6" r="0.45"/><circle cx="82.9" cy="557.7" r="0.45"/><circle cx="88.7" cy="556.2" r="0.45"/><circle cx="98.4" cy="557.9" r="0.45"/><circle cx="87.6" cy="557.8" r="0.45"/><circle cx="103.2" cy="558.6" r="0.45"/><circle cx="91.1" cy="558.6" r="0.45"/><circle cx="83.6" cy="557.2" r="0.45"/><circle cx="92.5" cy="559.0" r="0.45"/><circle cx="88.1" cy="556.4" r="0.45"/><circle cx="93.2" cy="558.4" r="0.45"/><circle cx="87.0" cy="557.8" r="0.45"/><circle cx="93.0" cy="557.0" r="0.45"/><circle cx="87.7" cy="558.0" r="0.45"/><circle cx="95.9" cy="558.0" r="0.45"/><circle cx="96.1" cy="557.4" r="0.45"/><circle cx="90.0" cy="557.5" r="0.45"/><circle cx="99.7" cy="557.7" r="0.45"/><circle cx="98.2" cy="558.5" r="0.45"/><circle cx="97.1" cy="557.2" r="0.45"/><circle cx="89.5" cy="559.0" r="0.45"/><circle cx="94.1" cy="557.3" r="0.45"/><circle cx="95.6" cy="558.5" r="0.45"/><circle cx="100.1" cy="556.7" r="0.45"/><circle cx="94.7" cy="558.9" r="0.45"/><circle cx="91.6" cy="557.6" r="0.45"/><circle cx="90.2" cy="555.8" r="0.45"/><circle cx="87.6" cy="557.7" r="0.45"/><circle cx="96.9" cy="554.5" r="0.45"/><circle cx="93.6" cy="557.3" r="0.45"/><circle cx="86.2" cy="557.4" r="0.45"/><circle cx="90.6" cy="559.1" r="0.45"/><circle cx="89.4" cy="558.7" r="0.45"/><circle cx="88.3" cy="556.3" r="0.45"/><circle cx="103.4" cy="556.7" r="0.45"/><circle cx="92.6" cy="555.7" r="0.45"/><circle cx="96.0" cy="559.1" r="0.45"/><circle cx="93.5" cy="557.2" r="0.45"/><circle cx="95.1" cy="556.6" r="0.45"/><circle cx="87.7" cy="557.6" r="0.45"/><circle cx="93.2" cy="555.5" r="0.45"/><circle cx="81.1" cy="558.1" r="0.45"/><circle cx="87.7" cy="558.0" r="0.45"/><circle cx="100.3" cy="557.4" r="0.45"/><circle cx="91.6" cy="554.6" r="0.45"/><circle cx="104.0" cy="558.6" r="0.45"/><circle cx="90.7" cy="556.3" r="0.45"/><circle cx="97.9" cy="555.2" r="0.45"/><circle cx="99.2" cy="558.6" r="0.45"/><circle cx="88.0" cy="556.3" r="0.45"/><circle cx="105.4" cy="556.9" r="0.45"/><circle cx="96.0" cy="557.1" r="0.45"/><circle cx="83.1" cy="558.7" r="0.45"/><circle cx="104.5" cy="556.8" r="0.45"/><circle cx="89.8" cy="559.3" r="0.45"/><circle cx="86.3" cy="557.1" r="0.45"/><circle cx="87.2" cy="555.7" r="0.45"/><circle cx="91.4" cy="554.4" r="0.45"/><circle cx="88.0" cy="557.6" r="0.45"/><circle cx="90.8" cy="556.2" r="0.45"/><circle cx="109.5" cy="558.4" r="0.45"/><circle cx="92.0" cy="558.8" r="0.45"/><circle cx="98.8" cy="557.7" r="0.45"/><circle cx="99.4" cy="557.1" r="0.45"/><circle cx="91.7" cy="559.6" r="0.45"/><circle cx="95.5" cy="559.3" r="0.45"/><circle cx="83.4" cy="556.4" r="0.45"/><circle cx="89.7" cy="557.7" r="0.45"/><circle cx="94.7" cy="558.6" r="0.45"/><circle cx="98.0" cy="557.5" r="0.45"/></g>
<g fill="#2a8a2a" opacity="0.9"><circle cx="67.8" cy="565.5" r="0.45"/><circle cx="67.4" cy="550.2" r="0.45"/><circle cx="66.3" cy="565.0" r="0.45"/><circle cx="66.4" cy="568.8" r="0.45"/><circle cx="66.3" cy="562.3" r="0.45"/><circle cx="65.8" cy="561.4" r="0.45"/><circle cx="68.6" cy="568.9" r="0.45"/><circle cx="68.3" cy="565.3" r="0.45"/><circle cx="67.2" cy="555.8" r="0.45"/><circle cx="67.9" cy="558.9" r="0.45"/><circle cx="67.4" cy="561.5" r="0.45"/><circle cx="68.2" cy="558.8" r="0.45"/><circle cx="68.2" cy="562.1" r="0.45"/><circle cx="69.4" cy="561.4" r="0.45"/><circle cx="66.8" cy="552.9" r="0.45"/><circle cx="68.3" cy="562.2" r="0.45"/><circle cx="63.8" cy="564.3" r="0.45"/><circle cx="67.7" cy="560.4" r="0.45"/><circle cx="68.9" cy="561.5" r="0.45"/><circle cx="66.8" cy="564.0" r="0.45"/><circle cx="65.4" cy="564.7" r="0.45"/><circle cx="65.8" cy="563.2" r="0.45"/><circle cx="68.6" cy="560.2" r="0.45"/><circle cx="66.1" cy="570.1" r="0.45"/><circle cx="67.1" cy="567.2" r="0.45"/><circle cx="67.9" cy="564.2" r="0.45"/><circle cx="69.1" cy="561.9" r="0.45"/><circle cx="64.8" cy="560.9" r="0.45"/><circle cx="66.1" cy="556.6" r="0.45"/><circle cx="66.4" cy="564.1" r="0.45"/><circle cx="67.7" cy="562.5" r="0.45"/><circle cx="66.8" cy="562.4" r="0.45"/><circle cx="66.4" cy="558.0" r="0.45"/><circle cx="67.1" cy="566.3" r="0.45"/><circle cx="66.0" cy="562.2" r="0.45"/><circle cx="68.0" cy="557.4" r="0.45"/><circle cx="67.6" cy="562.9" r="0.45"/><circle cx="68.5" cy="557.8" r="0.45"/><circle cx="66.4" cy="569.6" r="0.45"/><circle cx="70.0" cy="565.0" r="0.45"/><circle cx="69.0" cy="559.1" r="0.45"/><circle cx="68.5" cy="563.6" r="0.45"/><circle cx="68.0" cy="556.3" r="0.45"/><circle cx="67.3" cy="565.5" r="0.45"/><circle cx="68.7" cy="564.4" r="0.45"/><circle cx="67.7" cy="566.9" r="0.45"/><circle cx="69.6" cy="555.4" r="0.45"/><circle cx="64.4" cy="562.4" r="0.45"/><circle cx="69.4" cy="571.1" r="0.45"/><circle cx="68.1" cy="557.7" r="0.45"/><circle cx="68.0" cy="559.2" r="0.45"/><circle cx="68.3" cy="561.5" r="0.45"/><circle cx="69.5" cy="557.6" r="0.45"/><circle cx="69.2" cy="558.8" r="0.45"/><circle cx="68.1" cy="563.8" r="0.45"/><circle cx="65.2" cy="552.9" r="0.45"/><circle cx="66.8" cy="560.7" r="0.45"/><circle cx="66.2" cy="565.8" r="0.45"/><circle cx="67.5" cy="565.1" r="0.45"/><circle cx="65.6" cy="561.5" r="0.45"/><circle cx="66.8" cy="567.1" r="0.45"/><circle cx="68.9" cy="559.8" r="0.45"/><circle cx="67.0" cy="550.4" r="0.45"/><circle cx="70.0" cy="564.0" r="0.45"/><circle cx="67.8" cy="563.9" r="0.45"/><circle cx="66.8" cy="553.7" r="0.45"/><circle cx="65.7" cy="558.2" r="0.45"/><circle cx="66.7" cy="556.8" r="0.45"/><circle cx="67.4" cy="565.3" r="0.45"/><circle cx="67.3" cy="562.9" r="0.45"/><circle cx="70.5" cy="558.4" r="0.45"/><circle cx="66.1" cy="566.2" r="0.45"/><circle cx="66.5" cy="570.6" r="0.45"/><circle cx="66.1" cy="562.1" r="0.45"/><circle cx="69.6" cy="554.4" r="0.45"/><circle cx="68.6" cy="563.6" r="0.45"/><circle cx="67.4" cy="569.0" r="0.45"/><circle cx="66.2" cy="565.3" r="0.45"/><circle cx="66.3" cy="568.5" r="0.45"/><circle cx="65.3" cy="561.9" r="0.45"/></g>
<g fill="#2a8a2a" opacity="0.9"><circle cx="73.6" cy="569.0" r="0.45"/><circle cx="81.1" cy="570.0" r="0.45"/><circle cx="79.0" cy="567.2" r="0.45"/><circle cx="71.2" cy="569.1" r="0.45"/><circle cx="77.9" cy="568.2" r="0.45"/><circle cx="77.8" cy="572.0" r="0.45"/><circle cx="76.6" cy="570.8" r="0.45"/><circle cx="74.3" cy="569.3" r="0.45"/><circle cx="76.0" cy="570.8" r="0.45"/><circle cx="83.4" cy="570.8" r="0.45"/><circle cx="72.6" cy="571.8" r="0.45"/><circle cx="71.1" cy="567.6" r="0.45"/><circle cx="74.9" cy="569.5" r="0.45"/><circle cx="79.2" cy="570.4" r="0.45"/><circle cx="69.7" cy="569.5" r="0.45"/><circle cx="73.6" cy="573.6" r="0.45"/><circle cx="69.9" cy="569.0" r="0.45"/><circle cx="82.1" cy="572.7" r="0.45"/><circle cx="74.4" cy="572.5" r="0.45"/><circle cx="75.6" cy="569.2" r="0.45"/><circle cx="75.6" cy="571.8" r="0.45"/><circle cx="83.3" cy="570.2" r="0.45"/><circle cx="69.7" cy="570.8" r="0.45"/><circle cx="73.8" cy="569.5" r="0.45"/><circle cx="78.1" cy="570.8" r="0.45"/><circle cx="70.1" cy="569.5" r="0.45"/><circle cx="82.9" cy="570.2" r="0.45"/><circle cx="84.9" cy="567.0" r="0.45"/><circle cx="70.8" cy="570.5" r="0.45"/><circle cx="71.3" cy="570.8" r="0.45"/><circle cx="76.4" cy="568.5" r="0.45"/><circle cx="85.0" cy="573.1" r="0.45"/><circle cx="67.8" cy="570.1" r="0.45"/><circle cx="69.6" cy="569.9" r="0.45"/><circle cx="73.8" cy="570.2" r="0.45"/><circle cx="81.5" cy="572.3" r="0.45"/><circle cx="74.5" cy="571.1" r="0.45"/><circle cx="79.3" cy="568.2" r="0.45"/><circle cx="76.4" cy="569.0" r="0.45"/><circle cx="81.7" cy="572.4" r="0.45"/><circle cx="77.6" cy="572.7" r="0.45"/><circle cx="74.7" cy="569.4" r="0.45"/><circle cx="82.7" cy="570.5" r="0.45"/><circle cx="77.7" cy="568.6" r="0.45"/><circle cx="79.6" cy="570.4" r="0.45"/><circle cx="75.4" cy="568.9" r="0.45"/><circle cx="72.3" cy="569.9" r="0.45"/><circle cx="76.8" cy="572.4" r="0.45"/><circle cx="67.4" cy="568.4" r="0.45"/><circle cx="71.3" cy="569.4" r="0.45"/><circle cx="71.9" cy="568.8" r="0.45"/><circle cx="72.7" cy="571.1" r="0.45"/><circle cx="74.0" cy="569.1" r="0.45"/><circle cx="79.0" cy="570.7" r="0.45"/><circle cx="71.2" cy="572.3" r="0.45"/><circle cx="72.8" cy="569.1" r="0.45"/><circle cx="77.8" cy="569.3" r="0.45"/><circle cx="71.1" cy="572.5" r="0.45"/><circle cx="73.7" cy="569.1" r="0.45"/><circle cx="76.9" cy="570.3" r="0.45"/><circle cx="66.4" cy="569.8" r="0.45"/><circle cx="78.4" cy="569.8" r="0.45"/><circle cx="78.2" cy="568.8" r="0.45"/><circle cx="80.1" cy="570.0" r="0.45"/><circle cx="72.3" cy="568.7" r="0.45"/><circle cx="80.5" cy="570.4" r="0.45"/><circle cx="74.0" cy="571.0" r="0.45"/><circle cx="75.2" cy="570.0" r="0.45"/><circle cx="77.6" cy="569.8" r="0.45"/><circle cx="80.5" cy="573.9" r="0.45"/><circle cx="67.6" cy="570.5" r="0.45"/><circle cx="73.9" cy="571.4" r="0.45"/><circle cx="66.3" cy="573.6" r="0.45"/><circle cx="79.9" cy="573.5" r="0.45"/><circle cx="81.6" cy="569.0" r="0.45"/><circle cx="75.2" cy="572.9" r="0.45"/><circle cx="81.5" cy="569.4" r="0.45"/><circle cx="77.3" cy="572.5" r="0.45"/><circle cx="82.4" cy="570.0" r="0.45"/><circle cx="78.0" cy="571.3" r="0.45"/></g>
<g fill="#2a8a2a" opacity="0.9"><circle cx="74.9" cy="526.7" r="0.45"/><circle cx="80.8" cy="527.0" r="0.45"/><circle cx="75.7" cy="528.4" r="0.45"/><circle cx="81.7" cy="527.7" r="0.45"/><circle cx="74.0" cy="526.1" r="0.45"/><circle cx="70.7" cy="526.3" r="0.45"/><circle cx="77.6" cy="525.5" r="0.45"/><circle cx="71.8" cy="525.8" r="0.45"/><circle cx="77.0" cy="526.5" r="0.45"/><circle cx="83.6" cy="528.6" r="0.45"/><circle cx="76.3" cy="526.9" r="0.45"/><circle cx="81.4" cy="526.0" r="0.45"/><circle cx="80.8" cy="525.5" r="0.45"/><circle cx="74.2" cy="527.4" r="0.45"/><circle cx="76.7" cy="525.1" r="0.45"/><circle cx="72.1" cy="527.2" r="0.45"/><circle cx="68.3" cy="529.1" r="0.45"/><circle cx="72.7" cy="527.2" r="0.45"/><circle cx="89.8" cy="526.7" r="0.45"/><circle cx="77.5" cy="527.7" r="0.45"/><circle cx="75.4" cy="525.8" r="0.45"/><circle cx="68.5" cy="527.3" r="0.45"/><circle cx="75.0" cy="528.6" r="0.45"/><circle cx="77.0" cy="527.8" r="0.45"/><circle cx="70.9" cy="526.6" r="0.45"/><circle cx="78.2" cy="526.6" r="0.45"/><circle cx="79.4" cy="526.5" r="0.45"/><circle cx="74.7" cy="527.5" r="0.45"/><circle cx="70.3" cy="530.1" r="0.45"/><circle cx="69.8" cy="528.7" r="0.45"/><circle cx="83.6" cy="526.7" r="0.45"/><circle cx="78.1" cy="528.2" r="0.45"/><circle cx="77.9" cy="527.8" r="0.45"/><circle cx="74.5" cy="527.6" r="0.45"/><circle cx="73.4" cy="525.7" r="0.45"/><circle cx="75.0" cy="527.9" r="0.45"/><circle cx="77.5" cy="527.5" r="0.45"/><circle cx="74.2" cy="527.2" r="0.45"/><circle cx="72.2" cy="526.9" r="0.45"/><circle cx="76.5" cy="526.1" r="0.45"/><circle cx="83.5" cy="524.7" r="0.45"/><circle cx="79.2" cy="526.6" r="0.45"/><circle cx="81.1" cy="526.4" r="0.45"/><circle cx="80.2" cy="526.1" r="0.45"/><circle cx="72.3" cy="526.8" r="0.45"/><circle cx="76.2" cy="525.9" r="0.45"/><circle cx="81.8" cy="525.7" r="0.45"/><circle cx="74.9" cy="527.1" r="0.45"/><circle cx="75.4" cy="528.2" r="0.45"/><circle cx="71.5" cy="528.2" r="0.45"/><circle cx="81.6" cy="527.0" r="0.45"/><circle cx="85.7" cy="525.1" r="0.45"/><circle cx="73.1" cy="525.3" r="0.45"/><circle cx="60.8" cy="524.3" r="0.45"/><circle cx="77.4" cy="525.7" r="0.45"/><circle cx="64.2" cy="527.1" r="0.45"/><circle cx="69.6" cy="526.5" r="0.45"/><circle cx="73.4" cy="528.7" r="0.45"/><circle cx="64.0" cy="527.2" r="0.45"/><circle cx="92.6" cy="527.0" r="0.45"/><circle cx="77.4" cy="526.9" r="0.45"/><circle cx="80.1" cy="527.5" r="0.45"/><circle cx="79.0" cy="525.6" r="0.45"/><circle cx="75.9" cy="527.6" r="0.45"/><circle cx="76.0" cy="527.6" r="0.45"/><circle cx="81.1" cy="528.6" r="0.45"/><circle cx="77.1" cy="527.7" r="0.45"/><circle cx="74.1" cy="526.6" r="0.45"/><circle cx="79.6" cy="525.5" r="0.45"/><circle cx="81.8" cy="525.7" r="0.45"/></g>
<g fill="#2a8a2a" opacity="0.9"><circle cx="68.9" cy="533.7" r="0.45"/><circle cx="68.0" cy="543.6" r="0.45"/><circle cx="66.9" cy="551.1" r="0.45"/><circle cx="67.0" cy="545.6" r="0.45"/><circle cx="68.7" cy="537.6" r="0.45"/><circle cx="69.4" cy="550.2" r="0.45"/><circle cx="69.2" cy="534.3" r="0.45"/><circle cx="69.0" cy="547.8" r="0.45"/><circle cx="67.8" cy="542.1" r="0.45"/><circle cx="70.5" cy="535.0" r="0.45"/><circle cx="68.8" cy="547.2" r="0.45"/><circle cx="68.3" cy="539.8" r="0.45"/><circle cx="68.7" cy="541.8" r="0.45"/><circle cx="67.7" cy="526.6" r="0.45"/><circle cx="70.3" cy="533.6" r="0.45"/><circle cx="67.8" cy="546.8" r="0.45"/><circle cx="68.3" cy="538.3" r="0.45"/><circle cx="67.6" cy="537.6" r="0.45"/><circle cx="69.4" cy="548.2" r="0.45"/><circle cx="69.9" cy="530.2" r="0.45"/><circle cx="68.6" cy="545.2" r="0.45"/><circle cx="68.0" cy="532.6" r="0.45"/><circle cx="68.6" cy="548.6" r="0.45"/><circle cx="67.6" cy="546.2" r="0.45"/><circle cx="69.8" cy="534.7" r="0.45"/><circle cx="67.5" cy="537.6" r="0.45"/><circle cx="68.6" cy="534.8" r="0.45"/><circle cx="69.1" cy="558.1" r="0.45"/><circle cx="70.1" cy="549.6" r="0.45"/><circle cx="68.9" cy="549.3" r="0.45"/><circle cx="68.2" cy="541.8" r="0.45"/><circle cx="70.3" cy="558.0" r="0.45"/><circle cx="69.6" cy="541.1" r="0.45"/><circle cx="68.9" cy="532.3" r="0.45"/><circle cx="69.7" cy="553.0" r="0.45"/><circle cx="69.8" cy="539.4" r="0.45"/><circle cx="68.7" cy="532.3" r="0.45"/><circle cx="70.6" cy="539.8" r="0.45"/><circle cx="70.4" cy="532.8" r="0.45"/><circle cx="69.9" cy="546.4" r="0.45"/><circle cx="68.8" cy="535.6" r="0.45"/><circle cx="72.1" cy="552.9" r="0.45"/><circle cx="70.5" cy="534.6" r="0.45"/><circle cx="70.7" cy="544.8" r="0.45"/><circle cx="71.1" cy="539.0" r="0.45"/><circle cx="68.7" cy="531.6" r="0.45"/><circle cx="67.2" cy="526.5" r="0.45"/><circle cx="68.5" cy="540.0" r="0.45"/><circle cx="70.8" cy="555.6" r="0.45"/><circle cx="68.3" cy="521.9" r="0.45"/><circle cx="69.3" cy="543.0" r="0.45"/><circle cx="68.5" cy="532.3" r="0.45"/><circle cx="68.2" cy="541.3" r="0.45"/><circle cx="69.2" cy="526.1" r="0.45"/><circle cx="68.8" cy="531.6" r="0.45"/><circle cx="67.8" cy="540.5" r="0.45"/><circle cx="68.0" cy="541.5" r="0.45"/><circle cx="66.0" cy="544.0" r="0.45"/><circle cx="69.2" cy="535.9" r="0.45"/><circle cx="67.9" cy="527.0" r="0.45"/><circle cx="67.6" cy="553.9" r="0.45"/><circle cx="69.4" cy="538.9" r="0.45"/><circle cx="68.2" cy="534.5" r="0.45"/><circle cx="67.5" cy="542.1" r="0.45"/><circle cx="70.1" cy="531.3" r="0.45"/><circle cx="69.7" cy="536.1" r="0.45"/><circle cx="69.3" cy="532.4" r="0.45"/><circle cx="69.9" cy="553.1" r="0.45"/><circle cx="68.2" cy="537.3" r="0.45"/><circle cx="70.1" cy="534.2" r="0.45"/></g>
<g fill="#463c98" opacity="0.95"><circle cx="86.9" cy="550.1" r="0.5"/><circle cx="86.5" cy="542.7" r="0.5"/><circle cx="87.4" cy="539.9" r="0.5"/><circle cx="86.9" cy="537.1" r="0.5"/><circle cx="86.2" cy="550.0" r="0.5"/><circle cx="85.8" cy="550.7" r="0.5"/><circle cx="87.5" cy="547.2" r="0.5"/><circle cx="87.4" cy="546.5" r="0.5"/><circle cx="91.5" cy="531.2" r="0.5"/><circle cx="86.8" cy="546.0" r="0.5"/><circle cx="90.1" cy="536.7" r="0.5"/><circle cx="87.8" cy="548.7" r="0.5"/><circle cx="86.9" cy="544.0" r="0.5"/><circle cx="88.2" cy="549.4" r="0.5"/><circle cx="88.5" cy="546.1" r="0.5"/><circle cx="86.7" cy="541.2" r="0.5"/><circle cx="91.3" cy="536.9" r="0.5"/><circle cx="87.2" cy="540.1" r="0.5"/><circle cx="87.9" cy="539.0" r="0.5"/><circle cx="88.9" cy="539.8" r="0.5"/><circle cx="86.8" cy="535.4" r="0.5"/><circle cx="87.0" cy="535.2" r="0.5"/><circle cx="87.3" cy="546.6" r="0.5"/><circle cx="89.1" cy="545.0" r="0.5"/><circle cx="87.2" cy="549.5" r="0.5"/><circle cx="88.5" cy="541.5" r="0.5"/><circle cx="88.0" cy="544.6" r="0.5"/><circle cx="86.4" cy="551.5" r="0.5"/><circle cx="86.3" cy="543.6" r="0.5"/><circle cx="87.4" cy="544.9" r="0.5"/><circle cx="90.3" cy="541.3" r="0.5"/><circle cx="88.7" cy="546.1" r="0.5"/><circle cx="88.2" cy="537.6" r="0.5"/><circle cx="87.8" cy="534.8" r="0.5"/><circle cx="89.6" cy="552.1" r="0.5"/><circle cx="88.1" cy="546.9" r="0.5"/><circle cx="87.7" cy="533.9" r="0.5"/><circle cx="87.3" cy="549.1" r="0.5"/><circle cx="87.7" cy="539.4" r="0.5"/><circle cx="91.9" cy="531.9" r="0.5"/><circle cx="87.8" cy="547.7" r="0.5"/><circle cx="86.9" cy="545.3" r="0.5"/><circle cx="89.7" cy="540.7" r="0.5"/><circle cx="88.8" cy="538.6" r="0.5"/><circle cx="88.6" cy="546.8" r="0.5"/><circle cx="89.1" cy="538.2" r="0.5"/><circle cx="88.1" cy="536.5" r="0.5"/><circle cx="87.8" cy="537.2" r="0.5"/><circle cx="88.1" cy="548.8" r="0.5"/><circle cx="89.5" cy="540.9" r="0.5"/><circle cx="90.0" cy="545.6" r="0.5"/><circle cx="90.0" cy="543.7" r="0.5"/><circle cx="86.0" cy="544.3" r="0.5"/><circle cx="86.3" cy="538.4" r="0.5"/><circle cx="89.9" cy="537.7" r="0.5"/><circle cx="87.4" cy="535.3" r="0.5"/><circle cx="88.4" cy="550.0" r="0.5"/><circle cx="87.7" cy="547.7" r="0.5"/><circle cx="88.9" cy="542.8" r="0.5"/><circle cx="89.0" cy="534.4" r="0.5"/><circle cx="87.5" cy="544.7" r="0.5"/><circle cx="88.8" cy="551.1" r="0.5"/><circle cx="87.4" cy="539.0" r="0.5"/><circle cx="87.0" cy="542.1" r="0.5"/><circle cx="86.3" cy="536.0" r="0.5"/><circle cx="88.2" cy="537.1" r="0.5"/><circle cx="87.7" cy="543.8" r="0.5"/><circle cx="87.6" cy="549.6" r="0.5"/><circle cx="88.4" cy="544.9" r="0.5"/><circle cx="90.1" cy="541.8" r="0.5"/><circle cx="89.3" cy="538.3" r="0.5"/><circle cx="86.4" cy="546.4" r="0.5"/><circle cx="91.7" cy="541.5" r="0.5"/><circle cx="89.5" cy="552.3" r="0.5"/><circle cx="86.9" cy="540.1" r="0.5"/><circle cx="87.4" cy="539.9" r="0.5"/><circle cx="87.7" cy="537.0" r="0.5"/><circle cx="87.3" cy="543.0" r="0.5"/><circle cx="91.1" cy="536.1" r="0.5"/><circle cx="87.9" cy="539.4" r="0.5"/><circle cx="87.7" cy="541.3" r="0.5"/><circle cx="86.4" cy="542.5" r="0.5"/><circle cx="86.5" cy="544.8" r="0.5"/><circle cx="89.3" cy="546.5" r="0.5"/><circle cx="87.9" cy="547.4" r="0.5"/><circle cx="87.4" cy="546.5" r="0.5"/><circle cx="92.1" cy="546.1" r="0.5"/><circle cx="91.0" cy="548.0" r="0.5"/><circle cx="87.1" cy="545.3" r="0.5"/><circle cx="86.1" cy="546.8" r="0.5"/><circle cx="89.7" cy="546.4" r="0.5"/><circle cx="89.1" cy="544.2" r="0.5"/><circle cx="87.1" cy="533.7" r="0.5"/><circle cx="88.5" cy="549.1" r="0.5"/><circle cx="89.1" cy="542.4" r="0.5"/><circle cx="88.7" cy="546.8" r="0.5"/><circle cx="88.8" cy="540.2" r="0.5"/><circle cx="85.9" cy="532.8" r="0.5"/><circle cx="87.0" cy="541.5" r="0.5"/><circle cx="86.4" cy="544.6" r="0.5"/><circle cx="85.6" cy="545.0" r="0.5"/><circle cx="90.2" cy="542.7" r="0.5"/><circle cx="86.8" cy="543.8" r="0.5"/><circle cx="87.2" cy="540.2" r="0.5"/><circle cx="88.2" cy="549.3" r="0.5"/><circle cx="87.4" cy="544.1" r="0.5"/><circle cx="86.3" cy="543.7" r="0.5"/><circle cx="86.2" cy="543.9" r="0.5"/><circle cx="86.7" cy="541.9" r="0.5"/><circle cx="87.1" cy="538.7" r="0.5"/><circle cx="87.4" cy="539.1" r="0.5"/><circle cx="87.1" cy="541.2" r="0.5"/><circle cx="85.9" cy="544.6" r="0.5"/><circle cx="88.6" cy="544.3" r="0.5"/><circle cx="89.0" cy="534.2" r="0.5"/><circle cx="88.1" cy="547.0" r="0.5"/><circle cx="89.6" cy="551.5" r="0.5"/><circle cx="88.3" cy="548.5" r="0.5"/><circle cx="88.1" cy="547.9" r="0.5"/><circle cx="85.7" cy="539.2" r="0.5"/><circle cx="89.8" cy="545.7" r="0.5"/><circle cx="85.8" cy="542.7" r="0.5"/><circle cx="89.2" cy="534.2" r="0.5"/><circle cx="87.6" cy="545.4" r="0.5"/><circle cx="87.4" cy="544.2" r="0.5"/><circle cx="86.6" cy="539.2" r="0.5"/><circle cx="87.7" cy="533.6" r="0.5"/><circle cx="87.5" cy="535.6" r="0.5"/><circle cx="86.5" cy="551.7" r="0.5"/><circle cx="87.1" cy="541.0" r="0.5"/><circle cx="89.0" cy="539.4" r="0.5"/><circle cx="86.8" cy="543.3" r="0.5"/><circle cx="88.7" cy="538.6" r="0.5"/><circle cx="87.7" cy="533.4" r="0.5"/><circle cx="85.7" cy="543.1" r="0.5"/><circle cx="86.7" cy="544.9" r="0.5"/><circle cx="88.9" cy="532.2" r="0.5"/><circle cx="88.2" cy="544.3" r="0.5"/><circle cx="87.2" cy="544.4" r="0.5"/><circle cx="86.4" cy="545.9" r="0.5"/></g>
<g fill="#7a70c0" opacity="0.9"><circle cx="93.0" cy="547.5" r="0.45"/><circle cx="88.2" cy="535.1" r="0.45"/><circle cx="90.3" cy="543.7" r="0.45"/><circle cx="89.1" cy="547.1" r="0.45"/><circle cx="96.3" cy="540.2" r="0.45"/><circle cx="95.2" cy="532.6" r="0.45"/><circle cx="88.8" cy="545.1" r="0.45"/><circle cx="94.4" cy="533.7" r="0.45"/><circle cx="90.4" cy="544.3" r="0.45"/><circle cx="91.7" cy="537.0" r="0.45"/><circle cx="91.8" cy="546.5" r="0.45"/><circle cx="90.3" cy="534.0" r="0.45"/><circle cx="95.7" cy="538.9" r="0.45"/><circle cx="85.8" cy="543.3" r="0.45"/><circle cx="94.6" cy="548.1" r="0.45"/><circle cx="94.7" cy="541.6" r="0.45"/><circle cx="92.9" cy="544.4" r="0.45"/><circle cx="96.8" cy="543.7" r="0.45"/><circle cx="87.3" cy="547.8" r="0.45"/><circle cx="92.4" cy="540.8" r="0.45"/><circle cx="91.2" cy="546.4" r="0.45"/><circle cx="91.9" cy="543.4" r="0.45"/><circle cx="91.9" cy="547.5" r="0.45"/><circle cx="88.5" cy="544.2" r="0.45"/><circle cx="93.4" cy="541.7" r="0.45"/><circle cx="96.3" cy="551.7" r="0.45"/><circle cx="91.1" cy="549.3" r="0.45"/><circle cx="95.6" cy="538.9" r="0.45"/><circle cx="94.4" cy="545.2" r="0.45"/></g>
<g fill="#c09090" opacity="0.8"><circle cx="88.9" cy="527.6" r="0.4"/><circle cx="89.4" cy="540.9" r="0.4"/><circle cx="92.8" cy="537.3" r="0.4"/><circle cx="91.3" cy="529.7" r="0.4"/><circle cx="88.2" cy="535.8" r="0.4"/><circle cx="89.3" cy="528.9" r="0.4"/><circle cx="86.1" cy="541.8" r="0.4"/><circle cx="89.7" cy="537.3" r="0.4"/></g>
<rect x="85.2" y="498.3" width="16.5" height="55.0" fill="none" stroke="#2e9be0" stroke-width="1.05"/>
<line x1="101.70" y1="512.50" x2="120.80" y2="512.50" stroke="#2e9be0" stroke-width="1.05" />
<path d="M124.6 512.6 L119.8 510.2 L119.8 515.0 Z" fill="#2e9be0"/>
<text x="13.30" y="541.30" font-size="9.8" fill="#141414" stroke="#141414" stroke-width="0.22" text-anchor="middle" textLength="13.7" lengthAdjust="spacingAndGlyphs" transform="rotate(-90 13.30 541.30)" >VEC</text>
<text x="66.50" y="601.20" font-size="9.8" fill="#141414" stroke="#141414" stroke-width="0.22" text-anchor="middle" textLength="17.7" lengthAdjust="spacingAndGlyphs" >CD41</text>
<g fill="#444494" opacity="0.9"><circle cx="194.0" cy="526.6" r="0.5"/><circle cx="198.2" cy="534.5" r="0.5"/><circle cx="198.3" cy="529.1" r="0.5"/><circle cx="195.3" cy="534.5" r="0.5"/><circle cx="195.6" cy="539.5" r="0.5"/><circle cx="199.1" cy="529.3" r="0.5"/><circle cx="198.5" cy="532.0" r="0.5"/><circle cx="198.1" cy="534.9" r="0.5"/><circle cx="195.8" cy="534.3" r="0.5"/><circle cx="200.5" cy="538.4" r="0.5"/><circle cx="197.2" cy="531.4" r="0.5"/><circle cx="201.7" cy="539.9" r="0.5"/><circle cx="197.2" cy="536.7" r="0.5"/><circle cx="196.5" cy="536.4" r="0.5"/><circle cx="198.7" cy="534.1" r="0.5"/><circle cx="196.4" cy="531.1" r="0.5"/><circle cx="195.1" cy="533.1" r="0.5"/><circle cx="197.4" cy="522.5" r="0.5"/><circle cx="198.2" cy="528.6" r="0.5"/><circle cx="198.5" cy="539.2" r="0.5"/><circle cx="199.7" cy="536.7" r="0.5"/><circle cx="194.9" cy="543.0" r="0.5"/><circle cx="195.5" cy="541.0" r="0.5"/><circle cx="194.7" cy="533.1" r="0.5"/><circle cx="194.0" cy="533.3" r="0.5"/><circle cx="197.8" cy="538.2" r="0.5"/><circle cx="193.0" cy="531.4" r="0.5"/><circle cx="194.7" cy="538.8" r="0.5"/><circle cx="197.2" cy="538.8" r="0.5"/><circle cx="196.5" cy="541.8" r="0.5"/><circle cx="197.0" cy="536.9" r="0.5"/><circle cx="198.0" cy="534.8" r="0.5"/><circle cx="194.8" cy="532.1" r="0.5"/><circle cx="199.7" cy="540.3" r="0.5"/><circle cx="195.7" cy="536.2" r="0.5"/><circle cx="192.9" cy="538.7" r="0.5"/><circle cx="196.2" cy="522.2" r="0.5"/><circle cx="194.4" cy="531.7" r="0.5"/><circle cx="195.5" cy="533.0" r="0.5"/><circle cx="194.6" cy="524.3" r="0.5"/><circle cx="199.9" cy="528.2" r="0.5"/><circle cx="193.9" cy="525.8" r="0.5"/><circle cx="195.6" cy="539.2" r="0.5"/><circle cx="199.0" cy="543.0" r="0.5"/><circle cx="194.9" cy="532.8" r="0.5"/><circle cx="199.3" cy="532.3" r="0.5"/><circle cx="197.3" cy="542.4" r="0.5"/><circle cx="194.1" cy="528.0" r="0.5"/><circle cx="197.7" cy="530.0" r="0.5"/><circle cx="195.8" cy="539.4" r="0.5"/><circle cx="197.3" cy="540.4" r="0.5"/><circle cx="194.8" cy="533.5" r="0.5"/><circle cx="197.2" cy="535.1" r="0.5"/><circle cx="192.0" cy="527.9" r="0.5"/><circle cx="197.5" cy="523.7" r="0.5"/><circle cx="192.7" cy="529.3" r="0.5"/><circle cx="195.3" cy="537.2" r="0.5"/><circle cx="197.7" cy="530.8" r="0.5"/><circle cx="194.3" cy="528.5" r="0.5"/><circle cx="199.0" cy="535.1" r="0.5"/><circle cx="197.6" cy="523.0" r="0.5"/><circle cx="192.2" cy="538.2" r="0.5"/><circle cx="201.0" cy="535.6" r="0.5"/><circle cx="194.6" cy="524.7" r="0.5"/><circle cx="193.5" cy="535.1" r="0.5"/><circle cx="197.0" cy="529.8" r="0.5"/><circle cx="197.8" cy="540.6" r="0.5"/><circle cx="197.4" cy="530.5" r="0.5"/><circle cx="193.8" cy="531.3" r="0.5"/><circle cx="194.7" cy="541.9" r="0.5"/><circle cx="195.5" cy="541.5" r="0.5"/><circle cx="195.2" cy="534.5" r="0.5"/><circle cx="197.5" cy="532.3" r="0.5"/><circle cx="196.7" cy="533.7" r="0.5"/><circle cx="196.0" cy="533.9" r="0.5"/><circle cx="199.2" cy="542.8" r="0.5"/><circle cx="196.2" cy="540.9" r="0.5"/><circle cx="196.4" cy="533.8" r="0.5"/><circle cx="197.4" cy="533.1" r="0.5"/><circle cx="198.6" cy="531.4" r="0.5"/><circle cx="196.3" cy="534.6" r="0.5"/><circle cx="195.1" cy="529.6" r="0.5"/><circle cx="197.3" cy="537.9" r="0.5"/><circle cx="195.8" cy="528.6" r="0.5"/><circle cx="195.0" cy="531.8" r="0.5"/><circle cx="195.7" cy="532.5" r="0.5"/><circle cx="200.8" cy="527.6" r="0.5"/><circle cx="194.1" cy="530.4" r="0.5"/><circle cx="193.4" cy="538.0" r="0.5"/><circle cx="193.3" cy="529.3" r="0.5"/><circle cx="194.2" cy="534.8" r="0.5"/><circle cx="196.1" cy="529.9" r="0.5"/><circle cx="195.4" cy="536.1" r="0.5"/><circle cx="197.5" cy="542.6" r="0.5"/><circle cx="194.9" cy="540.6" r="0.5"/><circle cx="201.1" cy="536.4" r="0.5"/><circle cx="192.7" cy="534.6" r="0.5"/><circle cx="198.7" cy="537.2" r="0.5"/><circle cx="197.0" cy="529.2" r="0.5"/><circle cx="198.1" cy="535.7" r="0.5"/><circle cx="196.7" cy="524.6" r="0.5"/><circle cx="198.1" cy="534.7" r="0.5"/><circle cx="197.9" cy="530.9" r="0.5"/><circle cx="200.1" cy="538.2" r="0.5"/><circle cx="197.3" cy="528.1" r="0.5"/><circle cx="195.1" cy="525.1" r="0.5"/><circle cx="197.0" cy="530.2" r="0.5"/><circle cx="195.7" cy="521.8" r="0.5"/><circle cx="196.9" cy="527.1" r="0.5"/><circle cx="191.5" cy="541.6" r="0.5"/><circle cx="200.3" cy="532.6" r="0.5"/><circle cx="191.7" cy="532.6" r="0.5"/><circle cx="198.1" cy="528.8" r="0.5"/><circle cx="198.3" cy="538.1" r="0.5"/><circle cx="197.6" cy="536.4" r="0.5"/><circle cx="193.9" cy="530.5" r="0.5"/><circle cx="193.8" cy="525.7" r="0.5"/><circle cx="198.1" cy="531.6" r="0.5"/><circle cx="198.2" cy="531.7" r="0.5"/><circle cx="194.2" cy="539.8" r="0.5"/><circle cx="198.9" cy="532.1" r="0.5"/><circle cx="197.5" cy="524.0" r="0.5"/><circle cx="195.1" cy="539.4" r="0.5"/><circle cx="196.7" cy="532.6" r="0.5"/><circle cx="199.5" cy="540.1" r="0.5"/><circle cx="194.2" cy="530.9" r="0.5"/><circle cx="196.9" cy="527.8" r="0.5"/><circle cx="197.6" cy="536.6" r="0.5"/><circle cx="196.5" cy="525.9" r="0.5"/><circle cx="196.0" cy="533.0" r="0.5"/><circle cx="197.2" cy="533.0" r="0.5"/><circle cx="195.6" cy="541.7" r="0.5"/><circle cx="199.4" cy="530.1" r="0.5"/><circle cx="193.6" cy="538.6" r="0.5"/><circle cx="194.9" cy="527.3" r="0.5"/><circle cx="196.9" cy="526.8" r="0.5"/><circle cx="194.6" cy="532.1" r="0.5"/><circle cx="196.5" cy="530.7" r="0.5"/><circle cx="198.9" cy="537.0" r="0.5"/><circle cx="200.6" cy="535.9" r="0.5"/><circle cx="197.2" cy="538.3" r="0.5"/><circle cx="196.1" cy="538.7" r="0.5"/><circle cx="195.2" cy="530.8" r="0.5"/><circle cx="190.6" cy="529.3" r="0.5"/><circle cx="197.2" cy="535.8" r="0.5"/><circle cx="196.7" cy="535.2" r="0.5"/><circle cx="201.8" cy="534.0" r="0.5"/><circle cx="196.9" cy="532.7" r="0.5"/><circle cx="197.7" cy="527.3" r="0.5"/><circle cx="197.5" cy="543.0" r="0.5"/><circle cx="198.6" cy="537.8" r="0.5"/><circle cx="194.7" cy="526.2" r="0.5"/><circle cx="196.4" cy="535.8" r="0.5"/><circle cx="195.1" cy="529.9" r="0.5"/><circle cx="193.5" cy="528.0" r="0.5"/><circle cx="199.8" cy="534.6" r="0.5"/><circle cx="198.5" cy="532.3" r="0.5"/><circle cx="194.5" cy="531.0" r="0.5"/><circle cx="197.4" cy="530.6" r="0.5"/><circle cx="198.4" cy="536.5" r="0.5"/><circle cx="193.6" cy="535.2" r="0.5"/><circle cx="197.7" cy="544.0" r="0.5"/><circle cx="194.2" cy="531.9" r="0.5"/><circle cx="196.3" cy="531.6" r="0.5"/><circle cx="200.0" cy="528.5" r="0.5"/><circle cx="196.2" cy="538.5" r="0.5"/><circle cx="200.1" cy="535.2" r="0.5"/><circle cx="199.2" cy="531.9" r="0.5"/><circle cx="198.8" cy="532.2" r="0.5"/><circle cx="199.2" cy="525.9" r="0.5"/><circle cx="198.5" cy="530.5" r="0.5"/><circle cx="195.7" cy="532.9" r="0.5"/><circle cx="197.2" cy="532.4" r="0.5"/><circle cx="193.7" cy="529.7" r="0.5"/><circle cx="197.2" cy="537.1" r="0.5"/><circle cx="196.2" cy="533.6" r="0.5"/><circle cx="194.6" cy="535.9" r="0.5"/><circle cx="195.6" cy="525.4" r="0.5"/><circle cx="200.5" cy="529.7" r="0.5"/><circle cx="196.2" cy="539.9" r="0.5"/><circle cx="194.9" cy="524.7" r="0.5"/><circle cx="197.6" cy="536.5" r="0.5"/><circle cx="194.9" cy="530.1" r="0.5"/><circle cx="198.3" cy="530.4" r="0.5"/><circle cx="196.1" cy="531.2" r="0.5"/><circle cx="201.0" cy="525.0" r="0.5"/><circle cx="198.3" cy="532.0" r="0.5"/><circle cx="199.4" cy="520.6" r="0.5"/><circle cx="197.0" cy="534.2" r="0.5"/><circle cx="192.9" cy="520.2" r="0.5"/><circle cx="200.4" cy="534.8" r="0.5"/><circle cx="195.0" cy="528.2" r="0.5"/><circle cx="197.9" cy="537.6" r="0.5"/><circle cx="194.8" cy="533.0" r="0.5"/><circle cx="199.2" cy="528.2" r="0.5"/><circle cx="197.8" cy="539.0" r="0.5"/><circle cx="192.1" cy="526.2" r="0.5"/><circle cx="200.9" cy="531.8" r="0.5"/><circle cx="198.5" cy="534.8" r="0.5"/><circle cx="198.4" cy="539.9" r="0.5"/><circle cx="199.9" cy="537.6" r="0.5"/><circle cx="193.9" cy="528.2" r="0.5"/><circle cx="200.5" cy="529.6" r="0.5"/><circle cx="196.0" cy="526.0" r="0.5"/><circle cx="193.8" cy="531.3" r="0.5"/><circle cx="197.7" cy="533.6" r="0.5"/><circle cx="195.4" cy="528.2" r="0.5"/><circle cx="192.2" cy="535.9" r="0.5"/><circle cx="193.6" cy="538.3" r="0.5"/><circle cx="197.7" cy="524.1" r="0.5"/><circle cx="196.6" cy="539.8" r="0.5"/><circle cx="193.4" cy="534.4" r="0.5"/><circle cx="197.5" cy="534.7" r="0.5"/><circle cx="196.4" cy="541.8" r="0.5"/><circle cx="196.7" cy="528.2" r="0.5"/><circle cx="194.4" cy="529.7" r="0.5"/><circle cx="194.6" cy="532.1" r="0.5"/><circle cx="193.2" cy="543.5" r="0.5"/><circle cx="197.1" cy="531.3" r="0.5"/><circle cx="199.5" cy="539.8" r="0.5"/><circle cx="193.4" cy="535.5" r="0.5"/><circle cx="193.9" cy="528.9" r="0.5"/><circle cx="197.4" cy="531.4" r="0.5"/><circle cx="197.4" cy="530.0" r="0.5"/><circle cx="197.9" cy="534.9" r="0.5"/><circle cx="192.4" cy="532.2" r="0.5"/><circle cx="191.2" cy="526.6" r="0.5"/><circle cx="197.1" cy="537.5" r="0.5"/><circle cx="193.7" cy="530.0" r="0.5"/><circle cx="195.4" cy="527.4" r="0.5"/><circle cx="199.4" cy="538.2" r="0.5"/><circle cx="196.5" cy="531.2" r="0.5"/><circle cx="196.4" cy="532.5" r="0.5"/><circle cx="195.1" cy="526.6" r="0.5"/><circle cx="196.0" cy="535.1" r="0.5"/><circle cx="196.2" cy="540.0" r="0.5"/><circle cx="192.4" cy="531.1" r="0.5"/><circle cx="197.7" cy="539.1" r="0.5"/><circle cx="196.1" cy="534.4" r="0.5"/><circle cx="196.7" cy="535.2" r="0.5"/></g>
<g fill="#4aa84a" opacity="0.9"><circle cx="203.8" cy="535.4" r="0.4"/><circle cx="205.6" cy="533.1" r="0.4"/><circle cx="203.6" cy="527.7" r="0.4"/><circle cx="201.8" cy="533.7" r="0.4"/><circle cx="204.9" cy="532.6" r="0.4"/><circle cx="207.2" cy="531.4" r="0.4"/><circle cx="204.2" cy="532.0" r="0.4"/><circle cx="206.7" cy="533.3" r="0.4"/><circle cx="201.0" cy="530.3" r="0.4"/><circle cx="208.9" cy="532.2" r="0.4"/><circle cx="205.2" cy="539.7" r="0.4"/><circle cx="203.1" cy="530.4" r="0.4"/><circle cx="206.3" cy="527.6" r="0.4"/><circle cx="204.8" cy="537.5" r="0.4"/><circle cx="201.6" cy="522.8" r="0.4"/><circle cx="205.3" cy="533.9" r="0.4"/><circle cx="205.0" cy="527.2" r="0.4"/><circle cx="202.4" cy="537.4" r="0.4"/><circle cx="204.0" cy="535.0" r="0.4"/><circle cx="202.5" cy="535.3" r="0.4"/><circle cx="204.1" cy="539.1" r="0.4"/><circle cx="204.5" cy="537.0" r="0.4"/><circle cx="200.8" cy="537.8" r="0.4"/><circle cx="205.8" cy="521.8" r="0.4"/><circle cx="206.0" cy="526.9" r="0.4"/><circle cx="204.9" cy="530.2" r="0.4"/><circle cx="202.0" cy="530.6" r="0.4"/><circle cx="205.1" cy="531.9" r="0.4"/><circle cx="205.1" cy="534.0" r="0.4"/><circle cx="201.6" cy="542.4" r="0.4"/><circle cx="202.1" cy="532.2" r="0.4"/><circle cx="206.6" cy="542.8" r="0.4"/><circle cx="204.2" cy="540.9" r="0.4"/><circle cx="204.8" cy="528.1" r="0.4"/><circle cx="202.2" cy="534.5" r="0.4"/><circle cx="206.2" cy="530.8" r="0.4"/><circle cx="202.4" cy="528.8" r="0.4"/></g>
<g fill="#7070b8" opacity="0.8"><circle cx="195.8" cy="551.3" r="0.4"/><circle cx="199.0" cy="560.2" r="0.4"/><circle cx="189.7" cy="555.4" r="0.4"/><circle cx="203.6" cy="553.1" r="0.4"/><circle cx="200.8" cy="555.4" r="0.4"/><circle cx="202.8" cy="550.0" r="0.4"/><circle cx="190.9" cy="553.1" r="0.4"/><circle cx="197.5" cy="556.8" r="0.4"/><circle cx="207.3" cy="558.1" r="0.4"/><circle cx="191.6" cy="560.1" r="0.4"/><circle cx="196.6" cy="551.2" r="0.4"/><circle cx="194.8" cy="553.3" r="0.4"/><circle cx="199.8" cy="555.0" r="0.4"/><circle cx="202.3" cy="552.7" r="0.4"/><circle cx="205.6" cy="567.5" r="0.4"/><circle cx="199.4" cy="563.1" r="0.4"/><circle cx="196.8" cy="558.7" r="0.4"/><circle cx="202.8" cy="551.3" r="0.4"/><circle cx="195.2" cy="553.7" r="0.4"/><circle cx="201.5" cy="555.9" r="0.4"/><circle cx="196.3" cy="555.1" r="0.4"/><circle cx="194.5" cy="561.6" r="0.4"/><circle cx="191.9" cy="556.8" r="0.4"/><circle cx="196.3" cy="556.7" r="0.4"/><circle cx="194.2" cy="552.3" r="0.4"/><circle cx="200.6" cy="559.1" r="0.4"/><circle cx="193.0" cy="548.8" r="0.4"/><circle cx="194.9" cy="557.3" r="0.4"/><circle cx="192.2" cy="551.2" r="0.4"/><circle cx="192.9" cy="560.5" r="0.4"/><circle cx="199.6" cy="556.5" r="0.4"/><circle cx="198.1" cy="559.0" r="0.4"/><circle cx="198.1" cy="558.1" r="0.4"/><circle cx="202.8" cy="552.8" r="0.4"/><circle cx="190.6" cy="556.4" r="0.4"/><circle cx="194.9" cy="565.8" r="0.4"/><circle cx="196.5" cy="550.7" r="0.4"/><circle cx="197.1" cy="556.0" r="0.4"/><circle cx="204.8" cy="557.8" r="0.4"/><circle cx="202.4" cy="557.1" r="0.4"/><circle cx="192.2" cy="555.4" r="0.4"/></g>
<g fill="#d0a0c8" opacity="0.8"><circle cx="173.8" cy="578.1" r="0.35"/><circle cx="187.6" cy="556.2" r="0.35"/><circle cx="163.6" cy="555.4" r="0.35"/><circle cx="176.7" cy="554.5" r="0.35"/><circle cx="180.1" cy="563.5" r="0.35"/><circle cx="182.7" cy="564.8" r="0.35"/><circle cx="174.8" cy="556.6" r="0.35"/><circle cx="182.7" cy="563.6" r="0.35"/><circle cx="166.1" cy="564.3" r="0.35"/><circle cx="186.6" cy="550.6" r="0.35"/><circle cx="177.3" cy="574.9" r="0.35"/><circle cx="176.5" cy="570.4" r="0.35"/><circle cx="173.7" cy="558.7" r="0.35"/><circle cx="173.5" cy="558.4" r="0.35"/><circle cx="179.3" cy="554.4" r="0.35"/><circle cx="178.8" cy="554.9" r="0.35"/><circle cx="184.4" cy="560.5" r="0.35"/><circle cx="184.3" cy="552.3" r="0.35"/><circle cx="177.9" cy="569.5" r="0.35"/><circle cx="173.7" cy="570.3" r="0.35"/><circle cx="177.1" cy="564.7" r="0.35"/><circle cx="179.7" cy="560.0" r="0.35"/><circle cx="181.5" cy="565.3" r="0.35"/><circle cx="174.2" cy="568.8" r="0.35"/><circle cx="174.5" cy="560.1" r="0.35"/></g>
<rect x="189.5" y="498.8" width="26" height="47.4" fill="none" stroke="#2f9a48" stroke-width="1.15"/>
<rect x="188.3" y="548.3" width="27.2" height="29.2" fill="none" stroke="#3a3a98" stroke-width="1.15"/>
<rect x="160.8" y="548.3" width="26.7" height="29.2" fill="none" stroke="#ee6a3a" stroke-width="1.15"/>
<text x="203.00" y="496.20" font-size="6.8" fill="#3aa050" stroke="#3aa050" stroke-width="0.08" text-anchor="middle" textLength="27" lengthAdjust="spacingAndGlyphs" >pre-HSC II</text>
<text x="133.70" y="553.00" font-size="6.8" fill="#f29a40" stroke="#f29a40" stroke-width="0.08" textLength="24.5" lengthAdjust="spacingAndGlyphs" >pro-HSC</text>
<text x="188.80" y="584.20" font-size="6.8" fill="#3a4a98" stroke="#3a4a98" stroke-width="0.08" textLength="27.5" lengthAdjust="spacingAndGlyphs" >pre-HSC I</text>
<line x1="215.50" y1="512.50" x2="241.60" y2="512.50" stroke="#2f9a48" stroke-width="1.05" />
<line x1="215.50" y1="557.50" x2="241.60" y2="557.50" stroke="#3a3a98" stroke-width="1.05" />
<line x1="177.50" y1="572.50" x2="233.00" y2="572.50" stroke="#ee6a3a" stroke-width="1.05" />
<path d="M237.6 572.5 L232.6 570.1 L232.6 574.9 Z" fill="#ee6a3a"/>
<text x="122.20" y="541.30" font-size="9.8" fill="#141414" stroke="#141414" stroke-width="0.22" text-anchor="middle" textLength="18.8" lengthAdjust="spacingAndGlyphs" transform="rotate(-90 122.20 541.30)" >CD45</text>
<text x="173.80" y="601.20" font-size="9.8" fill="#141414" stroke="#141414" stroke-width="0.22" text-anchor="middle" textLength="18.5" lengthAdjust="spacingAndGlyphs" >CD43</text>
<g fill="#d8a8c8" opacity="0.9"><circle cx="277.0" cy="539.6" r="0.35"/><circle cx="275.0" cy="557.0" r="0.35"/><circle cx="277.7" cy="559.0" r="0.35"/><circle cx="269.8" cy="541.1" r="0.35"/><circle cx="274.6" cy="570.0" r="0.35"/><circle cx="277.7" cy="546.1" r="0.35"/><circle cx="275.8" cy="555.8" r="0.35"/><circle cx="273.7" cy="548.7" r="0.35"/><circle cx="269.5" cy="541.9" r="0.35"/><circle cx="276.2" cy="552.6" r="0.35"/><circle cx="274.2" cy="561.6" r="0.35"/><circle cx="278.2" cy="539.0" r="0.35"/><circle cx="273.5" cy="552.9" r="0.35"/><circle cx="271.5" cy="550.5" r="0.35"/><circle cx="271.7" cy="572.2" r="0.35"/><circle cx="273.1" cy="560.8" r="0.35"/><circle cx="269.6" cy="533.6" r="0.35"/><circle cx="279.0" cy="556.5" r="0.35"/></g>
<rect x="284.4" y="521.3" width="31.1" height="64.8" fill="none" stroke="#ee6a3a" stroke-width="1.15"/>
<text x="300.00" y="518.70" font-size="7" fill="#f29a40" stroke="#f29a40" stroke-width="0.08" text-anchor="middle" textLength="16.5" lengthAdjust="spacingAndGlyphs" >0.00%</text>
<text x="246.20" y="504.90" font-size="6.8" fill="#f29a40" stroke="#f29a40" stroke-width="0.08" textLength="24.5" lengthAdjust="spacingAndGlyphs" >pro-HSC</text>
<text x="234.60" y="541.50" font-size="10" fill="#141414" stroke="#141414" stroke-width="0.22" text-anchor="middle" textLength="13.3" lengthAdjust="spacingAndGlyphs" transform="rotate(-90 234.60 541.50)" >SSC</text>
<text x="279.00" y="600.80" font-size="9.8" fill="#141414" stroke="#141414" stroke-width="0.22" text-anchor="middle" textLength="20.3" lengthAdjust="spacingAndGlyphs" >Adrb2</text>
<line x1="317.00" y1="512.50" x2="336.80" y2="512.50" stroke="#2f9a48" stroke-width="1.05" />
<line x1="317.00" y1="557.50" x2="327.80" y2="557.50" stroke="#2a2a88" stroke-width="1.05" />
<path d="M332.2 557.3 L327.2 554.9 L327.2 559.7 Z" fill="#2a2a88"/>
<g fill="#8888c8" opacity="0.95"><circle cx="372.8" cy="552.1" r="0.42"/><circle cx="377.2" cy="558.5" r="0.42"/><circle cx="370.3" cy="563.5" r="0.42"/><circle cx="380.5" cy="553.1" r="0.42"/><circle cx="360.2" cy="564.4" r="0.42"/><circle cx="378.4" cy="552.2" r="0.42"/><circle cx="368.7" cy="556.5" r="0.42"/><circle cx="379.1" cy="560.7" r="0.42"/><circle cx="372.8" cy="547.8" r="0.42"/><circle cx="365.5" cy="547.8" r="0.42"/><circle cx="369.0" cy="548.1" r="0.42"/><circle cx="379.4" cy="547.9" r="0.42"/><circle cx="363.1" cy="559.3" r="0.42"/><circle cx="375.7" cy="554.1" r="0.42"/><circle cx="376.7" cy="555.0" r="0.42"/><circle cx="378.7" cy="548.6" r="0.42"/><circle cx="374.8" cy="549.1" r="0.42"/><circle cx="373.4" cy="558.9" r="0.42"/><circle cx="375.6" cy="557.2" r="0.42"/><circle cx="378.0" cy="565.5" r="0.42"/><circle cx="365.4" cy="552.0" r="0.42"/><circle cx="378.8" cy="554.4" r="0.42"/><circle cx="378.3" cy="567.4" r="0.42"/><circle cx="378.1" cy="560.1" r="0.42"/><circle cx="375.3" cy="552.2" r="0.42"/><circle cx="373.3" cy="564.4" r="0.42"/><circle cx="381.4" cy="562.5" r="0.42"/><circle cx="373.9" cy="546.7" r="0.42"/><circle cx="374.4" cy="551.5" r="0.42"/><circle cx="377.2" cy="548.4" r="0.42"/><circle cx="367.9" cy="563.0" r="0.42"/><circle cx="372.7" cy="555.5" r="0.42"/><circle cx="373.6" cy="553.3" r="0.42"/><circle cx="371.1" cy="553.3" r="0.42"/><circle cx="370.0" cy="558.6" r="0.42"/><circle cx="372.0" cy="546.2" r="0.42"/><circle cx="372.1" cy="558.8" r="0.42"/><circle cx="374.3" cy="552.7" r="0.42"/><circle cx="367.7" cy="549.7" r="0.42"/><circle cx="373.3" cy="553.9" r="0.42"/><circle cx="379.6" cy="559.6" r="0.42"/><circle cx="375.4" cy="546.0" r="0.42"/><circle cx="381.0" cy="554.0" r="0.42"/><circle cx="363.9" cy="562.3" r="0.42"/><circle cx="374.2" cy="558.1" r="0.42"/><circle cx="373.2" cy="556.0" r="0.42"/><circle cx="368.9" cy="551.7" r="0.42"/><circle cx="376.3" cy="563.3" r="0.42"/><circle cx="367.2" cy="556.9" r="0.42"/><circle cx="376.0" cy="543.7" r="0.42"/><circle cx="373.2" cy="552.3" r="0.42"/><circle cx="368.0" cy="550.7" r="0.42"/><circle cx="375.5" cy="560.9" r="0.42"/><circle cx="370.5" cy="554.3" r="0.42"/><circle cx="377.2" cy="557.6" r="0.42"/><circle cx="367.4" cy="560.8" r="0.42"/><circle cx="382.7" cy="553.9" r="0.42"/><circle cx="384.1" cy="543.4" r="0.42"/><circle cx="367.8" cy="554.3" r="0.42"/><circle cx="381.1" cy="556.9" r="0.42"/><circle cx="376.1" cy="549.9" r="0.42"/><circle cx="372.4" cy="553.1" r="0.42"/><circle cx="378.4" cy="552.4" r="0.42"/><circle cx="370.9" cy="556.2" r="0.42"/><circle cx="381.6" cy="543.3" r="0.42"/><circle cx="369.3" cy="559.1" r="0.42"/><circle cx="372.4" cy="564.9" r="0.42"/><circle cx="367.6" cy="546.4" r="0.42"/><circle cx="379.3" cy="555.9" r="0.42"/><circle cx="375.0" cy="554.7" r="0.42"/><circle cx="370.9" cy="550.5" r="0.42"/><circle cx="376.8" cy="558.7" r="0.42"/><circle cx="377.0" cy="554.0" r="0.42"/><circle cx="365.1" cy="557.1" r="0.42"/><circle cx="374.7" cy="555.9" r="0.42"/><circle cx="369.0" cy="549.5" r="0.42"/><circle cx="382.3" cy="557.9" r="0.42"/><circle cx="374.7" cy="546.3" r="0.42"/><circle cx="374.4" cy="569.7" r="0.42"/><circle cx="364.7" cy="550.5" r="0.42"/><circle cx="368.1" cy="552.5" r="0.42"/><circle cx="378.5" cy="552.5" r="0.42"/><circle cx="369.5" cy="570.7" r="0.42"/><circle cx="376.4" cy="554.9" r="0.42"/><circle cx="378.8" cy="546.5" r="0.42"/><circle cx="374.8" cy="559.6" r="0.42"/><circle cx="382.0" cy="559.4" r="0.42"/><circle cx="381.5" cy="561.0" r="0.42"/></g>
<rect x="386.8" y="520.8" width="30.7" height="64.8" fill="none" stroke="#5a5ab0" stroke-width="1.15"/>
<text x="402.00" y="518.30" font-size="7" fill="#3a5a98" stroke="#3a5a98" stroke-width="0.08" text-anchor="middle" textLength="16.5" lengthAdjust="spacingAndGlyphs" >2.70%</text>
<text x="340.50" y="504.40" font-size="6.8" fill="#3a5a98" stroke="#3a5a98" stroke-width="0.08" textLength="27" lengthAdjust="spacingAndGlyphs" >pre-HSC I</text>
<text x="329.60" y="541.50" font-size="10" fill="#141414" stroke="#141414" stroke-width="0.22" text-anchor="middle" textLength="13.3" lengthAdjust="spacingAndGlyphs" transform="rotate(-90 329.60 541.50)" >SSC</text>
<text x="377.50" y="600.80" font-size="9.8" fill="#141414" stroke="#141414" stroke-width="0.22" text-anchor="middle" textLength="20.3" lengthAdjust="spacingAndGlyphs" >Adrb2</text>
<line x1="418.80" y1="512.50" x2="427.40" y2="512.50" stroke="#2f9a48" stroke-width="1.05" />
<path d="M431.8 512.5 L426.8 510.1 L426.8 514.9 Z" fill="#2f9a48"/>
<g fill="#80c080" opacity="0.95"><circle cx="473.4" cy="560.3" r="0.38"/><circle cx="468.6" cy="553.7" r="0.38"/><circle cx="468.1" cy="548.8" r="0.38"/><circle cx="461.3" cy="552.8" r="0.38"/><circle cx="472.1" cy="545.9" r="0.38"/><circle cx="474.1" cy="550.9" r="0.38"/><circle cx="465.1" cy="552.7" r="0.38"/><circle cx="473.0" cy="544.7" r="0.38"/><circle cx="471.4" cy="560.2" r="0.38"/><circle cx="465.8" cy="559.5" r="0.38"/><circle cx="467.6" cy="554.4" r="0.38"/><circle cx="458.7" cy="554.2" r="0.38"/><circle cx="464.1" cy="538.8" r="0.38"/><circle cx="473.5" cy="545.9" r="0.38"/><circle cx="466.5" cy="564.1" r="0.38"/><circle cx="466.3" cy="548.5" r="0.38"/><circle cx="477.5" cy="553.4" r="0.38"/><circle cx="471.3" cy="564.5" r="0.38"/><circle cx="471.4" cy="549.6" r="0.38"/><circle cx="464.6" cy="551.5" r="0.38"/><circle cx="475.1" cy="558.3" r="0.38"/><circle cx="463.7" cy="548.2" r="0.38"/><circle cx="467.2" cy="554.6" r="0.38"/><circle cx="466.9" cy="546.4" r="0.38"/><circle cx="475.3" cy="556.3" r="0.38"/><circle cx="465.3" cy="555.9" r="0.38"/><circle cx="462.1" cy="549.3" r="0.38"/><circle cx="461.0" cy="550.8" r="0.38"/><circle cx="462.7" cy="550.6" r="0.38"/><circle cx="454.0" cy="551.8" r="0.38"/><circle cx="467.8" cy="559.1" r="0.38"/><circle cx="461.2" cy="553.8" r="0.38"/><circle cx="462.6" cy="560.2" r="0.38"/><circle cx="469.1" cy="550.4" r="0.38"/><circle cx="453.3" cy="558.4" r="0.38"/><circle cx="474.2" cy="552.1" r="0.38"/><circle cx="462.5" cy="558.1" r="0.38"/><circle cx="465.9" cy="546.7" r="0.38"/><circle cx="473.0" cy="556.0" r="0.38"/><circle cx="472.0" cy="551.4" r="0.38"/><circle cx="472.0" cy="548.7" r="0.38"/><circle cx="463.3" cy="542.7" r="0.38"/><circle cx="467.3" cy="541.9" r="0.38"/><circle cx="463.4" cy="541.8" r="0.38"/><circle cx="466.4" cy="566.5" r="0.38"/><circle cx="461.9" cy="546.8" r="0.38"/><circle cx="463.4" cy="547.3" r="0.38"/><circle cx="467.2" cy="567.5" r="0.38"/><circle cx="467.6" cy="558.4" r="0.38"/><circle cx="461.6" cy="547.5" r="0.38"/><circle cx="469.8" cy="555.1" r="0.38"/><circle cx="466.8" cy="548.2" r="0.38"/><circle cx="464.1" cy="552.4" r="0.38"/><circle cx="478.8" cy="560.9" r="0.38"/><circle cx="461.3" cy="554.9" r="0.38"/><circle cx="469.2" cy="553.8" r="0.38"/><circle cx="455.0" cy="550.4" r="0.38"/><circle cx="471.2" cy="549.3" r="0.38"/><circle cx="463.0" cy="551.6" r="0.38"/><circle cx="467.9" cy="548.7" r="0.38"/><circle cx="465.4" cy="556.3" r="0.38"/><circle cx="465.8" cy="537.9" r="0.38"/><circle cx="462.3" cy="554.3" r="0.38"/><circle cx="468.5" cy="550.4" r="0.38"/><circle cx="466.9" cy="545.9" r="0.38"/><circle cx="469.7" cy="549.1" r="0.38"/><circle cx="473.2" cy="542.1" r="0.38"/><circle cx="465.2" cy="556.4" r="0.38"/><circle cx="465.2" cy="549.9" r="0.38"/><circle cx="462.7" cy="549.2" r="0.38"/><circle cx="465.3" cy="549.1" r="0.38"/><circle cx="465.0" cy="546.9" r="0.38"/><circle cx="459.4" cy="546.9" r="0.38"/><circle cx="468.7" cy="557.4" r="0.38"/><circle cx="464.8" cy="541.6" r="0.38"/><circle cx="467.4" cy="550.9" r="0.38"/><circle cx="462.9" cy="556.1" r="0.38"/><circle cx="470.9" cy="546.5" r="0.38"/><circle cx="465.1" cy="555.6" r="0.38"/><circle cx="462.2" cy="554.2" r="0.38"/><circle cx="473.5" cy="553.3" r="0.38"/><circle cx="470.4" cy="547.4" r="0.38"/><circle cx="456.7" cy="556.4" r="0.38"/><circle cx="478.7" cy="547.0" r="0.38"/><circle cx="466.4" cy="547.5" r="0.38"/><circle cx="463.6" cy="556.9" r="0.38"/><circle cx="469.3" cy="540.4" r="0.38"/><circle cx="467.7" cy="548.3" r="0.38"/></g>
<g fill="#6464b0" opacity="0.9"><circle cx="487.1" cy="566.4" r="0.45"/><circle cx="484.8" cy="563.6" r="0.45"/><circle cx="495.5" cy="559.4" r="0.45"/><circle cx="493.8" cy="553.6" r="0.45"/><circle cx="486.5" cy="567.0" r="0.45"/><circle cx="490.9" cy="569.8" r="0.45"/><circle cx="490.8" cy="550.7" r="0.45"/><circle cx="489.6" cy="549.0" r="0.45"/><circle cx="490.4" cy="545.1" r="0.45"/><circle cx="489.9" cy="544.7" r="0.45"/><circle cx="489.2" cy="556.4" r="0.45"/><circle cx="491.7" cy="572.6" r="0.45"/><circle cx="495.1" cy="565.9" r="0.45"/><circle cx="489.1" cy="555.5" r="0.45"/><circle cx="493.5" cy="552.2" r="0.45"/><circle cx="490.1" cy="564.8" r="0.45"/><circle cx="487.5" cy="550.8" r="0.45"/><circle cx="483.9" cy="552.7" r="0.45"/><circle cx="486.8" cy="570.6" r="0.45"/><circle cx="495.8" cy="556.2" r="0.45"/><circle cx="487.2" cy="560.9" r="0.45"/><circle cx="486.2" cy="559.0" r="0.45"/><circle cx="488.8" cy="556.6" r="0.45"/><circle cx="489.1" cy="561.7" r="0.45"/><circle cx="491.5" cy="562.9" r="0.45"/><circle cx="483.9" cy="556.1" r="0.45"/><circle cx="484.6" cy="568.6" r="0.45"/><circle cx="481.2" cy="559.3" r="0.45"/><circle cx="488.0" cy="564.0" r="0.45"/><circle cx="492.6" cy="568.8" r="0.45"/><circle cx="482.7" cy="550.3" r="0.45"/><circle cx="483.9" cy="559.2" r="0.45"/><circle cx="493.4" cy="571.9" r="0.45"/><circle cx="491.4" cy="560.9" r="0.45"/><circle cx="490.8" cy="558.8" r="0.45"/><circle cx="499.7" cy="553.6" r="0.45"/><circle cx="492.7" cy="561.7" r="0.45"/><circle cx="491.8" cy="542.4" r="0.45"/><circle cx="482.5" cy="555.4" r="0.45"/><circle cx="484.6" cy="563.9" r="0.45"/><circle cx="493.9" cy="563.0" r="0.45"/><circle cx="490.8" cy="569.1" r="0.45"/><circle cx="489.3" cy="560.5" r="0.45"/><circle cx="487.2" cy="560.5" r="0.45"/><circle cx="489.1" cy="559.0" r="0.45"/><circle cx="487.4" cy="560.9" r="0.45"/><circle cx="486.6" cy="565.9" r="0.45"/><circle cx="489.3" cy="551.6" r="0.45"/><circle cx="487.1" cy="561.4" r="0.45"/><circle cx="485.3" cy="552.3" r="0.45"/><circle cx="489.6" cy="562.4" r="0.45"/><circle cx="488.7" cy="554.1" r="0.45"/><circle cx="489.7" cy="550.7" r="0.45"/><circle cx="492.0" cy="562.3" r="0.45"/><circle cx="495.2" cy="553.9" r="0.45"/><circle cx="483.1" cy="541.2" r="0.45"/><circle cx="495.3" cy="558.5" r="0.45"/><circle cx="492.2" cy="553.5" r="0.45"/><circle cx="491.6" cy="555.7" r="0.45"/><circle cx="498.2" cy="552.6" r="0.45"/><circle cx="493.0" cy="544.0" r="0.45"/><circle cx="487.4" cy="550.1" r="0.45"/><circle cx="493.6" cy="565.8" r="0.45"/><circle cx="495.5" cy="566.3" r="0.45"/><circle cx="491.8" cy="546.5" r="0.45"/><circle cx="489.3" cy="553.8" r="0.45"/><circle cx="486.4" cy="554.5" r="0.45"/><circle cx="492.7" cy="552.9" r="0.45"/><circle cx="485.1" cy="564.5" r="0.45"/><circle cx="490.4" cy="549.9" r="0.45"/><circle cx="486.1" cy="566.0" r="0.45"/><circle cx="488.1" cy="557.7" r="0.45"/><circle cx="489.3" cy="562.6" r="0.45"/><circle cx="487.9" cy="558.8" r="0.45"/><circle cx="489.9" cy="550.3" r="0.45"/><circle cx="492.8" cy="566.7" r="0.45"/><circle cx="489.7" cy="557.4" r="0.45"/><circle cx="489.1" cy="551.7" r="0.45"/><circle cx="495.4" cy="550.4" r="0.45"/><circle cx="485.2" cy="551.2" r="0.45"/><circle cx="491.6" cy="568.8" r="0.45"/><circle cx="487.8" cy="548.7" r="0.45"/><circle cx="487.2" cy="560.4" r="0.45"/><circle cx="488.0" cy="561.7" r="0.45"/><circle cx="486.9" cy="550.7" r="0.45"/><circle cx="485.3" cy="551.1" r="0.45"/><circle cx="488.5" cy="567.6" r="0.45"/><circle cx="490.9" cy="550.2" r="0.45"/><circle cx="490.7" cy="563.8" r="0.45"/><circle cx="488.4" cy="564.2" r="0.45"/><circle cx="488.2" cy="553.2" r="0.45"/><circle cx="491.6" cy="574.3" r="0.45"/><circle cx="483.2" cy="552.1" r="0.45"/><circle cx="488.0" cy="560.4" r="0.45"/><circle cx="496.1" cy="565.2" r="0.45"/><circle cx="490.8" cy="559.4" r="0.45"/><circle cx="486.7" cy="555.2" r="0.45"/><circle cx="492.4" cy="560.4" r="0.45"/><circle cx="487.8" cy="557.0" r="0.45"/><circle cx="487.8" cy="562.5" r="0.45"/><circle cx="482.6" cy="558.5" r="0.45"/><circle cx="484.8" cy="553.2" r="0.45"/><circle cx="489.7" cy="558.0" r="0.45"/><circle cx="494.5" cy="566.0" r="0.45"/><circle cx="486.1" cy="559.4" r="0.45"/><circle cx="491.1" cy="555.2" r="0.45"/><circle cx="483.6" cy="560.5" r="0.45"/><circle cx="489.2" cy="556.7" r="0.45"/><circle cx="489.1" cy="571.9" r="0.45"/><circle cx="487.0" cy="554.7" r="0.45"/><circle cx="492.7" cy="554.2" r="0.45"/><circle cx="491.4" cy="555.5" r="0.45"/><circle cx="487.1" cy="554.8" r="0.45"/><circle cx="494.3" cy="559.2" r="0.45"/><circle cx="486.6" cy="558.5" r="0.45"/><circle cx="488.1" cy="565.2" r="0.45"/><circle cx="483.7" cy="546.4" r="0.45"/><circle cx="488.4" cy="543.5" r="0.45"/><circle cx="489.2" cy="560.4" r="0.45"/><circle cx="493.1" cy="569.3" r="0.45"/><circle cx="494.0" cy="565.5" r="0.45"/><circle cx="495.3" cy="558.3" r="0.45"/><circle cx="487.3" cy="559.3" r="0.45"/><circle cx="490.7" cy="555.4" r="0.45"/><circle cx="493.3" cy="559.3" r="0.45"/><circle cx="499.2" cy="548.9" r="0.45"/><circle cx="488.6" cy="558.8" r="0.45"/><circle cx="486.0" cy="560.5" r="0.45"/><circle cx="487.7" cy="553.8" r="0.45"/><circle cx="484.1" cy="566.1" r="0.45"/><circle cx="490.2" cy="554.3" r="0.45"/><circle cx="488.5" cy="558.5" r="0.45"/><circle cx="489.0" cy="559.0" r="0.45"/><circle cx="487.3" cy="554.3" r="0.45"/><circle cx="493.1" cy="555.8" r="0.45"/><circle cx="492.3" cy="568.5" r="0.45"/><circle cx="486.2" cy="564.2" r="0.45"/><circle cx="489.0" cy="552.5" r="0.45"/><circle cx="488.5" cy="558.6" r="0.45"/><circle cx="489.0" cy="561.4" r="0.45"/><circle cx="485.7" cy="559.1" r="0.45"/><circle cx="490.2" cy="565.0" r="0.45"/><circle cx="497.5" cy="560.0" r="0.45"/><circle cx="491.4" cy="554.8" r="0.45"/><circle cx="494.8" cy="558.4" r="0.45"/><circle cx="486.7" cy="558.7" r="0.45"/><circle cx="487.6" cy="547.3" r="0.45"/><circle cx="490.4" cy="552.1" r="0.45"/><circle cx="491.1" cy="555.7" r="0.45"/><circle cx="491.9" cy="541.4" r="0.45"/><circle cx="491.4" cy="560.0" r="0.45"/><circle cx="487.3" cy="550.3" r="0.45"/><circle cx="489.9" cy="560.0" r="0.45"/><circle cx="498.5" cy="550.5" r="0.45"/><circle cx="490.5" cy="557.8" r="0.45"/><circle cx="489.4" cy="551.9" r="0.45"/><circle cx="487.6" cy="563.0" r="0.45"/><circle cx="488.7" cy="552.7" r="0.45"/><circle cx="489.9" cy="560.4" r="0.45"/><circle cx="492.8" cy="561.1" r="0.45"/><circle cx="488.8" cy="550.6" r="0.45"/><circle cx="496.2" cy="556.0" r="0.45"/><circle cx="492.7" cy="554.0" r="0.45"/><circle cx="484.4" cy="558.0" r="0.45"/><circle cx="488.1" cy="556.0" r="0.45"/><circle cx="486.0" cy="556.9" r="0.45"/><circle cx="485.7" cy="559.3" r="0.45"/><circle cx="485.0" cy="558.6" r="0.45"/><circle cx="488.8" cy="562.5" r="0.45"/><circle cx="495.0" cy="558.8" r="0.45"/><circle cx="488.3" cy="571.0" r="0.45"/><circle cx="490.1" cy="553.3" r="0.45"/><circle cx="489.0" cy="563.2" r="0.45"/><circle cx="492.0" cy="559.5" r="0.45"/><circle cx="496.9" cy="549.8" r="0.45"/><circle cx="483.4" cy="546.0" r="0.45"/><circle cx="493.4" cy="561.6" r="0.45"/><circle cx="492.0" cy="558.1" r="0.45"/><circle cx="497.1" cy="561.2" r="0.45"/><circle cx="483.5" cy="549.4" r="0.45"/><circle cx="494.9" cy="565.1" r="0.45"/><circle cx="483.8" cy="552.4" r="0.45"/><circle cx="489.2" cy="560.4" r="0.45"/><circle cx="487.5" cy="554.6" r="0.45"/><circle cx="490.6" cy="562.1" r="0.45"/><circle cx="493.3" cy="563.9" r="0.45"/><circle cx="489.7" cy="556.2" r="0.45"/><circle cx="491.7" cy="570.3" r="0.45"/><circle cx="489.6" cy="567.7" r="0.45"/><circle cx="491.8" cy="570.1" r="0.45"/><circle cx="488.3" cy="557.6" r="0.45"/><circle cx="486.9" cy="567.3" r="0.45"/><circle cx="489.6" cy="562.4" r="0.45"/><circle cx="489.0" cy="559.8" r="0.45"/><circle cx="491.0" cy="560.1" r="0.45"/><circle cx="487.6" cy="570.4" r="0.45"/><circle cx="492.1" cy="555.0" r="0.45"/><circle cx="489.1" cy="546.9" r="0.45"/><circle cx="491.8" cy="558.3" r="0.45"/><circle cx="487.3" cy="545.8" r="0.45"/><circle cx="489.5" cy="557.1" r="0.45"/><circle cx="492.3" cy="549.4" r="0.45"/><circle cx="488.7" cy="557.9" r="0.45"/><circle cx="489.9" cy="559.4" r="0.45"/><circle cx="485.3" cy="556.1" r="0.45"/><circle cx="494.5" cy="566.3" r="0.45"/><circle cx="488.0" cy="560.9" r="0.45"/><circle cx="487.3" cy="556.4" r="0.45"/><circle cx="490.0" cy="563.4" r="0.45"/><circle cx="489.9" cy="556.1" r="0.45"/><circle cx="489.7" cy="562.5" r="0.45"/><circle cx="487.0" cy="550.5" r="0.45"/><circle cx="487.8" cy="560.6" r="0.45"/><circle cx="497.0" cy="560.9" r="0.45"/><circle cx="488.6" cy="557.6" r="0.45"/><circle cx="485.4" cy="549.7" r="0.45"/><circle cx="491.8" cy="574.0" r="0.45"/><circle cx="491.2" cy="565.1" r="0.45"/><circle cx="481.7" cy="565.4" r="0.45"/><circle cx="484.1" cy="560.3" r="0.45"/><circle cx="489.0" cy="553.8" r="0.45"/><circle cx="485.9" cy="560.8" r="0.45"/><circle cx="488.4" cy="562.8" r="0.45"/><circle cx="494.6" cy="575.7" r="0.45"/><circle cx="491.2" cy="557.3" r="0.45"/><circle cx="492.5" cy="558.8" r="0.45"/><circle cx="489.7" cy="551.7" r="0.45"/><circle cx="486.1" cy="560.2" r="0.45"/><circle cx="493.4" cy="560.6" r="0.45"/><circle cx="489.3" cy="573.6" r="0.45"/><circle cx="487.7" cy="555.1" r="0.45"/><circle cx="491.8" cy="551.7" r="0.45"/><circle cx="485.9" cy="551.0" r="0.45"/><circle cx="489.2" cy="554.5" r="0.45"/><circle cx="493.2" cy="551.1" r="0.45"/><circle cx="489.8" cy="548.3" r="0.45"/><circle cx="490.4" cy="577.2" r="0.45"/><circle cx="488.4" cy="544.7" r="0.45"/><circle cx="488.9" cy="564.4" r="0.45"/><circle cx="498.0" cy="543.5" r="0.45"/><circle cx="488.9" cy="555.5" r="0.45"/><circle cx="488.5" cy="566.9" r="0.45"/><circle cx="492.5" cy="559.3" r="0.45"/><circle cx="482.6" cy="553.0" r="0.45"/><circle cx="486.9" cy="546.3" r="0.45"/><circle cx="491.3" cy="571.7" r="0.45"/><circle cx="490.0" cy="563.9" r="0.45"/><circle cx="488.1" cy="554.9" r="0.45"/><circle cx="494.6" cy="559.8" r="0.45"/><circle cx="493.8" cy="562.7" r="0.45"/><circle cx="492.6" cy="563.7" r="0.45"/><circle cx="492.3" cy="555.0" r="0.45"/><circle cx="491.5" cy="572.1" r="0.45"/><circle cx="492.7" cy="555.3" r="0.45"/><circle cx="489.3" cy="554.1" r="0.45"/><circle cx="491.8" cy="559.6" r="0.45"/><circle cx="484.8" cy="552.5" r="0.45"/><circle cx="490.6" cy="561.8" r="0.45"/><circle cx="488.7" cy="563.8" r="0.45"/><circle cx="486.2" cy="567.7" r="0.45"/><circle cx="485.9" cy="567.1" r="0.45"/><circle cx="485.3" cy="547.1" r="0.45"/><circle cx="482.0" cy="549.8" r="0.45"/><circle cx="486.6" cy="564.8" r="0.45"/><circle cx="490.2" cy="563.2" r="0.45"/><circle cx="485.7" cy="569.2" r="0.45"/><circle cx="492.5" cy="554.9" r="0.45"/><circle cx="487.7" cy="563.6" r="0.45"/><circle cx="486.2" cy="556.1" r="0.45"/><circle cx="494.5" cy="558.6" r="0.45"/><circle cx="486.8" cy="565.5" r="0.45"/><circle cx="481.4" cy="562.6" r="0.45"/><circle cx="491.9" cy="569.7" r="0.45"/><circle cx="488.8" cy="565.4" r="0.45"/><circle cx="491.9" cy="560.2" r="0.45"/><circle cx="488.4" cy="563.6" r="0.45"/><circle cx="488.4" cy="556.5" r="0.45"/><circle cx="488.1" cy="566.6" r="0.45"/><circle cx="485.2" cy="557.2" r="0.45"/><circle cx="490.7" cy="563.5" r="0.45"/><circle cx="490.8" cy="539.3" r="0.45"/><circle cx="490.2" cy="561.4" r="0.45"/><circle cx="497.9" cy="543.4" r="0.45"/><circle cx="482.6" cy="568.6" r="0.45"/><circle cx="483.6" cy="551.2" r="0.45"/><circle cx="490.2" cy="559.4" r="0.45"/><circle cx="491.5" cy="552.8" r="0.45"/><circle cx="493.9" cy="566.0" r="0.45"/><circle cx="491.7" cy="559.0" r="0.45"/><circle cx="489.2" cy="548.3" r="0.45"/><circle cx="485.0" cy="558.2" r="0.45"/><circle cx="487.4" cy="556.2" r="0.45"/><circle cx="486.8" cy="566.3" r="0.45"/><circle cx="490.1" cy="570.4" r="0.45"/><circle cx="493.5" cy="554.4" r="0.45"/><circle cx="490.9" cy="563.6" r="0.45"/><circle cx="486.5" cy="555.3" r="0.45"/><circle cx="489.0" cy="559.8" r="0.45"/><circle cx="487.0" cy="563.0" r="0.45"/><circle cx="496.8" cy="571.5" r="0.45"/><circle cx="490.8" cy="542.3" r="0.45"/><circle cx="489.6" cy="568.8" r="0.45"/><circle cx="489.0" cy="554.2" r="0.45"/><circle cx="485.1" cy="553.2" r="0.45"/><circle cx="486.0" cy="554.5" r="0.45"/><circle cx="489.4" cy="564.1" r="0.45"/><circle cx="487.8" cy="565.9" r="0.45"/><circle cx="487.6" cy="561.2" r="0.45"/><circle cx="499.1" cy="566.0" r="0.45"/><circle cx="485.2" cy="569.6" r="0.45"/><circle cx="491.1" cy="556.6" r="0.45"/><circle cx="490.4" cy="563.3" r="0.45"/><circle cx="491.8" cy="559.1" r="0.45"/><circle cx="485.7" cy="552.3" r="0.45"/><circle cx="491.4" cy="566.0" r="0.45"/><circle cx="486.2" cy="550.8" r="0.45"/><circle cx="487.3" cy="549.0" r="0.45"/><circle cx="491.0" cy="560.8" r="0.45"/><circle cx="488.9" cy="552.0" r="0.45"/><circle cx="488.1" cy="548.9" r="0.45"/></g>
<rect x="480.1" y="519.9" width="32.4" height="65.3" fill="none" stroke="#2f9a48" stroke-width="1.15"/>
<text x="496.00" y="518.30" font-size="7" fill="#5ab55a" stroke="#5ab55a" stroke-width="0.08" text-anchor="middle" textLength="20" lengthAdjust="spacingAndGlyphs" >88.34%</text>
<text x="439.30" y="504.30" font-size="6.8" fill="#5ab55a" stroke="#5ab55a" stroke-width="0.08" textLength="29" lengthAdjust="spacingAndGlyphs" >pre-HSC II</text>
<text x="428.00" y="541.50" font-size="10" fill="#141414" stroke="#141414" stroke-width="0.22" text-anchor="middle" textLength="13.3" lengthAdjust="spacingAndGlyphs" transform="rotate(-90 428.00 541.50)" >SSC</text>
<text x="473.30" y="600.80" font-size="9.8" fill="#141414" stroke="#141414" stroke-width="0.22" text-anchor="middle" textLength="20.3" lengthAdjust="spacingAndGlyphs" >Adrb2</text>
<rect x="0.5" y="0.5" width="519" height="607" fill="none" stroke="#000" stroke-width="1.1"/>
</svg>
</body></html>
